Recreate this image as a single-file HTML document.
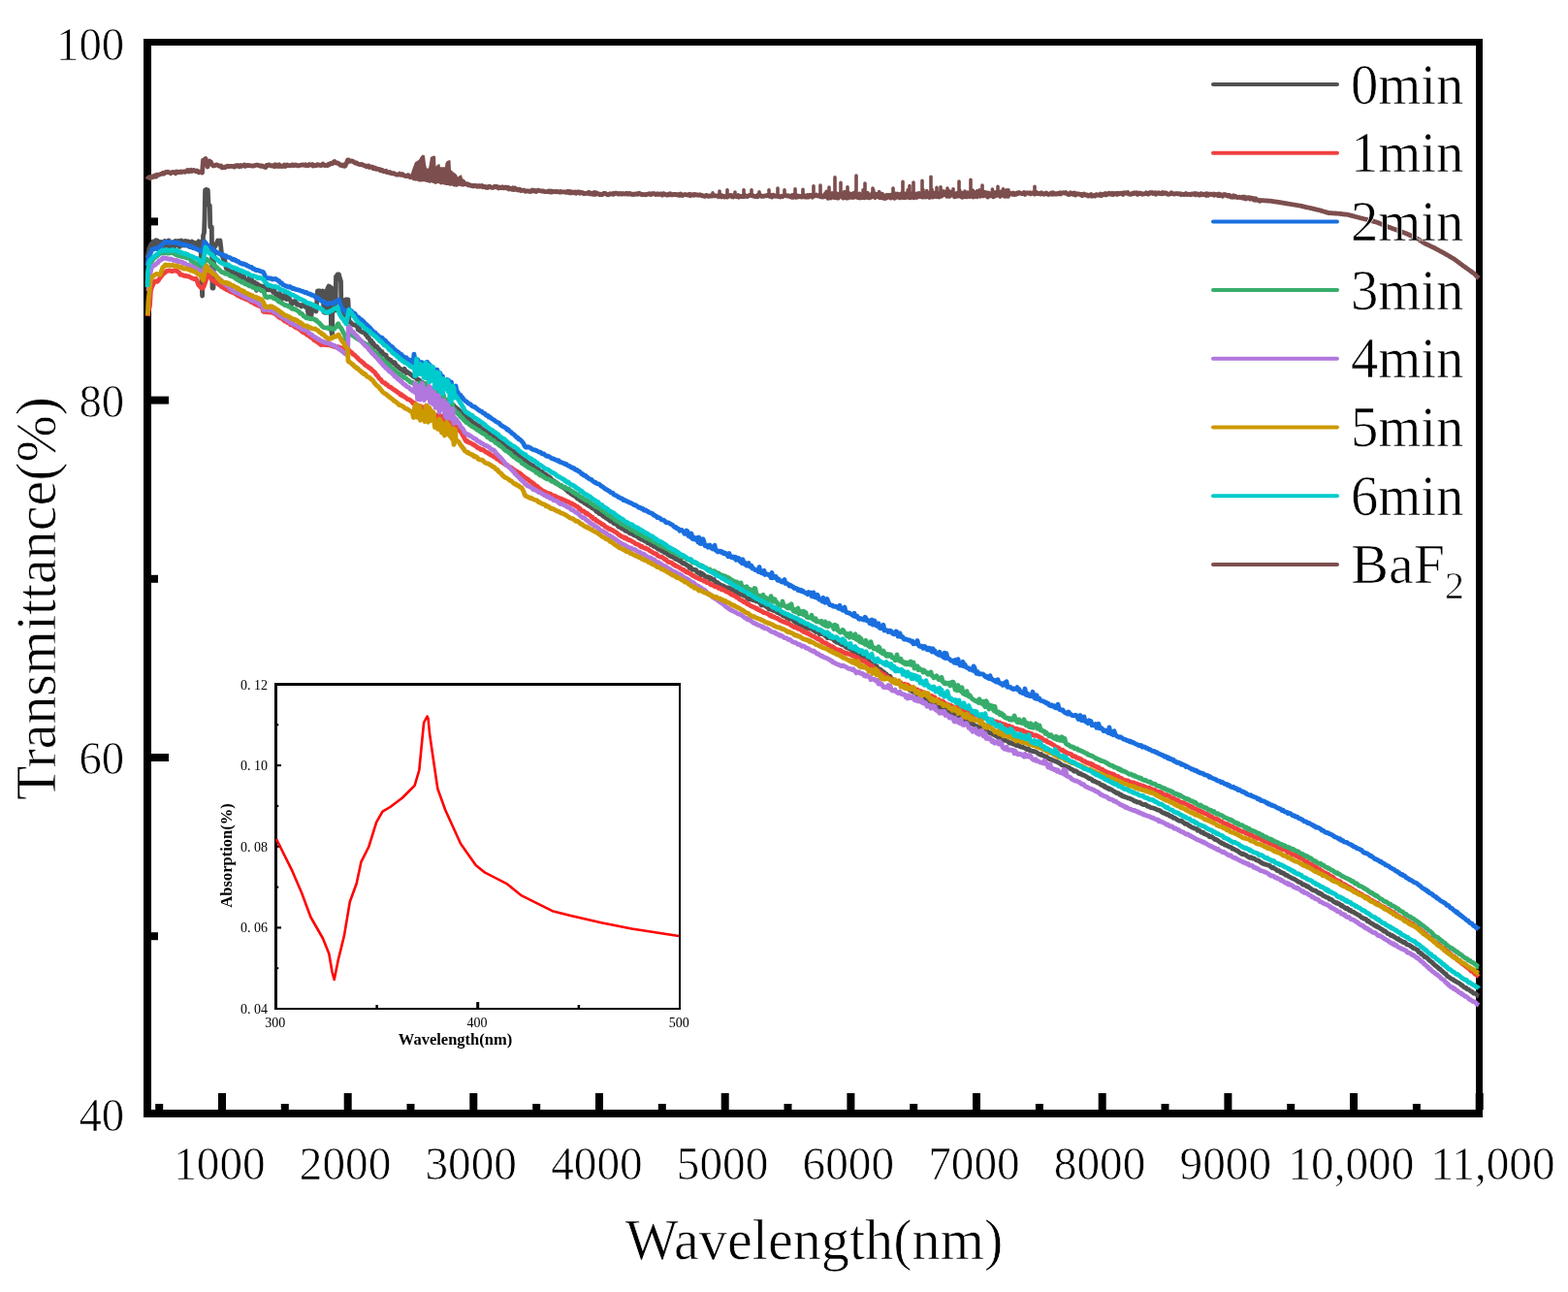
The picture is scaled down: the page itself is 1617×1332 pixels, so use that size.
<!DOCTYPE html>
<html><head><meta charset="utf-8"><style>
html,body{margin:0;padding:0;background:#fff;}
svg{display:block;}
text{font-family:"Liberation Serif","Times New Roman",serif;fill:#000;}
.tk text,.lg,.ti{stroke:#fff;stroke-width:0.7px;}
.tk{font-size:48px;}
.lg{font-size:59px;}
.ti{font-size:60px;}
.it{font-size:14px;}
.ia{font-size:16.5px;font-weight:bold;}
</style></head><body>
<svg width="1617" height="1332" viewBox="0 0 1617 1332">
<rect width="1617" height="1332" fill="#fff"/>
<g fill="#000">
<rect x="148" y="40" width="1381" height="7"/>
<rect x="148" y="1144" width="1381" height="8"/>
<rect x="148" y="40" width="8" height="1112"/>
<rect x="1522" y="40" width="7" height="1112"/>
<rect x="225.0" y="1127" width="8" height="17"/>
<rect x="354.7" y="1127" width="8" height="17"/>
<rect x="484.3" y="1127" width="8" height="17"/>
<rect x="614.0" y="1127" width="8" height="17"/>
<rect x="743.7" y="1127" width="8" height="17"/>
<rect x="873.4" y="1127" width="8" height="17"/>
<rect x="1003.0" y="1127" width="8" height="17"/>
<rect x="1132.7" y="1127" width="8" height="17"/>
<rect x="1262.4" y="1127" width="8" height="17"/>
<rect x="1392.0" y="1127" width="8" height="17"/>
<rect x="1521.7" y="1127" width="8" height="17"/>
<rect x="160.2" y="1138" width="8" height="6"/>
<rect x="289.8" y="1138" width="8" height="6"/>
<rect x="419.5" y="1138" width="8" height="6"/>
<rect x="549.2" y="1138" width="8" height="6"/>
<rect x="678.8" y="1138" width="8" height="6"/>
<rect x="808.5" y="1138" width="8" height="6"/>
<rect x="938.2" y="1138" width="8" height="6"/>
<rect x="1067.9" y="1138" width="8" height="6"/>
<rect x="1197.5" y="1138" width="8" height="6"/>
<rect x="1327.2" y="1138" width="8" height="6"/>
<rect x="1456.9" y="1138" width="8" height="6"/>
<rect x="156" y="408.6" width="18" height="8"/>
<rect x="156" y="777.0" width="18" height="8"/>
<rect x="156" y="224.4" width="7" height="8"/>
<rect x="156" y="592.8" width="7" height="8"/>
<rect x="156" y="961.2" width="7" height="8"/>
</g>
<g fill="none" stroke-width="4.8" stroke-linejoin="round" stroke-linecap="butt">
<path d="M152.0 266.0L153.0 260.6L154.0 256.0L155.0 254.2L156.0 251.5L156.5 251.8L157.0 251.2L157.5 252.5L158.0 249.0L158.5 253.3L159.0 253.3L159.5 250.6L160.0 249.9L160.5 254.9L161.0 247.7L161.5 254.7L162.0 249.4L162.5 248.2L163.0 250.8L163.5 249.7L164.0 249.3L164.5 250.1L165.0 253.4L165.5 252.7L166.0 254.7L166.5 249.4L167.0 253.0L167.5 254.9L168.0 253.8L168.5 250.5L169.0 254.4L169.5 252.1L170.0 248.5L170.5 253.4L171.0 249.3L171.5 253.1L172.0 251.0L172.5 251.6L173.0 252.1L173.5 251.5L174.0 247.9L174.5 255.3L175.0 251.1L175.5 251.3L176.0 254.2L176.5 254.3L177.0 251.5L177.5 252.8L178.0 250.1L178.5 255.0L179.0 253.1L179.5 254.8L180.0 254.2L180.5 252.2L181.0 248.5L181.5 252.7L182.0 251.4L182.5 250.7L183.0 251.8L183.5 252.7L184.0 248.4L184.5 249.2L185.0 254.4L185.5 254.2L186.0 250.5L186.5 253.4L187.0 247.9L187.5 253.0L188.0 248.8L188.5 250.9L189.0 248.9L189.5 249.5L190.0 253.0L190.5 250.5L191.0 248.5L191.5 251.2L192.0 248.7L192.5 252.4L193.0 252.3L193.5 248.9L194.0 248.8L194.5 249.8L195.0 253.4L195.5 250.0L196.0 254.5L196.5 250.0L197.0 251.3L197.5 250.7L198.0 249.0L198.5 255.0L199.0 251.0L199.5 251.0L200.0 254.2L200.5 250.1L201.0 254.0L201.5 253.6L202.0 253.0L202.5 254.1L203.0 254.0L203.5 251.1L204.0 249.7L204.5 251.7L205.0 248.8L205.5 250.8L206.0 250.8L206.5 252.4L207.0 252.0L207.8 279.0L208.6 305.0L209.5 243.0L210.5 240.0L211.0 226.0L211.6 196.0L212.5 195.4L213.4 195.6L214.3 196.0L215.0 211.0L216.3 212.0L216.8 234.0L217.6 233.8L218.3 234.0L219.0 297.0L220.0 297.0L220.8 252.0L222.0 254.0L223.2 251.6L224.5 248.0L225.8 248.3L227.0 248.0L227.8 254.8L228.5 262.0L229.4 264.2L230.4 267.0L231.3 266.6L232.2 270.3L233.2 276.7L234.1 273.2L235.1 282.5L236.0 279.0L237.0 279.4L238.0 282.7L239.0 280.8L240.0 277.9L241.0 277.7L242.0 285.1L243.0 281.1L244.0 287.6L245.0 284.9L246.0 283.0L247.0 283.9L248.0 282.7L249.0 284.7L250.0 287.0L251.0 285.0L252.0 286.0L252.9 290.5L253.9 292.1L254.8 289.8L255.8 289.9L256.8 288.5L257.7 284.2L258.7 289.3L259.6 288.3L260.6 296.1L261.5 291.7L262.5 291.0L263.5 293.9L264.5 299.4L265.5 292.7L266.5 295.1L267.5 296.4L268.5 294.5L269.5 299.4L270.6 295.1L271.6 295.2L272.6 296.1L273.6 299.5L274.6 296.7L275.6 297.8L276.6 298.9L277.6 298.6L278.6 298.8L279.6 296.3L280.6 296.7L281.6 301.2L282.6 298.4L283.6 302.4L284.6 303.7L285.6 304.8L286.6 302.7L287.6 307.5L288.6 302.8L289.6 309.7L290.6 304.5L291.6 307.0L292.6 306.0L293.6 307.6L294.6 302.5L295.6 308.7L296.6 307.6L297.6 305.8L298.6 308.5L299.6 309.7L300.6 314.3L301.6 311.0L302.6 311.2L303.6 310.5L304.6 310.7L305.6 313.3L306.6 314.2L307.6 313.6L308.7 314.5L309.7 314.9L310.8 315.9L311.8 314.5L312.9 314.9L313.9 315.0L315.0 316.5L316.0 313.7L317.0 318.1L318.0 324.2L319.0 318.0L320.0 318.0L321.0 325.1L322.0 318.8L323.0 318.8L324.0 319.1L325.0 319.8L326.0 321.0L326.8 310.3L327.5 300.0L328.8 299.9L330.0 300.0L331.0 305.0L332.0 302.8L333.0 300.0L334.0 322.0L335.2 322.3L336.5 322.0L337.0 300.0L338.0 297.1L339.0 295.0L340.0 295.7L341.0 296.0L341.5 340.0L342.5 345.0L343.0 300.0L344.0 298.1L345.0 297.0L346.0 320.0L346.5 285.0L347.2 284.6L348.0 283.0L348.8 282.9L349.5 283.0L350.5 287.0L351.5 290.0L352.0 322.0L353.0 323.3L354.0 324.1L355.0 325.0L356.0 309.0L357.0 308.7L358.0 309.0L359.0 309.0L360.0 332.0L360.8 331.7L361.5 332.3L362.5 333.3L363.4 334.4L364.4 334.9L365.4 335.0L366.3 335.3L367.3 335.7L368.2 335.9L369.2 339.7L370.2 337.4L371.1 341.1L372.1 341.6L373.1 342.3L374.0 342.4L375.0 343.0L376.0 343.3L377.0 344.9L378.0 345.2L379.0 347.8L380.0 347.9L381.0 349.5L382.0 352.2L383.0 351.2L384.0 354.6L385.0 353.7L386.0 356.7L387.0 357.5L388.0 356.9L389.0 357.8L390.0 359.9L391.0 360.1L392.0 361.6L393.0 364.9L394.0 362.5L395.0 365.5L396.0 365.3L397.0 365.7L398.0 366.0L399.0 369.6L400.0 370.8L401.0 370.2L402.0 372.7L403.0 371.3L404.0 373.5L405.0 373.2L406.0 374.6L407.0 373.8L408.0 375.5L409.0 377.5L410.0 377.5L411.0 378.5L412.0 379.8L413.0 380.4L414.0 381.2L415.0 381.5L416.0 382.8L417.0 380.2L418.0 382.8L419.0 384.5L420.0 383.4L421.0 384.4L422.0 384.7L423.0 385.6L424.0 386.6L425.0 387.0L426.0 388.2L427.0 387.9L428.0 389.2L429.0 389.4L430.0 391.0L431.0 390.9L432.0 391.6L433.0 392.7L434.0 393.9L435.0 394.1L436.0 394.6L437.0 396.2L438.0 396.9L439.0 397.7L440.0 398.0L441.0 398.5L442.0 399.4L443.0 399.9L444.0 401.1L445.0 401.5L446.0 402.3L447.0 403.6L448.0 404.5L449.0 404.9L450.0 405.0L451.0 406.4L452.0 406.9L453.0 408.3L454.0 408.8L455.0 409.7L456.0 410.2L457.0 410.8L458.0 412.0L459.0 412.6L460.0 413.0L461.0 413.4L462.0 414.0L463.0 414.9L464.0 415.8L465.0 416.0L466.0 417.0L467.0 418.0L468.0 418.1L469.0 419.7L470.0 420.0L471.0 421.1L472.0 421.6L473.0 422.5L474.0 423.5L475.0 424.4L476.0 425.9L477.0 426.5L478.0 427.5L479.0 427.9L480.0 429.3L481.0 430.5L482.0 430.5L483.0 431.3L484.0 431.7L485.0 433.5L486.0 433.6L487.0 434.9L488.0 435.6L489.0 436.4L490.0 436.9L491.0 437.8L492.0 438.5L493.0 439.1L494.0 439.0L495.0 440.2L496.0 441.0L497.0 442.2L498.0 442.7L499.0 443.3L500.0 444.1L501.0 444.3L502.0 445.7L503.0 446.1L504.0 446.5L505.0 447.3L506.0 448.7L507.0 448.9L508.0 449.2L509.0 449.9L510.0 451.0L511.0 452.0L512.0 452.6L513.0 453.7L514.0 453.6L515.0 454.7L516.0 455.8L517.0 455.7L518.0 456.5L519.0 457.8L520.0 458.3L521.0 458.8L522.0 459.8L523.0 461.0L524.0 461.6L525.0 461.8L526.0 462.5L527.0 464.2L528.0 464.7L529.0 464.9L530.0 466.5L531.0 466.2L532.0 467.4L533.0 468.7L534.0 469.3L535.0 469.6L536.0 471.1L537.0 471.5L538.0 472.5L539.0 473.3L540.0 473.6L541.0 474.2L542.0 475.2L543.0 475.7L544.0 476.9L545.0 477.4L546.0 478.0L547.0 478.8L548.0 479.8L549.0 479.6L550.0 480.2L551.0 481.5L552.0 482.3L553.0 482.7L554.0 483.3L555.0 483.9L556.0 485.2L557.0 485.8L558.0 486.2L559.0 486.3L560.0 487.5L561.0 488.7L562.0 488.9L563.0 489.3L564.0 490.2L565.0 491.4L566.0 491.3L567.0 492.2L568.0 493.1L569.0 494.6L570.0 495.1L571.0 496.1L572.0 496.4L573.0 497.1L574.0 497.8L575.0 498.5L576.0 499.3L577.0 500.3L578.0 501.2L579.0 501.3L580.0 502.3L581.0 502.7L582.0 503.4L583.0 504.4L584.0 505.2L585.0 505.9L586.0 507.1L587.0 506.9L588.0 508.2L589.0 509.4L590.0 509.5L591.0 510.5L592.0 511.0L593.0 511.4L594.0 512.2L595.0 513.5L596.0 514.2L597.0 514.6L598.0 515.6L599.0 516.3L600.0 516.9L601.0 517.0L602.0 517.8L603.0 518.9L604.0 519.1L605.0 520.2L606.0 520.6L607.0 521.1L608.0 522.0L609.0 522.3L610.0 523.3L611.0 524.0L612.0 524.2L613.0 525.1L614.0 525.9L615.0 527.3L616.0 527.7L617.0 528.1L618.0 529.6L619.0 529.4L620.0 530.4L621.0 531.1L622.0 532.0L623.0 532.7L624.0 533.0L625.0 534.1L626.0 534.4L627.0 535.4L628.0 535.8L629.0 537.0L630.0 537.4L631.0 537.3L632.0 538.1L633.0 539.7L634.0 539.5L635.0 540.0L636.0 540.9L637.0 541.9L638.0 543.1L639.0 543.1L640.0 543.9L641.0 544.7L642.0 545.4L643.0 545.1L644.0 546.2L645.0 547.3L646.0 547.3L647.0 547.8L648.0 548.1L649.0 549.4L650.0 550.0L651.0 549.5L652.0 550.6L653.0 551.0L654.0 551.9L655.0 551.7L656.0 552.5L657.0 553.0L658.0 553.8L659.0 554.8L660.0 555.4L661.0 555.9L662.0 556.3L663.0 556.1L664.0 557.0L665.0 557.9L666.0 558.0L667.0 558.8L668.0 559.9L669.0 559.5L670.0 560.5L671.0 561.5L672.0 561.2L673.0 562.1L674.0 563.3L675.0 563.0L676.0 564.0L677.0 564.4L678.0 565.6L679.0 566.3L680.0 566.0L681.0 566.8L682.0 567.9L683.0 568.1L684.0 568.2L685.0 569.5L686.0 569.5L687.0 570.3L688.0 570.3L689.0 572.0L690.0 572.2L691.0 573.1L692.0 573.7L693.0 573.5L694.0 574.4L695.0 574.8L696.0 575.8L697.0 576.5L698.0 576.3L699.0 577.0L700.0 577.8L701.0 578.5L702.0 578.0L703.0 579.9L704.0 580.9L705.0 580.4L706.0 581.0L707.0 581.9L708.0 582.2L709.0 583.1L710.0 583.5L711.0 585.5L712.0 584.5L713.0 586.1L714.0 587.3L715.0 587.3L716.0 587.5L717.0 587.3L718.0 587.9L719.0 590.1L720.0 590.3L721.0 591.3L722.0 590.4L723.0 592.7L724.0 591.3L725.0 592.0L726.0 592.7L727.0 594.0L728.0 594.8L729.0 595.2L730.0 594.6L731.0 595.1L732.0 597.3L733.0 595.7L734.0 597.1L735.0 597.5L736.0 597.2L737.0 598.6L738.0 600.5L739.0 600.3L740.0 600.5L741.0 602.0L742.0 602.2L743.0 603.2L744.0 603.7L745.0 603.6L746.0 604.1L747.0 604.6L748.0 605.6L749.0 605.7L750.0 606.0L751.0 605.9L752.0 606.0L753.0 607.4L754.0 607.1L755.0 608.3L756.0 607.9L757.0 609.4L758.0 609.9L759.0 611.1L760.0 609.9L761.0 611.3L762.0 612.0L763.0 612.4L764.0 612.9L765.0 613.1L766.0 613.3L767.0 614.1L768.0 613.6L769.0 614.5L770.0 616.1L771.0 614.9L772.0 617.6L773.0 616.7L774.0 618.0L775.0 618.2L776.0 618.1L777.0 618.9L778.0 618.3L779.0 618.6L780.0 620.0L781.0 619.8L782.0 619.7L783.0 621.1L784.0 621.4L785.0 624.0L786.0 623.9L787.0 623.5L788.0 624.0L789.0 624.4L790.0 625.3L791.0 625.8L792.0 626.3L793.0 627.9L794.0 626.7L795.0 627.4L796.0 628.7L797.0 629.1L798.0 629.5L799.0 629.6L800.0 630.1L801.0 631.0L802.0 631.6L803.0 631.5L804.0 632.6L805.0 632.7L806.0 632.9L807.0 634.7L808.0 635.2L809.0 634.9L810.0 635.5L811.0 636.5L812.0 636.1L813.0 637.0L814.0 638.4L815.0 637.6L816.0 637.5L817.0 637.5L818.0 639.5L819.0 640.6L820.0 639.4L821.0 642.0L822.0 640.9L823.0 641.9L824.0 643.4L825.0 642.6L826.0 643.2L827.0 645.1L828.0 644.1L829.0 644.9L830.0 646.6L831.0 645.4L832.0 646.0L833.0 647.8L834.0 647.8L835.0 648.1L836.0 647.6L837.0 648.1L838.0 649.0L839.0 649.9L840.0 650.0L841.0 651.4L842.0 649.7L843.0 651.7L844.0 651.6L845.0 653.6L846.0 652.9L847.0 653.4L848.0 653.8L849.0 653.9L850.0 654.3L851.0 655.6L852.0 655.7L853.0 657.5L854.0 657.6L855.0 656.6L856.0 657.4L857.0 658.2L858.0 657.8L859.0 658.6L860.0 660.0L861.0 661.0L862.0 660.6L863.0 662.3L864.0 662.1L865.0 662.7L866.0 663.5L867.0 663.9L868.0 664.8L869.0 664.5L870.0 664.9L871.0 665.7L872.0 666.9L873.0 667.7L874.0 667.8L875.0 668.4L876.0 668.3L877.0 669.4L878.0 669.7L879.0 671.3L880.0 672.0L881.0 670.7L882.0 672.5L883.0 674.3L884.0 673.0L885.0 674.9L886.0 673.8L887.0 674.6L888.0 676.8L889.0 676.6L890.0 677.0L891.0 677.5L892.0 678.3L893.0 677.9L894.0 680.2L895.0 680.7L896.0 681.3L897.0 682.9L898.0 683.6L899.0 685.3L900.0 684.8L901.0 684.4L902.0 685.9L903.0 686.9L904.0 686.6L905.0 689.0L906.0 690.6L907.0 689.9L908.0 690.1L909.0 692.4L910.0 691.8L911.0 693.2L912.0 693.2L913.0 696.0L914.0 694.9L915.0 696.6L916.0 696.7L917.0 698.1L918.0 697.3L919.0 700.2L920.0 700.0L921.0 700.8L922.0 702.4L923.0 702.5L924.0 703.1L925.0 703.8L926.0 704.5L927.0 704.0L928.0 704.5L929.0 705.2L930.0 706.0L931.0 707.6L932.0 707.4L933.0 709.0L934.0 707.7L935.0 708.1L936.0 709.8L937.0 710.1L938.0 711.1L939.0 711.7L940.0 712.3L941.0 713.2L942.0 711.9L943.0 713.0L944.0 714.2L945.0 714.2L946.0 716.3L947.0 717.5L948.0 716.0L949.0 717.1L950.0 718.0L951.0 718.5L952.0 719.8L953.0 720.0L954.0 719.1L955.0 720.9L956.0 720.5L957.0 721.8L958.0 721.7L959.0 723.6L960.0 724.2L961.0 725.4L962.0 723.9L963.0 726.6L964.0 725.4L965.0 726.8L966.0 726.1L967.0 728.7L968.0 727.8L969.0 729.7L970.0 730.2L971.0 728.8L972.0 730.2L973.0 730.1L974.0 730.3L975.0 732.4L976.0 733.7L977.0 733.8L978.0 734.2L979.0 733.4L980.0 735.0L981.0 734.6L982.0 735.5L983.0 736.0L984.0 736.5L985.0 737.2L986.0 737.6L987.0 738.1L988.0 739.0L989.0 740.1L990.0 739.9L991.0 739.0L992.0 740.8L993.0 742.6L994.0 742.3L995.0 741.5L996.0 743.3L997.0 744.8L998.0 744.5L999.0 744.6L1000.0 745.3L1001.0 745.6L1002.0 746.4L1003.0 746.4L1004.0 747.0L1005.0 747.9L1006.0 748.2L1007.0 748.5L1008.0 749.1L1009.0 749.9L1010.0 750.1L1011.0 750.2L1012.0 750.8L1013.0 751.6L1014.0 751.5L1015.0 752.4L1016.0 753.5L1017.0 753.2L1018.0 753.9L1019.0 754.7L1020.0 755.5L1021.0 755.7L1022.0 756.2L1023.0 756.4L1024.0 756.9L1025.0 757.7L1026.0 757.8L1027.0 758.8L1028.0 758.4L1029.0 759.8L1030.0 760.3L1031.0 760.3L1032.0 760.4L1033.0 761.3L1034.0 762.1L1035.0 762.8L1036.0 763.4L1037.0 763.2L1038.0 763.5L1039.0 764.0L1040.0 765.0L1041.0 766.0L1042.0 765.9L1043.0 765.7L1044.0 766.7L1045.0 767.4L1046.0 767.4L1047.0 767.3L1048.0 768.6L1049.0 768.6L1050.0 768.4L1051.0 769.5L1052.0 769.5L1053.0 770.0L1054.0 770.1L1055.0 770.4L1056.0 770.9L1057.0 771.4L1058.0 771.7L1059.0 772.6L1060.0 772.0L1061.0 772.5L1062.0 773.8L1063.0 773.8L1064.0 774.2L1065.0 774.6L1066.0 774.5L1067.0 775.0L1068.0 775.2L1069.0 775.5L1070.0 776.3L1071.0 777.4L1072.0 777.5L1073.0 778.2L1074.0 777.6L1075.0 778.9L1076.0 778.9L1077.0 779.6L1078.0 780.3L1079.0 780.0L1080.0 780.9L1081.0 781.6L1082.0 782.5L1083.0 782.5L1084.0 782.8L1085.0 783.6L1086.0 784.0L1087.0 784.2L1088.0 784.9L1089.0 785.1L1090.0 785.2L1091.0 786.1L1092.0 786.3L1093.0 787.3L1094.0 787.7L1095.0 788.7L1096.0 789.0L1097.0 789.5L1098.0 790.2L1099.0 789.8L1100.0 790.6L1101.0 791.0L1102.0 791.3L1103.0 791.7L1104.0 792.7L1105.0 793.2L1106.0 793.3L1107.0 794.7L1108.0 795.3L1109.0 794.7L1110.0 795.2L1111.0 795.8L1112.0 797.1L1113.0 797.8L1114.0 797.3L1115.0 797.8L1116.0 798.9L1117.0 799.2L1118.0 799.4L1119.0 799.9L1120.0 800.6L1121.0 801.1L1122.0 801.8L1123.0 802.6L1124.0 802.7L1125.0 803.2L1126.0 803.7L1127.0 805.1L1128.0 804.8L1129.0 805.7L1130.0 806.1L1131.0 806.5L1132.0 807.1L1133.0 807.1L1134.0 807.8L1135.0 808.9L1136.0 809.6L1137.0 809.4L1138.0 809.9L1139.0 811.3L1140.0 810.9L1141.0 812.2L1142.0 812.8L1143.0 812.5L1144.0 813.8L1145.0 813.5L1146.0 813.9L1147.0 814.7L1148.0 815.3L1149.0 816.1L1150.0 816.4L1151.0 817.4L1152.0 817.8L1153.0 817.6L1154.0 818.2L1155.0 819.4L1156.0 819.2L1157.0 820.7L1158.0 821.0L1159.0 820.8L1160.0 821.7L1161.0 821.8L1162.0 822.2L1163.0 822.8L1164.0 822.9L1165.0 823.1L1166.0 823.7L1167.0 824.0L1168.0 824.6L1169.0 825.1L1170.0 826.0L1171.0 826.1L1172.0 826.5L1173.0 827.2L1174.0 827.0L1175.0 827.4L1176.0 827.6L1177.0 828.7L1178.0 829.1L1179.0 829.5L1180.0 829.6L1181.0 829.4L1182.0 829.7L1183.0 831.0L1184.0 831.4L1185.0 831.4L1186.0 832.3L1187.0 832.7L1188.0 832.8L1189.0 832.8L1190.0 833.3L1191.0 833.7L1192.0 834.1L1193.0 834.6L1194.0 835.2L1195.0 835.1L1196.0 835.7L1197.0 836.2L1198.0 837.2L1199.0 838.0L1200.0 838.3L1201.0 838.1L1202.0 839.0L1203.0 839.6L1204.0 839.5L1205.0 839.9L1206.0 841.1L1207.0 841.1L1208.0 842.1L1209.0 842.0L1210.0 843.3L1211.0 843.1L1212.0 843.7L1213.0 844.3L1214.0 845.2L1215.0 845.7L1216.0 846.1L1217.0 846.4L1218.0 846.1L1219.0 846.7L1220.0 847.6L1221.0 848.2L1222.0 849.3L1223.0 849.5L1224.0 849.4L1225.0 850.1L1226.0 851.4L1227.0 851.4L1228.0 852.3L1229.0 852.8L1230.0 853.3L1231.0 853.6L1232.0 854.2L1233.0 854.4L1234.0 854.6L1235.0 856.2L1236.0 855.6L1237.0 856.4L1238.0 857.4L1239.0 858.3L1240.0 858.0L1241.0 858.5L1242.0 859.8L1243.0 859.7L1244.0 860.3L1245.0 860.8L1246.0 861.0L1247.0 862.6L1248.0 862.8L1249.0 862.5L1250.0 863.2L1251.0 863.7L1252.0 864.6L1253.0 865.7L1254.0 865.4L1255.0 866.0L1256.0 866.6L1257.0 867.4L1258.0 868.4L1259.0 868.5L1260.0 869.5L1261.0 869.6L1262.0 870.0L1263.0 871.1L1264.0 871.2L1265.0 871.6L1266.0 872.2L1267.0 872.6L1268.0 873.2L1269.0 873.3L1270.0 874.0L1271.0 875.2L1272.0 875.0L1273.0 875.6L1274.0 876.1L1275.0 876.9L1276.0 877.0L1277.0 877.9L1278.0 878.8L1279.0 879.4L1280.0 879.7L1281.0 880.6L1282.0 880.1L1283.0 881.2L1284.0 881.1L1285.0 881.8L1286.0 882.5L1287.0 883.3L1288.0 883.5L1289.0 884.4L1290.0 883.7L1291.0 884.5L1292.0 885.1L1293.0 885.0L1294.0 885.5L1295.0 886.3L1296.0 887.0L1297.0 887.0L1298.0 887.3L1299.0 888.1L1300.0 889.1L1301.0 889.3L1302.0 890.3L1303.0 890.3L1304.0 891.0L1305.0 891.1L1306.0 891.5L1307.0 891.8L1308.0 891.9L1309.0 892.3L1310.0 893.3L1311.0 894.0L1312.0 894.8L1313.0 894.3L1314.0 895.1L1315.0 895.8L1316.0 896.3L1317.0 897.5L1318.0 897.3L1319.0 897.9L1320.0 898.7L1321.0 899.7L1322.0 899.5L1323.0 900.4L1324.0 900.3L1325.0 901.3L1326.0 902.4L1327.0 902.1L1328.0 902.8L1329.0 903.7L1330.0 904.1L1331.0 904.7L1332.0 905.2L1333.0 905.9L1334.0 906.0L1335.0 906.5L1336.0 907.1L1337.0 907.8L1338.0 908.4L1339.0 909.3L1340.0 909.4L1341.0 909.8L1342.0 910.5L1343.0 911.5L1344.0 912.2L1345.0 911.9L1346.0 913.0L1347.0 913.0L1348.0 914.2L1349.0 913.9L1350.0 915.0L1351.0 915.6L1352.0 916.3L1353.0 917.2L1354.0 917.6L1355.0 917.9L1356.0 918.3L1357.0 918.3L1358.0 919.5L1359.0 920.1L1360.0 920.9L1361.0 920.7L1362.0 921.8L1363.0 921.7L1364.0 923.1L1365.0 923.7L1366.0 923.8L1367.0 924.7L1368.0 925.2L1369.0 925.4L1370.0 925.7L1371.0 927.0L1372.0 927.1L1373.0 927.4L1374.0 928.3L1375.0 929.3L1376.0 930.0L1377.0 930.1L1378.0 931.2L1379.0 930.8L1380.0 931.7L1381.0 931.7L1382.0 932.5L1383.0 933.9L1384.0 933.4L1385.0 934.7L1386.0 935.1L1387.0 936.2L1388.0 936.8L1389.0 936.3L1390.0 937.0L1391.0 938.5L1392.0 938.2L1393.0 938.6L1394.0 940.0L1395.0 940.2L1396.0 940.4L1397.0 941.3L1398.0 941.7L1399.0 942.3L1400.0 942.9L1401.0 943.6L1402.0 943.7L1403.0 944.9L1404.0 945.9L1405.0 946.1L1406.0 947.0L1407.0 947.0L1408.0 947.4L1409.0 947.9L1410.0 949.7L1411.0 949.3L1412.0 950.2L1413.0 951.1L1414.0 951.9L1415.0 952.3L1416.0 952.7L1417.0 953.8L1418.0 954.0L1419.0 955.1L1420.0 954.8L1421.0 956.2L1422.0 956.1L1423.0 957.0L1424.0 957.7L1425.0 958.0L1426.0 959.0L1427.0 960.1L1428.0 959.7L1429.0 960.5L1430.0 961.5L1431.0 962.6L1432.0 962.6L1433.0 963.1L1434.0 964.3L1435.0 964.7L1436.0 964.5L1437.0 965.6L1438.0 965.6L1439.0 966.9L1440.0 967.2L1441.0 968.1L1442.0 967.8L1443.0 969.4L1444.0 969.1L1445.0 970.4L1446.0 970.5L1447.0 971.6L1448.0 971.2L1449.0 971.7L1450.0 972.8L1451.0 973.9L1452.0 973.9L1453.0 974.5L1454.0 974.7L1455.0 975.7L1456.0 976.1L1457.0 977.3L1458.0 977.7L1459.0 977.9L1460.0 978.5L1461.0 978.9L1462.0 979.7L1463.0 981.6L1464.0 982.0L1465.0 982.4L1466.0 983.9L1467.0 984.0L1468.0 985.1L1469.0 986.5L1470.0 986.4L1471.0 987.2L1472.0 988.0L1473.0 989.0L1474.0 990.1L1475.0 990.8L1476.0 991.6L1477.0 992.1L1478.0 993.6L1479.0 994.3L1480.0 995.5L1481.0 995.8L1482.0 997.0L1483.0 997.5L1484.0 998.9L1485.0 999.0L1486.0 1000.3L1487.0 1001.0L1488.0 1001.9L1489.0 1002.8L1490.0 1003.7L1491.0 1004.2L1492.0 1005.7L1493.0 1006.7L1494.0 1007.0L1495.0 1007.8L1496.0 1008.6L1497.0 1009.3L1498.0 1009.5L1499.0 1010.5L1500.0 1011.0L1501.0 1011.6L1502.0 1012.2L1503.0 1013.0L1504.0 1013.2L1505.0 1013.9L1506.0 1014.5L1507.0 1015.6L1508.0 1015.8L1509.0 1017.1L1510.0 1017.9L1511.0 1018.4L1512.0 1018.5L1513.0 1019.9L1514.0 1019.8L1515.0 1020.4L1516.0 1021.4L1517.0 1022.1L1518.0 1022.4L1519.0 1023.5L1520.0 1024.2L1521.0 1024.2L1522.0 1024.7L1523.0 1025.6L1524.0 1026.6L1525.0 1027.0" stroke="#515151"/>
<path d="M152.5 326.0L153.0 321.0L153.8 318.5L154.5 315.0L155.4 300.0L156.6 295.8L157.8 293.6L159.0 290.4L160.0 289.9L161.0 289.9L162.0 290.4L163.0 289.5L164.0 288.1L165.0 286.7L166.0 285.0L167.0 284.0L168.0 282.6L169.0 281.9L170.0 281.1L171.0 280.2L172.0 279.4L173.0 279.3L174.0 279.0L175.0 278.9L176.0 279.3L177.0 279.6L178.0 279.5L179.0 279.1L180.0 279.0L180.9 279.2L181.8 279.3L182.7 279.3L183.6 280.2L184.8 281.1L186.0 283.2L187.0 283.4L188.0 283.4L189.0 283.7L190.0 284.5L191.0 284.2L192.0 284.4L193.0 284.9L194.0 284.9L195.0 285.0L196.0 285.8L197.0 286.0L198.0 286.8L199.1 287.0L200.2 287.7L201.2 287.5L202.3 287.4L203.2 289.4L204.0 292.2L204.9 293.9L205.8 295.0L206.8 296.1L207.7 297.0L208.8 296.9L210.0 295.8L211.2 292.5L212.5 288.6L213.7 282.6L214.8 284.1L216.0 285.0L217.0 286.0L218.0 288.0L219.0 288.6L220.0 289.8L221.0 289.4L222.0 290.4L222.9 291.5L223.8 292.2L224.8 292.6L225.7 293.4L226.6 294.0L227.5 294.6L228.4 295.7L229.3 295.8L230.3 296.3L231.2 297.3L232.2 297.2L233.2 298.4L234.2 298.9L235.1 298.9L236.1 299.6L237.1 300.5L238.1 300.8L239.0 301.1L240.0 301.6L241.0 301.8L242.0 302.4L243.0 303.3L244.0 303.2L245.0 304.6L246.0 304.3L247.0 305.5L248.0 305.3L249.0 306.6L250.0 306.8L251.0 307.0L252.0 307.5L253.0 308.2L254.0 308.6L255.0 309.0L256.0 309.3L257.0 309.7L258.0 310.5L259.0 311.5L260.0 311.7L261.0 311.5L262.0 312.9L263.0 313.3L264.0 314.0L265.0 313.7L266.0 314.9L267.0 314.6L268.0 315.8L269.0 315.8L270.0 316.6L270.8 318.5L271.5 321.0L272.5 321.5L273.5 320.7L274.5 321.3L275.5 321.8L276.6 321.1L277.6 321.2L278.6 322.1L279.6 321.6L280.6 321.8L281.6 322.7L282.6 322.6L283.6 323.7L284.6 324.1L285.6 325.4L286.6 325.4L287.6 327.1L288.6 326.7L289.6 328.2L290.6 328.1L291.6 329.0L292.6 330.0L293.6 331.0L294.6 330.8L295.6 331.4L296.6 332.6L297.6 332.9L298.6 333.1L299.6 334.8L300.6 334.4L301.6 334.8L302.6 335.8L303.6 336.7L304.6 337.5L305.6 337.3L306.6 338.2L307.6 339.0L308.7 339.1L309.7 340.3L310.8 341.3L311.8 341.9L312.9 342.8L313.9 343.2L315.0 343.6L316.0 344.8L317.0 345.3L318.0 345.8L319.0 346.3L320.0 347.5L321.0 347.9L322.0 348.3L323.0 349.5L324.0 350.8L325.0 350.6L326.0 351.9L327.0 352.4L328.0 353.3L329.0 353.6L330.0 354.8L331.0 355.5L332.0 354.8L333.0 355.4L334.0 355.3L335.0 355.0L336.0 355.7L337.0 355.4L338.0 355.4L339.0 355.6L340.0 355.9L341.0 355.9L342.0 356.7L343.0 356.7L344.0 357.4L345.0 357.0L346.0 357.8L347.0 358.1L348.0 357.4L349.0 357.9L350.0 357.9L351.0 358.5L352.0 358.8L353.0 359.2L354.0 359.3L355.0 359.0L356.0 359.4L357.0 359.8L358.0 360.0L359.0 360.2L360.0 361.0L361.0 362.3L362.0 363.1L363.0 363.7L364.0 365.3L365.0 365.6L366.0 366.4L367.0 367.4L368.0 368.4L369.0 369.2L370.0 370.5L371.0 371.3L372.0 372.1L373.0 372.7L374.0 373.9L375.0 374.2L376.0 375.8L377.0 376.7L378.0 377.2L379.0 377.7L380.0 378.6L381.0 379.5L382.0 379.6L383.0 380.9L384.0 381.8L385.0 382.6L386.0 383.4L387.0 384.4L388.0 386.4L389.0 387.0L390.0 388.4L391.0 390.0L392.0 390.8L393.0 391.5L394.0 393.5L395.0 394.1L396.0 394.6L397.0 394.9L398.0 396.4L399.0 396.4L400.0 397.3L401.0 398.7L402.0 399.2L403.0 399.1L404.0 400.3L405.0 400.9L406.0 401.7L407.0 402.1L408.0 403.2L409.0 403.3L410.0 404.5L411.0 404.9L412.0 405.7L413.0 407.0L414.0 406.6L415.0 408.1L416.0 408.1L417.0 409.2L418.0 409.7L419.0 410.4L420.0 411.4L421.0 411.6L422.0 412.0L423.0 412.6L424.0 413.2L425.0 414.4L425.5 415.2L426.0 415.3L426.5 416.0L427.0 416.0L427.5 415.6L428.0 416.7L428.5 417.2L429.0 417.5L429.5 417.6L430.0 417.8L430.5 418.2L431.0 419.0L431.5 418.7L432.0 419.2L432.5 422.1L433.0 422.6L433.5 418.6L434.0 419.3L434.5 422.1L435.0 422.5L435.5 419.8L436.0 425.0L436.5 421.6L437.0 419.9L437.5 426.6L438.0 421.5L438.5 422.1L439.0 425.6L439.5 424.7L440.0 425.0L440.5 425.0L441.0 427.5L441.5 425.2L442.0 424.6L442.5 426.2L443.0 425.8L443.5 428.6L444.0 424.5L444.5 423.8L445.0 429.3L445.5 426.8L446.0 426.7L446.5 430.4L447.0 427.8L447.5 427.4L448.0 429.3L448.5 430.7L449.0 428.9L449.5 429.5L450.0 430.2L450.5 428.2L451.0 431.8L451.5 431.5L452.0 431.7L452.5 430.7L453.0 432.8L453.5 431.6L454.0 428.9L454.5 431.4L455.0 432.2L455.5 431.2L456.0 429.6L456.5 431.2L457.0 434.0L457.5 428.2L458.0 433.9L458.5 433.8L459.0 433.3L459.5 430.9L460.0 429.8L460.5 433.9L461.0 434.2L461.5 433.0L462.0 435.4L462.5 431.9L463.0 432.7L463.5 432.8L464.0 434.0L464.5 434.2L465.0 434.6L465.5 434.5L466.0 437.8L466.5 436.8L467.0 436.9L467.5 435.2L468.0 436.9L468.5 438.4L469.0 439.1L469.5 439.5L470.0 439.7L470.5 440.7L471.0 440.4L471.5 441.5L472.0 441.7L472.5 442.4L473.0 443.3L473.5 443.8L474.0 444.1L474.5 444.2L475.0 445.0L476.0 446.5L477.0 448.5L478.0 450.1L479.0 451.9L480.0 454.0L481.0 455.1L482.0 454.7L483.0 456.1L484.0 456.1L485.0 456.7L486.0 457.2L487.0 457.5L488.0 458.5L489.0 458.7L490.0 459.6L491.0 460.0L492.0 461.3L493.0 461.9L494.0 461.9L495.0 462.7L496.0 463.6L497.0 463.4L498.0 463.7L499.0 464.5L500.0 465.0L501.0 466.1L502.0 466.3L503.0 466.9L504.0 468.0L505.0 467.8L506.0 469.1L507.0 469.5L508.0 469.7L509.0 470.8L510.0 471.0L511.0 471.5L512.0 472.8L513.0 473.5L514.0 473.7L515.0 474.6L516.0 475.5L517.0 476.0L518.0 476.6L519.0 477.4L520.0 478.2L521.0 478.6L522.0 479.6L523.0 479.4L524.0 480.5L525.0 481.2L526.0 481.5L527.0 482.2L528.0 482.6L529.0 484.2L530.0 484.2L531.0 485.0L532.0 486.1L533.0 486.0L534.0 487.6L535.0 487.2L536.0 487.8L537.0 488.8L538.0 489.5L539.0 490.8L540.0 491.0L541.0 492.2L542.0 492.9L543.0 493.2L544.0 494.2L545.0 494.6L546.0 496.1L547.0 496.3L548.0 496.9L549.0 498.1L550.0 498.3L551.0 499.3L552.0 500.8L553.0 500.6L554.0 501.4L555.0 502.3L556.0 503.1L557.0 504.1L558.0 504.7L559.0 505.5L560.0 506.5L561.0 506.6L562.0 507.0L563.0 507.9L564.0 508.0L565.0 508.4L566.0 509.3L567.0 508.9L568.0 509.4L569.0 510.7L570.0 510.6L571.0 511.4L572.0 511.1L573.0 511.9L574.0 512.7L575.0 512.6L576.0 513.5L577.0 513.7L578.0 513.9L579.0 515.0L580.0 514.7L581.0 515.2L582.0 515.8L583.0 515.9L584.0 516.9L585.0 517.0L586.0 517.4L587.0 517.8L588.0 518.7L589.0 519.2L590.0 519.0L591.0 520.1L592.0 520.3L593.0 521.0L594.0 521.8L595.0 522.0L596.0 522.7L597.0 524.5L598.0 524.2L599.0 525.8L600.0 526.2L601.0 527.2L602.0 526.9L603.0 527.9L604.0 529.2L605.0 528.9L606.0 529.7L607.0 530.7L608.0 531.2L609.0 531.9L610.0 533.2L611.0 533.2L612.0 535.0L613.0 535.3L614.0 535.3L615.0 537.0L616.0 536.9L617.0 537.9L618.0 538.7L619.0 538.9L620.0 540.0L621.0 540.6L622.0 540.7L623.0 541.5L624.0 542.9L625.0 543.4L626.0 543.7L627.0 544.5L628.0 545.3L629.0 545.1L630.0 546.1L631.0 546.3L632.0 546.9L633.0 547.5L634.0 548.2L635.0 548.6L636.0 549.4L637.0 550.2L638.0 551.1L639.0 552.0L640.0 552.2L641.0 553.2L642.0 553.5L643.0 553.7L644.0 554.8L645.0 554.4L646.0 554.8L647.0 556.2L648.0 556.5L649.0 556.5L650.0 557.2L651.0 557.6L652.0 558.3L653.0 558.8L654.0 559.3L655.0 560.3L656.0 560.8L657.0 561.0L658.0 561.4L659.0 561.7L660.0 562.8L661.0 563.6L662.0 563.2L663.0 564.3L664.0 564.8L665.0 565.2L666.0 565.0L667.0 566.1L668.0 566.2L669.0 566.7L670.0 567.6L671.0 568.3L672.0 568.9L673.0 569.5L674.0 570.2L675.0 570.7L676.0 571.0L677.0 571.1L678.0 572.5L679.0 573.2L680.0 573.8L681.0 574.1L682.0 574.0L683.0 574.7L684.0 575.2L685.0 576.4L686.0 576.9L687.0 577.0L688.0 578.5L689.0 579.1L690.0 579.6L691.0 579.7L692.0 580.0L693.0 580.5L694.0 581.8L695.0 582.3L696.0 582.3L697.0 583.7L698.0 583.8L699.0 584.2L700.0 584.9L701.0 585.4L702.0 586.3L703.0 586.6L704.0 587.4L705.0 587.3L706.0 588.6L707.0 588.6L708.0 590.0L709.0 589.7L710.0 590.4L711.0 591.2L712.0 591.6L713.0 592.3L714.0 593.4L715.0 593.1L716.0 594.3L717.0 594.8L718.0 595.5L719.0 595.7L720.0 596.3L721.0 596.7L722.0 597.0L723.0 597.7L724.0 597.9L725.0 598.2L726.0 599.1L727.0 599.2L728.0 600.0L729.0 600.6L730.0 600.7L731.0 601.0L732.0 602.0L733.0 602.8L734.0 602.5L735.0 603.4L736.0 603.9L737.0 604.6L738.0 604.9L739.0 604.9L740.0 605.2L741.0 606.4L742.0 606.3L743.0 606.4L744.0 607.9L745.0 607.5L746.0 608.1L747.0 608.6L748.0 609.0L749.0 610.0L750.0 610.2L751.0 610.6L752.0 611.3L753.0 611.8L754.0 612.9L755.0 612.5L756.0 613.8L757.0 613.8L758.0 614.4L759.0 615.5L760.0 615.9L761.0 616.1L762.0 617.3L763.0 618.2L764.0 618.5L765.0 618.9L766.0 619.8L767.0 620.6L768.0 620.2L769.0 621.0L770.0 622.4L771.0 622.9L772.0 622.6L773.0 623.8L774.0 624.6L775.0 624.8L776.0 625.5L777.0 625.9L778.0 626.1L779.0 626.7L780.0 627.6L781.0 627.5L782.0 628.7L783.0 628.6L784.0 629.6L785.0 629.8L786.0 630.4L787.0 631.5L788.0 631.3L789.0 631.8L790.0 632.2L791.0 632.5L792.0 632.9L793.0 633.8L794.0 634.6L795.0 634.2L796.0 635.7L797.0 635.9L798.0 635.6L799.0 636.8L800.0 636.9L801.0 637.6L802.0 637.5L803.0 638.5L804.0 639.0L805.0 639.8L806.0 640.0L807.0 640.6L808.0 641.1L809.0 641.0L810.0 641.8L811.0 641.7L812.0 642.7L813.0 642.8L814.0 643.3L815.0 644.0L816.0 644.8L817.0 645.3L818.0 645.9L819.0 646.7L820.0 646.2L821.0 647.2L822.0 647.1L823.0 648.3L824.0 648.5L825.0 648.7L826.0 649.4L827.0 650.3L828.0 650.5L829.0 651.6L830.0 651.4L831.0 651.8L832.0 653.0L833.0 653.1L834.0 653.0L835.0 654.3L836.0 654.3L837.0 655.5L838.0 655.6L839.0 656.3L840.0 656.4L841.0 657.5L842.0 657.6L843.0 658.7L844.0 658.2L845.0 659.1L846.0 660.3L847.0 659.9L848.0 661.2L849.0 662.2L850.0 662.5L851.0 663.2L852.0 662.9L853.0 664.0L854.0 664.7L855.0 665.0L856.0 665.6L857.0 666.6L858.0 666.4L859.0 666.9L860.0 668.0L861.0 668.5L862.0 669.4L863.0 669.7L864.0 669.9L865.0 669.9L866.0 671.1L867.0 670.5L868.0 671.2L869.0 672.2L870.0 672.8L871.0 672.7L872.0 673.7L873.0 673.2L874.0 674.2L875.0 674.0L876.0 674.6L877.0 675.0L878.0 675.2L879.0 676.1L880.0 676.2L881.0 676.4L882.0 677.6L883.0 678.7L884.0 677.8L885.0 678.5L886.0 680.0L887.0 679.6L888.0 681.0L889.0 681.2L890.0 681.0L891.0 681.5L892.0 681.6L893.0 682.8L894.0 684.5L895.0 683.9L896.0 684.9L897.0 685.1L898.0 686.5L899.0 688.2L900.0 686.9L901.0 688.8L902.0 689.7L903.0 690.1L904.0 690.5L905.0 691.5L906.0 691.9L907.0 692.5L908.0 693.9L909.0 693.8L910.0 695.1L911.0 695.6L912.0 695.5L913.0 696.7L914.0 697.9L915.0 698.0L916.0 699.0L917.0 699.0L918.0 699.7L919.0 700.2L920.0 701.0L921.0 701.4L922.0 702.8L923.0 702.4L924.0 703.2L925.0 703.2L926.0 704.5L927.0 704.3L928.0 703.2L929.0 703.8L930.0 705.3L931.0 706.0L932.0 706.1L933.0 705.2L934.0 706.5L935.0 707.4L936.0 706.0L937.0 707.2L938.0 707.6L939.0 708.4L940.0 710.4L941.0 710.1L942.0 709.3L943.0 709.7L944.0 711.0L945.0 711.5L946.0 710.9L947.0 712.0L948.0 712.6L949.0 712.5L950.0 713.0L951.0 713.8L952.0 713.7L953.0 714.1L954.0 715.6L955.0 714.8L956.0 715.8L957.0 715.7L958.0 717.0L959.0 718.7L960.0 718.7L961.0 717.5L962.0 718.2L963.0 719.6L964.0 719.0L965.0 721.0L966.0 721.2L967.0 721.4L968.0 721.2L969.0 722.4L970.0 724.1L971.0 724.4L972.0 722.8L973.0 723.6L974.0 725.4L975.0 725.4L976.0 726.2L977.0 726.0L978.0 726.7L979.0 726.9L980.0 728.0L981.0 727.5L982.0 728.3L983.0 728.9L984.0 730.1L985.0 730.6L986.0 730.5L987.0 729.1L988.0 730.8L989.0 731.9L990.0 732.9L991.0 731.6L992.0 733.1L993.0 732.2L994.0 731.3L995.0 733.8L996.0 734.4L997.0 733.9L998.0 735.1L999.0 734.1L1000.0 734.6L1001.0 735.8L1002.0 735.1L1003.0 736.3L1004.0 736.7L1005.0 736.4L1006.0 737.3L1007.0 736.9L1008.0 737.4L1009.0 738.0L1010.0 738.8L1011.0 738.7L1012.0 738.5L1013.0 739.8L1014.0 739.8L1015.0 740.4L1016.0 740.0L1017.0 740.5L1018.0 740.6L1019.0 741.0L1020.0 741.7L1021.0 742.0L1022.0 742.6L1023.0 743.2L1024.0 742.9L1025.0 744.0L1026.0 744.0L1027.0 744.0L1028.0 744.1L1029.0 745.4L1030.0 745.4L1031.0 745.0L1032.0 746.1L1033.0 746.1L1034.0 746.4L1035.0 747.2L1036.0 746.9L1037.0 747.3L1038.0 748.0L1039.0 748.7L1040.0 748.6L1041.0 748.4L1042.0 749.7L1043.0 749.9L1044.0 749.6L1045.0 750.5L1046.0 750.8L1047.0 751.3L1048.0 751.4L1049.0 751.5L1050.0 752.1L1051.0 752.1L1052.0 752.7L1053.0 753.0L1054.0 753.0L1055.0 753.5L1056.0 754.0L1057.0 754.4L1058.0 754.9L1059.0 755.5L1060.0 755.2L1061.0 755.9L1062.0 756.0L1063.0 756.2L1064.0 756.5L1065.0 757.8L1066.0 758.1L1067.0 758.4L1068.0 757.9L1069.0 758.2L1070.0 759.0L1071.0 759.1L1072.0 759.9L1073.0 760.6L1074.0 760.7L1075.0 761.7L1076.0 762.6L1077.0 763.4L1078.0 763.2L1079.0 763.5L1080.0 765.0L1081.0 765.1L1082.0 765.6L1083.0 766.0L1084.0 766.7L1085.0 767.2L1086.0 767.8L1087.0 768.3L1088.0 769.2L1089.0 770.1L1090.0 770.1L1091.0 770.8L1092.0 771.4L1093.0 772.4L1094.0 772.9L1095.0 773.7L1096.0 773.3L1097.0 774.7L1098.0 774.6L1099.0 775.5L1100.0 776.0L1101.0 776.5L1102.0 777.0L1103.0 777.2L1104.0 777.4L1105.0 777.8L1106.0 779.4L1107.0 779.8L1108.0 779.7L1109.0 779.8L1110.0 781.1L1111.0 781.2L1112.0 781.6L1113.0 782.3L1114.0 782.2L1115.0 782.8L1116.0 784.0L1117.0 784.3L1118.0 785.1L1119.0 784.9L1120.0 786.0L1121.0 786.4L1122.0 786.4L1123.0 787.4L1124.0 787.0L1125.0 787.3L1126.0 788.7L1127.0 788.3L1128.0 789.3L1129.0 790.0L1130.0 790.4L1131.0 790.3L1132.0 791.5L1133.0 791.1L1134.0 792.2L1135.0 793.0L1136.0 793.1L1137.0 793.3L1138.0 794.6L1139.0 794.7L1140.0 795.3L1141.0 795.9L1142.0 796.4L1143.0 796.4L1144.0 797.2L1145.0 797.3L1146.0 797.5L1147.0 798.0L1148.0 798.4L1149.0 798.6L1150.0 799.8L1151.0 800.0L1152.0 801.1L1153.0 800.5L1154.0 801.9L1155.0 801.7L1156.0 802.3L1157.0 802.7L1158.0 804.0L1159.0 804.1L1160.0 804.4L1161.0 804.7L1162.0 804.7L1163.0 804.8L1164.0 805.5L1165.0 806.6L1166.0 806.3L1167.0 806.9L1168.0 807.5L1169.0 806.8L1170.0 807.5L1171.0 807.9L1172.0 808.0L1173.0 808.5L1174.0 809.2L1175.0 808.9L1176.0 809.9L1177.0 809.7L1178.0 810.5L1179.0 810.2L1180.0 811.3L1181.0 811.2L1182.0 812.0L1183.0 812.5L1184.0 812.3L1185.0 812.0L1186.0 812.7L1187.0 813.8L1188.0 813.7L1189.0 814.2L1190.0 814.2L1191.0 814.6L1192.0 815.6L1193.0 816.0L1194.0 816.1L1195.0 816.6L1196.0 816.4L1197.0 816.8L1198.0 817.4L1199.0 818.5L1200.0 819.1L1201.0 819.5L1202.0 820.1L1203.0 819.5L1204.0 819.9L1205.0 820.7L1206.0 820.8L1207.0 822.0L1208.0 822.8L1209.0 823.2L1210.0 822.7L1211.0 823.8L1212.0 824.3L1213.0 824.7L1214.0 824.9L1215.0 825.1L1216.0 826.4L1217.0 826.8L1218.0 827.1L1219.0 827.3L1220.0 827.7L1221.0 827.6L1222.0 828.4L1223.0 828.9L1224.0 829.3L1225.0 829.8L1226.0 830.8L1227.0 831.3L1228.0 831.2L1229.0 832.6L1230.0 832.0L1231.0 833.6L1232.0 833.7L1233.0 834.2L1234.0 834.3L1235.0 835.3L1236.0 836.0L1237.0 835.6L1238.0 836.0L1239.0 837.3L1240.0 837.2L1241.0 837.5L1242.0 838.4L1243.0 838.6L1244.0 839.1L1245.0 839.6L1246.0 839.9L1247.0 841.3L1248.0 841.5L1249.0 842.0L1250.0 842.1L1251.0 843.2L1252.0 843.9L1253.0 844.4L1254.0 843.8L1255.0 844.6L1256.0 844.8L1257.0 845.7L1258.0 846.4L1259.0 846.9L1260.0 847.1L1261.0 848.3L1262.0 848.4L1263.0 849.3L1264.0 849.1L1265.0 849.8L1266.0 849.7L1267.0 850.7L1268.0 851.3L1269.0 851.3L1270.0 852.3L1271.0 852.2L1272.0 853.0L1273.0 853.7L1274.0 854.0L1275.0 854.1L1276.0 854.7L1277.0 855.4L1278.0 856.2L1279.0 856.4L1280.0 857.0L1281.0 857.1L1282.0 857.6L1283.0 858.0L1284.0 858.2L1285.0 859.2L1286.0 859.4L1287.0 859.7L1288.0 859.7L1289.0 861.2L1290.0 860.6L1291.0 861.1L1292.0 861.7L1293.0 862.7L1294.0 863.3L1295.0 863.5L1296.0 863.3L1297.0 864.4L1298.0 863.9L1299.0 864.4L1300.0 864.8L1301.0 865.8L1302.0 866.2L1303.0 866.7L1304.0 867.5L1305.0 867.6L1306.0 868.0L1307.0 867.8L1308.0 869.1L1309.0 869.5L1310.0 869.4L1311.0 870.3L1312.0 869.9L1313.0 871.1L1314.0 871.3L1315.0 871.8L1316.0 872.0L1317.0 873.1L1318.0 873.6L1319.0 874.0L1320.0 874.0L1321.0 875.0L1322.0 874.7L1323.0 875.9L1324.0 875.6L1325.0 876.0L1326.0 876.6L1327.0 877.7L1328.0 878.6L1329.0 878.5L1330.0 879.2L1331.0 879.6L1332.0 880.4L1333.0 881.0L1334.0 881.3L1335.0 881.2L1336.0 881.4L1337.0 882.8L1338.0 882.6L1339.0 883.6L1340.0 883.8L1341.0 884.8L1342.0 884.6L1343.0 885.2L1344.0 886.1L1345.0 887.2L1346.0 887.8L1347.0 888.6L1348.0 888.4L1349.0 889.4L1350.0 890.3L1351.0 890.3L1352.0 891.1L1353.0 891.3L1354.0 892.7L1355.0 892.8L1356.0 893.4L1357.0 894.2L1358.0 894.4L1359.0 895.6L1360.0 895.8L1361.0 896.4L1362.0 897.3L1363.0 897.9L1364.0 898.5L1365.0 899.3L1366.0 899.9L1367.0 900.0L1368.0 900.9L1369.0 901.7L1370.0 901.4L1371.0 902.7L1372.0 903.1L1373.0 903.6L1374.0 903.9L1375.0 904.7L1376.0 905.8L1377.0 906.6L1378.0 907.3L1379.0 907.6L1380.0 908.4L1381.0 908.9L1382.0 908.7L1383.0 910.0L1384.0 910.8L1385.0 911.3L1386.0 911.3L1387.0 912.4L1388.0 912.6L1389.0 913.3L1390.0 914.2L1391.0 914.8L1392.0 914.7L1393.0 915.9L1394.0 915.9L1395.0 916.6L1396.0 918.0L1397.0 918.7L1398.0 918.5L1399.0 919.7L1400.0 920.0L1401.0 920.2L1402.0 921.1L1403.0 921.5L1404.0 921.8L1405.0 922.8L1406.0 923.5L1407.0 924.4L1408.0 924.1L1409.0 924.8L1410.0 925.1L1411.0 925.9L1412.0 926.5L1413.0 927.8L1414.0 928.5L1415.0 928.2L1416.0 929.0L1417.0 929.7L1418.0 930.2L1419.0 931.3L1420.0 931.9L1421.0 931.3L1422.0 932.4L1423.0 933.1L1424.0 933.8L1425.0 934.2L1426.0 935.1L1427.0 934.8L1428.0 935.8L1429.0 936.8L1430.0 937.0L1431.0 937.2L1432.0 937.8L1433.0 938.9L1434.0 939.0L1435.0 940.1L1436.0 940.1L1437.0 940.8L1438.0 941.6L1439.0 942.7L1440.0 943.1L1441.0 943.7L1442.0 944.4L1443.0 944.7L1444.0 946.0L1445.0 946.1L1446.0 946.8L1447.0 946.7L1448.0 947.5L1449.0 948.5L1450.0 949.5L1451.0 949.8L1452.0 949.7L1453.0 951.2L1454.0 951.1L1455.0 952.1L1456.0 952.2L1457.0 952.7L1458.0 954.1L1459.0 954.4L1460.0 955.0L1461.0 955.9L1462.0 956.8L1463.0 957.5L1464.0 958.1L1465.0 958.8L1466.0 959.8L1467.0 960.3L1468.0 961.1L1469.0 962.6L1470.0 962.8L1471.0 964.1L1472.0 964.8L1473.0 965.4L1474.0 966.5L1475.0 966.8L1476.0 967.2L1477.0 969.0L1478.0 969.7L1479.0 970.5L1480.0 971.5L1481.0 971.7L1482.0 972.5L1483.0 973.5L1484.0 974.6L1485.0 974.7L1486.0 976.1L1487.0 977.1L1488.0 977.1L1489.0 977.6L1490.0 978.6L1491.0 980.0L1492.0 980.3L1493.0 981.9L1494.0 981.7L1495.0 983.0L1496.0 984.3L1497.0 984.4L1498.0 985.9L1499.0 986.0L1500.0 986.5L1501.0 988.0L1502.0 988.4L1503.0 989.9L1504.0 990.6L1505.0 990.7L1506.0 991.8L1507.0 992.7L1508.0 993.7L1509.0 993.9L1510.0 995.1L1511.0 995.8L1512.0 996.7L1513.0 997.5L1514.0 998.1L1515.0 998.9L1516.0 999.7L1517.0 1001.2L1518.0 1001.4L1519.0 1001.7L1520.0 1002.9L1521.0 1004.1L1522.0 1004.8L1523.0 1004.9L1524.0 1006.1L1525.0 1007.0" stroke="#F14040"/>
<path d="M152.0 274.0L153.0 266.0L154.0 263.4L155.0 261.6L156.0 259.1L157.0 257.0L158.0 257.0L159.0 256.8L160.0 256.0L161.0 255.7L162.0 256.6L163.0 256.0L164.0 254.8L165.0 253.8L166.0 253.8L167.0 252.3L168.0 251.8L169.0 250.4L170.0 249.5L171.0 249.7L172.0 249.2L173.0 249.8L174.0 250.1L175.0 249.8L176.0 250.1L177.0 250.1L178.0 249.4L179.0 250.3L180.0 250.0L181.0 250.3L182.0 250.2L183.0 250.0L184.0 251.2L185.0 251.0L186.0 251.5L187.0 251.9L188.0 251.9L189.0 252.3L190.0 252.0L191.0 252.2L192.0 253.0L193.0 252.9L194.0 253.8L195.0 254.1L196.0 253.5L197.0 253.9L198.0 254.3L199.0 255.5L200.0 255.3L201.0 255.8L202.0 256.5L203.0 256.6L204.0 257.4L205.0 257.8L206.0 258.3L207.0 259.0L208.0 259.1L209.0 259.0L210.0 254.1L211.0 249.0L212.0 250.6L213.0 251.5L214.0 252.9L215.0 253.5L216.0 254.7L217.0 255.6L218.0 256.0L219.0 256.1L220.0 257.7L221.0 258.6L222.0 259.2L223.0 259.6L224.0 260.5L225.0 261.0L226.0 261.1L227.0 262.2L228.0 262.3L229.0 262.3L230.0 262.5L231.0 263.8L232.0 264.4L233.0 263.7L234.0 265.0L235.0 265.0L236.0 265.3L237.0 265.5L238.0 266.1L239.0 267.1L240.0 267.7L241.0 267.2L242.0 268.3L243.0 268.1L244.0 269.3L245.0 269.5L246.0 269.7L247.0 270.9L248.0 271.4L249.0 271.3L250.0 272.3L251.0 272.0L252.0 272.1L253.0 273.2L254.0 273.0L255.0 274.0L255.9 274.1L256.9 274.8L257.8 275.4L258.8 275.3L259.7 275.6L260.6 277.1L261.6 276.8L262.5 277.5L263.5 278.4L264.5 278.6L265.5 278.4L266.5 278.8L267.5 279.2L268.5 279.7L269.5 279.9L270.5 280.2L271.5 280.5L272.5 282.6L273.5 285.0L274.5 286.5L275.6 286.7L276.6 286.7L277.6 287.2L278.7 286.8L279.8 287.0L280.8 288.0L281.9 287.6L282.9 287.8L283.9 287.3L285.0 288.0L285.9 288.6L286.9 289.6L287.9 289.7L288.8 291.1L289.8 291.9L290.7 292.0L291.7 293.4L292.6 294.0L293.6 294.3L294.7 294.9L295.7 294.9L296.7 295.7L297.8 296.1L298.8 295.5L299.8 295.9L300.8 297.0L301.9 297.7L302.9 297.2L303.9 297.8L305.0 298.4L306.0 298.6L307.0 298.7L308.0 299.1L309.0 299.3L310.0 299.7L311.0 300.3L312.0 300.3L313.0 300.7L314.0 301.5L315.0 301.5L315.9 301.3L316.9 302.3L317.9 302.9L318.8 302.8L319.8 303.0L320.7 304.1L321.7 303.8L322.6 304.5L323.7 304.8L324.7 305.7L325.8 306.7L326.8 306.6L327.9 307.5L328.9 308.2L330.0 309.0L330.9 310.0L331.9 310.1L332.8 311.1L333.8 310.9L334.7 311.6L335.6 312.6L336.6 313.4L337.5 313.5L338.4 313.3L339.4 312.8L340.3 312.5L341.2 312.8L342.2 312.2L343.1 312.7L344.1 312.6L345.0 312.0L346.1 310.9L347.2 310.2L348.4 310.1L349.5 309.0L350.5 312.2L351.5 315.4L352.5 318.0L353.4 318.8L354.4 319.5L355.4 320.6L356.3 321.8L357.2 321.4L358.1 320.0L359.1 319.4L360.0 318.8L361.0 319.6L362.0 320.4L363.0 321.3L364.0 322.7L365.0 322.7L366.0 323.3L367.0 325.3L368.0 326.1L369.0 327.1L370.0 327.3L371.0 328.7L372.0 329.6L373.0 329.6L374.0 331.0L375.0 331.6L376.0 333.0L377.0 333.9L378.0 334.7L379.0 335.5L380.0 336.6L381.0 337.5L382.0 338.4L383.0 340.0L384.0 340.7L385.0 342.0L386.0 343.1L387.0 343.0L388.0 344.7L389.0 345.2L390.0 346.3L391.0 347.0L392.0 347.7L393.0 348.1L394.0 348.2L395.0 349.5L396.0 350.7L397.0 350.9L398.0 352.0L399.0 353.3L400.0 354.0L401.0 354.8L402.0 356.3L403.0 356.8L404.0 357.4L405.0 358.2L406.0 359.8L407.0 360.3L408.0 361.5L409.0 361.9L410.0 363.0L411.0 363.3L412.0 364.4L413.0 365.5L414.0 365.4L415.0 366.8L416.0 367.7L417.0 368.2L418.0 368.9L419.0 368.6L420.0 370.1L421.0 371.1L422.0 370.8L423.0 371.7L424.0 372.4L425.0 373.4L425.5 373.7L426.0 373.9L426.5 370.1L427.0 365.1L427.5 369.2L428.0 374.7L428.5 375.0L429.0 375.5L429.5 375.3L430.0 375.5L430.5 376.4L431.0 370.9L431.5 376.8L432.0 376.8L432.5 377.3L433.0 377.3L433.5 378.0L434.0 378.2L434.5 377.9L435.0 373.3L435.5 378.6L436.0 379.5L436.5 379.7L437.0 379.2L437.5 379.3L438.0 380.2L438.5 380.6L439.0 380.8L439.5 380.3L440.0 381.0L440.5 373.2L441.0 377.9L441.5 379.7L442.0 374.9L442.5 383.0L443.0 383.7L443.5 376.4L444.0 383.9L444.5 383.8L445.0 380.4L445.5 385.1L446.0 380.8L446.5 385.9L447.0 386.0L447.5 386.4L448.0 380.9L448.5 387.8L449.0 380.8L449.5 388.3L450.0 388.4L450.5 388.9L451.0 381.2L451.5 389.9L452.0 389.7L452.5 385.8L453.0 390.6L453.5 390.6L454.0 384.7L454.5 391.5L455.0 392.0L455.5 388.3L456.0 392.0L456.5 387.8L457.0 393.0L457.5 393.1L458.0 393.8L458.5 394.1L459.0 394.8L459.5 394.7L460.0 395.5L460.5 395.7L461.0 391.5L461.5 396.3L462.0 396.9L462.5 392.0L463.0 396.5L463.5 397.7L464.0 397.2L464.5 397.6L465.0 395.1L465.5 393.9L466.0 398.9L466.5 398.5L467.0 399.3L467.5 399.3L468.0 400.0L469.0 401.7L470.0 397.9L471.0 403.6L472.0 404.0L473.0 406.1L474.0 407.2L475.0 407.4L476.0 409.5L477.0 410.0L478.0 411.6L479.0 412.7L480.0 413.5L481.0 413.9L482.0 415.0L483.0 415.7L484.0 416.5L485.0 416.6L486.0 417.8L487.0 418.7L488.0 419.0L489.0 419.5L490.0 419.7L491.0 420.8L492.0 421.3L493.0 422.4L494.0 423.0L495.0 423.5L496.0 424.2L497.0 424.4L498.0 425.7L499.0 426.3L500.0 426.4L501.0 427.9L502.0 428.3L503.0 428.3L504.0 430.0L505.0 429.7L506.0 430.6L507.0 431.7L508.0 432.2L509.0 432.8L510.0 433.4L511.0 434.3L512.0 434.8L513.0 435.3L514.0 435.8L515.0 436.4L516.0 437.9L517.0 438.7L518.0 439.1L519.0 440.0L520.0 440.3L521.0 440.9L522.0 441.7L523.0 443.0L524.0 442.7L525.0 444.0L526.0 444.9L527.0 445.4L528.0 446.9L529.0 447.2L530.0 448.0L531.0 449.0L532.0 450.0L533.0 451.1L534.0 451.4L535.0 452.9L536.0 452.8L537.0 453.9L538.0 455.0L539.0 456.0L540.0 457.5L541.0 459.8L542.0 461.0L543.0 461.3L544.0 460.6L545.0 461.0L546.0 461.1L547.0 461.8L548.0 462.7L549.0 463.2L550.0 463.6L551.0 463.9L552.0 463.8L553.0 464.6L554.0 464.8L555.0 465.6L556.0 466.1L557.0 466.2L558.0 466.7L559.0 467.8L560.0 467.9L561.0 467.8L562.0 469.2L563.0 469.8L564.0 470.3L565.0 470.1L566.0 470.7L567.0 471.2L568.0 471.8L569.0 472.6L570.0 472.8L571.0 472.8L572.0 473.9L573.0 473.9L574.0 474.5L575.0 475.1L576.0 474.7L577.0 476.1L578.0 476.4L579.0 476.7L580.0 477.2L581.0 477.6L582.0 477.7L583.0 478.6L584.0 478.5L585.0 479.5L586.0 480.1L587.0 480.3L588.0 481.0L589.0 481.9L590.0 481.8L591.0 482.9L592.0 482.7L593.0 484.1L594.0 484.5L595.0 484.5L596.0 485.5L597.0 486.0L598.0 486.5L599.0 487.7L600.0 488.8L601.0 488.7L602.0 490.0L603.0 490.4L604.0 490.4L605.0 491.9L606.0 492.3L607.0 493.3L608.0 493.7L609.0 494.4L610.0 494.5L611.0 495.7L612.0 496.5L613.0 497.1L614.0 497.2L615.0 498.3L616.0 498.6L617.0 498.8L618.0 499.4L619.0 500.0L620.0 501.2L621.0 501.5L622.0 502.1L623.0 503.1L624.0 504.0L625.0 504.4L626.0 504.9L627.0 505.8L628.0 506.0L629.0 506.9L630.0 507.9L631.0 508.1L632.0 508.4L633.0 509.9L634.0 510.4L635.0 510.6L636.0 511.2L637.0 512.0L638.0 512.7L639.0 512.9L640.0 513.9L641.0 513.8L642.0 514.5L643.0 515.7L644.0 515.4L645.0 516.3L646.0 516.5L647.0 517.0L648.0 517.4L649.0 518.2L650.0 518.4L651.0 518.7L652.0 519.3L653.0 519.8L654.0 520.7L655.0 520.7L656.0 521.1L657.0 522.1L658.0 522.5L659.0 523.4L660.0 523.1L661.0 524.0L662.0 524.5L663.0 524.5L664.0 526.1L665.0 525.7L666.0 526.1L667.0 527.0L668.0 527.1L669.0 528.2L670.0 528.5L671.0 528.9L672.0 529.2L673.0 529.7L674.0 531.0L675.0 531.1L676.0 532.2L677.0 532.4L678.0 533.6L679.0 533.4L680.0 533.9L681.0 534.5L682.0 535.7L683.0 536.0L684.0 536.2L685.0 536.5L686.0 537.8L687.0 538.7L688.0 538.8L689.0 538.7L690.0 539.3L691.0 539.9L692.0 540.6L693.0 541.0L694.0 541.6L695.0 542.9L696.0 543.7L697.0 543.4L698.0 544.9L699.0 544.9L700.0 545.5L701.0 547.2L702.0 546.5L703.0 546.3L704.0 547.5L705.0 548.6L706.0 550.4L707.0 550.1L708.0 547.0L709.0 547.8L710.0 552.5L711.0 551.7L712.0 553.8L713.0 550.0L714.0 555.3L715.0 555.8L716.0 554.3L717.0 555.9L718.0 556.7L719.0 554.5L720.0 559.0L721.0 554.0L722.0 560.4L723.0 560.5L724.0 559.3L725.0 555.8L726.0 558.8L727.0 562.7L728.0 562.5L729.0 562.4L730.0 564.2L731.0 563.4L732.0 562.0L733.0 564.5L734.0 565.1L735.0 566.0L736.0 565.1L737.0 562.1L738.0 567.4L739.0 567.6L740.0 568.9L741.0 567.9L742.0 568.8L743.0 568.2L744.0 569.4L745.0 568.9L746.0 570.6L747.0 570.4L748.0 570.2L749.0 571.5L750.0 572.0L751.0 573.7L752.0 570.5L753.0 573.4L754.0 574.5L755.0 574.8L756.0 574.1L757.0 575.3L758.0 574.3L759.0 577.2L760.0 575.1L761.0 577.0L762.0 575.6L763.0 578.8L764.0 579.0L765.0 580.6L766.0 576.8L767.0 581.0L768.0 580.0L769.0 582.4L770.0 583.2L771.0 583.2L772.0 580.5L773.0 583.9L774.0 584.5L775.0 583.4L776.0 586.1L777.0 586.0L778.0 586.8L779.0 587.7L780.0 587.8L781.0 587.6L782.0 589.5L783.0 584.6L784.0 589.2L785.0 590.5L786.0 590.0L787.0 591.3L788.0 588.3L789.0 592.5L790.0 591.7L791.0 591.9L792.0 592.6L793.0 592.4L794.0 593.3L795.0 595.5L796.0 590.4L797.0 595.8L798.0 595.5L799.0 594.5L800.0 594.3L801.0 596.5L802.0 598.3L803.0 597.1L804.0 598.4L805.0 599.0L806.0 600.0L807.0 600.2L808.0 598.5L809.0 597.6L810.0 601.5L811.0 601.1L812.0 601.8L813.0 602.5L814.0 604.0L815.0 603.2L816.0 603.8L817.0 604.9L818.0 604.9L819.0 606.5L820.0 606.3L821.0 606.6L822.0 606.8L823.0 608.5L824.0 608.0L825.0 609.0L826.0 608.2L827.0 609.8L828.0 609.2L829.0 610.5L830.0 610.8L831.0 611.5L832.0 611.4L833.0 612.7L834.0 610.6L835.0 611.4L836.0 611.0L837.0 614.7L838.0 614.9L839.0 610.9L840.0 615.5L841.0 615.6L842.0 616.2L843.0 613.2L844.0 615.4L845.0 618.1L846.0 617.9L847.0 618.7L848.0 620.0L849.0 616.3L850.0 620.5L851.0 621.2L852.0 620.2L853.0 617.6L854.0 620.1L855.0 622.7L856.0 623.7L857.0 623.9L858.0 623.8L859.0 625.0L860.0 625.0L861.0 625.4L862.0 625.1L863.0 625.6L864.0 626.6L865.0 627.3L866.0 624.3L867.0 627.9L868.0 628.0L869.0 629.2L870.0 627.3L871.0 626.1L872.0 630.2L873.0 631.3L874.0 631.5L875.0 631.9L876.0 632.0L877.0 632.9L878.0 633.4L879.0 633.8L880.0 634.8L881.0 632.3L882.0 635.7L883.0 635.6L884.0 635.2L885.0 637.2L886.0 638.2L887.0 637.5L888.0 637.7L889.0 638.3L890.0 638.8L891.0 639.1L892.0 636.2L893.0 637.4L894.0 639.9L895.0 640.1L896.0 640.0L897.0 642.6L898.0 639.9L899.0 639.1L900.0 644.1L901.0 643.5L902.0 640.0L903.0 644.5L904.0 645.1L905.0 645.4L906.0 642.7L907.0 647.3L908.0 647.7L909.0 647.1L910.0 647.9L911.0 644.2L912.0 650.0L913.0 649.7L914.0 649.8L915.0 649.8L916.0 651.5L917.0 651.2L918.0 650.3L919.0 650.7L920.0 652.7L921.0 653.4L922.0 653.8L923.0 652.4L924.0 650.9L925.0 651.5L926.0 656.1L927.0 653.4L928.0 652.9L929.0 656.7L930.0 656.7L931.0 656.7L932.0 658.8L933.0 659.2L934.0 658.9L935.0 659.1L936.0 659.8L937.0 660.1L938.0 659.9L939.0 661.0L940.0 661.5L941.0 661.1L942.0 663.8L943.0 662.5L944.0 663.5L945.0 663.2L946.0 660.4L947.0 664.8L948.0 666.2L949.0 665.7L950.0 666.6L951.0 666.3L952.0 668.4L953.0 668.0L954.0 666.6L955.0 668.2L956.0 669.6L957.0 669.9L958.0 668.1L959.0 668.3L960.0 670.5L961.0 671.9L962.0 668.8L963.0 672.1L964.0 670.9L965.0 673.1L966.0 674.1L967.0 674.0L968.0 675.2L969.0 672.2L970.0 675.5L971.0 676.1L972.0 676.6L973.0 677.6L974.0 673.2L975.0 678.6L976.0 673.7L977.0 678.6L978.0 678.7L979.0 679.3L980.0 680.5L981.0 681.1L982.0 681.2L983.0 681.4L984.0 683.2L985.0 680.6L986.0 683.5L987.0 683.6L988.0 679.6L989.0 684.0L990.0 685.9L991.0 685.0L992.0 686.0L993.0 682.3L994.0 686.9L995.0 685.0L996.0 687.5L997.0 688.3L998.0 688.6L999.0 688.9L1000.0 690.2L1001.0 689.9L1002.0 690.1L1003.0 691.1L1004.0 686.9L1005.0 688.3L1006.0 692.6L1007.0 694.2L1008.0 692.4L1009.0 694.7L1010.0 695.1L1011.0 694.7L1012.0 694.8L1013.0 694.8L1014.0 695.2L1015.0 696.3L1016.0 697.7L1017.0 697.2L1018.0 698.6L1019.0 697.7L1020.0 699.6L1021.0 696.6L1022.0 700.0L1023.0 700.0L1024.0 701.1L1025.0 701.6L1026.0 701.5L1027.0 703.0L1028.0 702.6L1029.0 700.7L1030.0 703.8L1031.0 704.3L1032.0 704.9L1033.0 704.6L1034.0 706.5L1035.0 705.5L1036.0 704.0L1037.0 706.3L1038.0 702.6L1039.0 708.3L1040.0 708.4L1041.0 708.4L1042.0 708.4L1043.0 709.6L1044.0 710.1L1045.0 710.5L1046.0 710.0L1047.0 710.4L1048.0 709.9L1049.0 708.6L1050.0 711.3L1051.0 710.6L1052.0 713.6L1053.0 713.3L1054.0 713.8L1055.0 714.9L1056.0 714.8L1057.0 710.0L1058.0 716.3L1059.0 716.6L1060.0 715.4L1061.0 717.0L1062.0 717.5L1063.0 717.5L1064.0 717.8L1065.0 713.3L1066.0 718.1L1067.0 719.7L1068.0 720.3L1069.0 716.7L1070.0 720.0L1071.0 720.9L1072.0 720.2L1073.0 722.3L1074.0 722.5L1075.0 722.8L1076.0 722.9L1077.0 723.9L1078.0 723.8L1079.0 725.0L1080.0 724.7L1081.0 725.3L1082.0 727.0L1083.0 726.7L1084.0 727.8L1085.0 727.1L1086.0 728.3L1087.0 727.7L1088.0 729.5L1089.0 729.8L1090.0 730.0L1091.0 726.1L1092.0 730.4L1093.0 731.6L1094.0 731.5L1095.0 732.3L1096.0 731.9L1097.0 733.6L1098.0 734.5L1099.0 735.1L1100.0 735.0L1101.0 736.0L1102.0 734.1L1103.0 735.3L1104.0 736.4L1105.0 737.3L1106.0 737.6L1107.0 737.7L1108.0 737.9L1109.0 737.2L1110.0 737.7L1111.0 739.1L1112.0 741.4L1113.0 739.1L1114.0 737.6L1115.0 742.4L1116.0 742.8L1117.0 740.6L1118.0 738.9L1119.0 743.5L1120.0 744.2L1121.0 744.8L1122.0 745.6L1123.0 742.8L1124.0 744.7L1125.0 743.6L1126.0 747.7L1127.0 746.5L1128.0 747.5L1129.0 748.1L1130.0 746.5L1131.0 750.3L1132.0 749.8L1133.0 746.2L1134.0 750.9L1135.0 750.5L1136.0 750.7L1137.0 751.9L1138.0 753.6L1139.0 753.1L1140.0 753.0L1141.0 754.3L1142.0 754.0L1143.0 755.6L1144.0 749.9L1145.0 755.6L1146.0 756.7L1147.0 756.2L1148.0 757.6L1149.0 753.6L1150.0 756.9L1151.0 758.0L1152.0 759.2L1153.0 759.5L1154.0 760.1L1155.0 759.7L1156.0 760.1L1157.0 760.9L1158.0 761.5L1159.0 762.2L1160.0 762.4L1161.0 762.6L1162.0 763.5L1163.0 763.7L1164.0 763.7L1165.0 764.7L1166.0 764.3L1167.0 765.3L1168.0 765.2L1169.0 765.5L1170.0 766.4L1171.0 766.8L1172.0 767.3L1173.0 767.5L1174.0 768.5L1175.0 768.7L1176.0 768.4L1177.0 768.6L1178.0 770.2L1179.0 769.9L1180.0 769.9L1181.0 770.4L1182.0 771.4L1183.0 771.2L1184.0 771.8L1185.0 772.6L1186.0 772.6L1187.0 773.4L1188.0 774.1L1189.0 774.4L1190.0 774.4L1191.0 775.0L1192.0 775.5L1193.0 775.6L1194.0 776.5L1195.0 777.0L1196.0 777.4L1197.0 777.7L1198.0 778.5L1199.0 778.3L1200.0 779.4L1201.0 780.2L1202.0 779.6L1203.0 780.3L1204.0 781.7L1205.0 781.0L1206.0 782.4L1207.0 782.6L1208.0 782.5L1209.0 783.6L1210.0 783.3L1211.0 784.8L1212.0 784.6L1213.0 785.9L1214.0 786.3L1215.0 785.9L1216.0 786.7L1217.0 786.9L1218.0 788.1L1219.0 787.7L1220.0 788.7L1221.0 788.6L1222.0 789.1L1223.0 790.5L1224.0 790.2L1225.0 790.7L1226.0 791.3L1227.0 791.9L1228.0 792.2L1229.0 793.2L1230.0 793.0L1231.0 793.6L1232.0 794.5L1233.0 794.2L1234.0 794.5L1235.0 795.8L1236.0 795.6L1237.0 796.7L1238.0 797.1L1239.0 797.0L1240.0 797.4L1241.0 797.6L1242.0 798.9L1243.0 798.9L1244.0 799.2L1245.0 799.4L1246.0 799.9L1247.0 801.2L1248.0 800.7L1249.0 801.7L1250.0 802.2L1251.0 802.5L1252.0 802.9L1253.0 803.3L1254.0 803.5L1255.0 804.7L1256.0 805.2L1257.0 805.2L1258.0 805.3L1259.0 806.5L1260.0 806.1L1261.0 806.6L1262.0 807.5L1263.0 808.2L1264.0 808.4L1265.0 808.3L1266.0 809.7L1267.0 809.2L1268.0 809.9L1269.0 811.1L1270.0 811.3L1271.0 811.7L1272.0 811.3L1273.0 812.7L1274.0 812.6L1275.0 812.6L1276.0 814.0L1277.0 814.6L1278.0 814.0L1279.0 814.9L1280.0 815.4L1281.0 816.3L1282.0 816.1L1283.0 816.6L1284.0 817.6L1285.0 817.7L1286.0 818.8L1287.0 819.1L1288.0 819.6L1289.0 819.8L1290.0 819.7L1291.0 820.8L1292.0 821.1L1293.0 821.4L1294.0 822.0L1295.0 822.2L1296.0 822.5L1297.0 823.8L1298.0 823.6L1299.0 823.8L1300.0 825.3L1301.0 825.2L1302.0 825.9L1303.0 825.9L1304.0 826.2L1305.0 826.9L1306.0 827.9L1307.0 827.7L1308.0 829.0L1309.0 828.7L1310.0 829.4L1311.0 830.4L1312.0 830.0L1313.0 830.8L1314.0 830.9L1315.0 831.4L1316.0 832.3L1317.0 832.6L1318.0 833.3L1319.0 833.4L1320.0 834.0L1321.0 834.5L1322.0 835.6L1323.0 835.1L1324.0 836.0L1325.0 837.0L1326.0 837.2L1327.0 837.3L1328.0 838.6L1329.0 838.1L1330.0 838.6L1331.0 838.9L1332.0 839.9L1333.0 840.9L1334.0 840.7L1335.0 841.1L1336.0 842.2L1337.0 841.9L1338.0 842.3L1339.0 843.5L1340.0 843.8L1341.0 843.8L1342.0 844.9L1343.0 844.9L1344.0 846.0L1345.0 846.8L1346.0 846.8L1347.0 847.1L1348.0 848.1L1349.0 848.7L1350.0 848.4L1351.0 849.1L1352.0 849.8L1353.0 850.5L1354.0 850.7L1355.0 851.7L1356.0 851.7L1357.0 853.0L1358.0 852.9L1359.0 853.2L1360.0 853.6L1361.0 854.1L1362.0 854.8L1363.0 856.1L1364.0 856.0L1365.0 856.6L1366.0 857.7L1367.0 858.2L1368.0 858.5L1369.0 858.4L1370.0 859.0L1371.0 859.7L1372.0 859.9L1373.0 860.6L1374.0 860.9L1375.0 861.5L1376.0 862.6L1377.0 862.9L1378.0 863.2L1379.0 863.8L1380.0 864.5L1381.0 865.1L1382.0 864.8L1383.0 866.3L1384.0 866.3L1385.0 866.7L1386.0 868.0L1387.0 868.2L1388.0 868.3L1389.0 868.4L1390.0 869.4L1391.0 869.9L1392.0 870.3L1393.0 870.5L1394.0 871.6L1395.0 871.7L1396.0 872.9L1397.0 873.1L1398.0 873.3L1399.0 874.5L1400.0 874.6L1401.0 875.1L1402.0 875.3L1403.0 876.1L1404.0 876.4L1405.0 877.4L1406.0 878.6L1407.0 879.2L1408.0 879.5L1409.0 879.5L1410.0 880.2L1411.0 880.7L1412.0 881.5L1413.0 882.4L1414.0 882.2L1415.0 883.4L1416.0 883.9L1417.0 884.8L1418.0 885.6L1419.0 885.6L1420.0 886.5L1421.0 886.6L1422.0 887.5L1423.0 888.3L1424.0 888.1L1425.0 889.3L1426.0 889.9L1427.0 890.1L1428.0 890.7L1429.0 892.0L1430.0 892.2L1431.0 892.6L1432.0 893.0L1433.0 893.7L1434.0 894.6L1435.0 895.1L1436.0 895.6L1437.0 896.2L1438.0 896.7L1439.0 897.6L1440.0 898.3L1441.0 898.3L1442.0 899.5L1443.0 899.8L1444.0 901.2L1445.0 901.7L1446.0 901.4L1447.0 902.6L1448.0 902.8L1449.0 903.1L1450.0 904.7L1451.0 905.3L1452.0 905.7L1453.0 906.2L1454.0 907.2L1455.0 907.3L1456.0 908.0L1457.0 908.6L1458.0 909.4L1459.0 910.0L1460.0 910.2L1461.0 910.7L1462.0 911.3L1463.0 912.4L1464.0 913.1L1465.0 913.6L1466.0 914.9L1467.0 915.6L1468.0 916.1L1469.0 916.6L1470.0 917.5L1471.0 917.6L1472.0 919.1L1473.0 919.0L1474.0 920.6L1475.0 921.0L1476.0 921.3L1477.0 921.9L1478.0 923.1L1479.0 923.6L1480.0 924.6L1481.0 924.6L1482.0 926.2L1483.0 926.4L1484.0 927.1L1485.0 928.2L1486.0 928.8L1487.0 929.3L1488.0 929.8L1489.0 930.7L1490.0 930.9L1491.0 931.9L1492.0 933.3L1493.0 933.1L1494.0 933.8L1495.0 935.0L1496.0 936.2L1497.0 936.4L1498.0 937.3L1499.0 938.2L1500.0 939.1L1501.0 939.4L1502.0 940.7L1503.0 940.5L1504.0 942.3L1505.0 942.4L1506.0 943.6L1507.0 944.0L1508.0 945.3L1509.0 945.6L1510.0 946.6L1511.0 947.1L1512.0 948.4L1513.0 949.1L1514.0 949.2L1515.0 950.6L1516.0 951.6L1517.0 951.6L1518.0 952.3L1519.0 953.9L1520.0 954.7L1521.0 954.5L1522.0 956.0L1523.0 957.0L1524.0 956.9L1525.0 958.0" stroke="#1A6FDF"/>
<path d="M152.0 292.0L153.0 283.2L154.0 275.0L155.0 272.0L156.0 270.0L157.0 268.7L158.0 267.2L159.0 265.9L160.0 265.2L161.0 264.2L162.0 264.0L163.0 263.0L164.0 262.2L165.0 261.0L166.0 260.6L167.0 260.9L168.0 260.6L169.0 260.4L170.0 260.7L171.0 260.2L172.0 260.3L173.0 261.1L174.0 260.9L175.0 260.9L176.0 260.8L177.0 260.4L178.0 260.4L179.0 261.0L180.0 261.8L181.0 262.3L182.0 262.8L183.0 263.3L184.0 262.7L185.0 263.7L186.0 264.0L187.0 264.4L188.0 264.5L189.0 264.3L190.0 264.9L191.0 264.6L192.0 265.9L193.0 266.0L194.0 265.8L195.0 266.0L196.0 266.9L197.0 268.8L198.0 269.4L199.0 270.0L200.0 271.0L201.0 271.5L202.0 271.6L203.0 272.1L204.0 272.9L205.0 273.3L206.0 274.1L207.0 274.7L208.0 276.0L209.1 273.5L210.2 271.9L211.4 268.7L212.5 267.0L213.6 267.3L214.7 268.8L215.8 269.1L216.8 270.2L217.9 271.0L219.0 271.8L220.0 272.5L221.0 274.2L222.0 274.2L223.0 275.3L224.0 276.0L225.0 277.4L226.0 277.9L227.0 278.9L228.0 280.0L229.0 280.7L230.1 280.7L231.1 281.4L232.2 282.2L233.2 281.7L234.2 282.1L235.3 282.7L236.3 283.5L237.3 284.4L238.3 284.7L239.4 284.8L240.4 285.5L241.4 285.8L242.4 286.7L243.4 286.8L244.4 288.1L245.5 288.9L246.5 289.5L247.5 289.5L248.5 290.3L249.5 291.1L250.5 290.4L251.5 291.2L252.5 292.6L253.5 292.8L254.5 292.9L255.5 294.0L256.5 294.1L257.5 294.9L258.5 294.8L259.5 295.1L260.5 295.9L261.5 296.1L262.5 297.0L263.5 297.2L264.5 298.2L265.5 297.8L266.5 297.7L267.5 298.1L268.5 298.6L269.5 299.7L270.5 299.5L271.5 300.0L272.6 302.7L273.8 306.0L274.7 305.6L275.7 306.8L276.6 306.2L277.6 306.0L278.5 306.0L279.4 306.1L280.4 306.3L281.3 306.8L282.3 307.6L283.4 307.6L284.4 308.1L285.4 309.3L286.4 309.6L287.5 311.1L288.5 310.7L289.5 311.8L290.5 312.7L291.6 312.9L292.6 313.6L293.6 314.7L294.6 314.6L295.6 314.8L296.6 315.5L297.6 315.5L298.6 316.5L299.6 316.8L300.6 318.0L301.6 318.4L302.6 318.5L303.6 318.5L304.6 319.2L305.6 319.7L306.6 320.2L307.6 321.0L308.7 321.5L309.7 323.2L310.8 323.1L311.8 323.9L312.9 325.8L313.9 326.2L315.0 327.0L316.0 327.9L317.1 327.4L318.1 328.3L319.1 328.3L320.1 328.7L321.2 328.9L322.2 328.9L323.2 328.7L324.2 329.1L325.3 330.2L326.3 330.0L327.2 331.4L328.2 332.4L329.1 332.7L330.1 334.0L331.0 335.1L331.9 335.9L332.9 337.0L333.8 337.6L334.8 337.8L335.8 338.0L336.9 338.2L337.9 337.8L338.9 338.7L339.9 338.9L340.9 338.0L341.9 339.2L343.0 339.3L344.0 339.1L345.0 339.0L345.9 337.2L346.9 336.9L347.9 334.7L348.8 333.8L349.8 336.0L350.7 337.2L351.7 338.1L352.6 339.8L353.6 342.0L354.5 343.5L355.5 345.0L356.2 349.1L357.0 352.6L358.0 349.9L359.0 345.9L360.0 343.0L361.0 343.1L361.9 344.8L362.9 344.4L363.9 346.1L364.9 345.9L365.8 347.4L366.8 348.0L367.8 348.8L368.8 349.1L369.7 350.1L370.7 350.0L371.7 351.2L372.6 351.5L373.6 352.8L374.6 353.3L375.6 353.6L376.5 354.4L377.5 355.0L378.5 355.3L379.4 356.2L380.4 357.8L381.4 358.5L382.4 359.9L383.3 360.5L384.3 360.8L385.3 361.9L386.2 363.3L387.2 363.9L388.2 364.2L389.2 366.1L390.1 366.9L391.1 366.9L392.1 368.4L393.1 369.1L394.0 370.5L395.0 371.0L396.0 371.7L397.0 372.5L398.0 373.7L399.0 375.2L400.0 375.0L401.0 375.9L402.0 377.4L403.0 378.7L404.0 379.1L405.0 379.9L406.0 381.3L407.0 382.1L408.0 382.2L409.0 384.1L410.0 384.5L411.0 384.8L412.0 385.6L413.0 386.9L414.0 387.1L415.0 388.3L416.0 388.2L417.0 389.7L418.0 389.6L419.0 390.2L420.0 391.3L421.0 391.8L422.0 392.7L423.0 393.8L424.0 394.3L425.0 394.7L425.5 394.3L426.0 394.9L426.5 395.4L427.0 395.5L427.5 396.0L428.0 395.9L428.5 395.7L429.0 396.1L429.5 397.0L430.0 399.3L430.5 398.9L431.0 398.5L431.5 401.3L432.0 401.7L432.5 401.3L433.0 399.5L433.5 394.6L434.0 397.4L434.5 395.2L435.0 394.8L435.5 396.3L436.0 398.5L436.5 398.1L437.0 395.8L437.5 404.2L438.0 401.3L438.5 398.2L439.0 395.2L439.5 404.6L440.0 401.0L440.5 404.7L441.0 398.7L441.5 402.0L442.0 406.7L442.5 407.5L443.0 403.9L443.5 405.8L444.0 406.9L444.5 407.7L445.0 404.9L445.5 406.8L446.0 401.7L446.5 406.0L447.0 409.8L447.5 404.4L448.0 404.0L448.5 401.1L449.0 406.4L449.5 408.1L450.0 411.3L450.5 404.0L451.0 411.8L451.5 412.7L452.0 406.4L452.5 405.6L453.0 412.7L453.5 412.4L454.0 406.4L454.5 413.9L455.0 412.5L455.5 411.0L456.0 408.8L456.5 407.5L457.0 406.0L457.5 407.5L458.0 416.2L458.5 415.7L459.0 415.0L459.5 417.4L460.0 413.0L460.5 416.2L461.0 416.1L461.5 415.4L462.0 411.7L462.5 415.9L463.0 412.4L463.5 414.8L464.0 419.0L464.5 416.6L465.0 417.5L465.5 422.1L466.0 423.5L466.5 416.1L467.0 424.2L467.5 421.3L468.0 423.8L468.5 421.8L469.0 423.1L469.5 423.8L470.0 424.0L470.5 424.8L471.0 425.3L471.5 425.2L472.0 426.3L472.5 426.8L473.0 427.1L473.5 427.0L474.0 428.2L474.5 429.1L475.0 428.9L475.5 429.8L476.0 430.7L476.5 430.9L477.0 430.7L477.5 432.0L478.0 432.1L478.5 433.3L479.0 433.6L479.5 433.7L480.0 434.5L481.0 435.7L482.0 436.0L483.0 436.4L484.0 437.7L485.0 438.4L486.0 439.1L487.0 439.8L488.0 440.2L489.0 440.9L490.0 441.5L491.0 442.1L492.0 443.4L493.0 443.3L494.0 443.7L495.0 445.1L496.0 445.5L497.0 446.3L498.0 447.0L499.0 447.3L500.0 447.9L501.0 448.5L502.0 450.0L503.0 450.9L504.0 451.3L505.0 451.3L506.0 453.0L507.0 453.5L508.0 453.8L509.0 453.9L510.0 455.2L511.0 456.4L512.0 456.9L513.0 457.7L514.0 457.7L515.0 459.4L516.0 459.3L517.0 460.6L518.0 461.0L519.0 462.0L520.0 463.4L521.0 464.0L522.0 464.9L523.0 465.1L524.0 465.9L525.0 467.0L526.0 467.1L527.0 468.3L528.0 469.7L529.0 470.3L530.0 471.2L531.0 471.3L532.0 472.5L533.0 473.4L534.0 474.1L535.0 474.5L536.0 475.0L537.0 475.6L538.0 477.4L539.0 478.2L540.0 478.5L541.0 478.9L542.0 480.1L543.0 480.3L544.0 481.2L545.0 482.1L546.0 482.1L547.0 483.1L548.0 483.3L549.0 484.3L550.0 484.3L551.0 485.3L552.0 485.9L553.0 487.3L554.0 487.0L555.0 488.4L556.0 488.2L557.0 490.0L558.0 489.6L559.0 490.2L560.0 491.3L561.0 491.5L562.0 492.8L563.0 493.0L564.0 493.8L565.0 493.8L566.0 493.9L567.0 494.7L568.0 495.3L569.0 496.4L570.0 496.0L571.0 496.6L572.0 497.8L573.0 497.4L574.0 499.0L575.0 498.7L576.0 499.5L577.0 500.1L578.0 500.9L579.0 500.4L580.0 501.8L581.0 501.6L582.0 502.7L583.0 502.4L584.0 503.8L585.0 503.6L586.0 504.1L587.0 504.4L588.0 505.3L589.0 505.8L590.0 506.5L591.0 507.7L592.0 507.9L593.0 508.2L594.0 509.6L595.0 509.3L596.0 510.0L597.0 511.5L598.0 512.1L599.0 512.4L600.0 513.4L601.0 512.9L602.0 514.6L603.0 515.0L604.0 515.6L605.0 516.4L606.0 516.2L607.0 516.9L608.0 517.5L609.0 518.5L610.0 519.2L611.0 519.8L612.0 520.3L613.0 521.4L614.0 522.1L615.0 522.6L616.0 522.4L617.0 523.2L618.0 523.9L619.0 524.6L620.0 525.5L621.0 526.3L622.0 526.5L623.0 527.8L624.0 528.1L625.0 528.9L626.0 530.0L627.0 531.0L628.0 530.8L629.0 531.7L630.0 533.1L631.0 532.9L632.0 533.4L633.0 534.3L634.0 535.8L635.0 536.4L636.0 537.3L637.0 537.5L638.0 537.6L639.0 538.7L640.0 539.6L641.0 540.4L642.0 540.6L643.0 540.9L644.0 541.7L645.0 542.4L646.0 542.8L647.0 543.5L648.0 543.7L649.0 544.1L650.0 545.6L651.0 546.1L652.0 546.3L653.0 546.5L654.0 547.2L655.0 548.1L656.0 549.1L657.0 549.2L658.0 550.3L659.0 550.3L660.0 550.5L661.0 551.6L662.0 552.1L663.0 552.7L664.0 553.4L665.0 553.1L666.0 554.2L667.0 555.2L668.0 554.9L669.0 555.4L670.0 556.5L671.0 556.6L672.0 557.3L673.0 558.0L674.0 558.3L675.0 559.2L676.0 559.2L677.0 559.9L678.0 560.8L679.0 561.2L680.0 562.2L681.0 562.7L682.0 562.4L683.0 563.0L684.0 563.8L685.0 564.3L686.0 564.6L687.0 565.7L688.0 565.4L689.0 566.3L690.0 566.4L691.0 567.8L692.0 568.0L693.0 569.0L694.0 568.5L695.0 569.7L696.0 570.0L697.0 569.9L698.0 571.4L699.0 571.9L700.0 572.0L701.0 572.0L702.0 573.5L703.0 573.8L704.0 574.1L705.0 574.6L706.0 574.7L707.0 575.0L708.0 576.0L709.0 576.9L710.0 576.7L711.0 577.5L712.0 577.7L713.0 578.7L714.0 579.6L715.0 580.0L716.0 579.7L717.0 580.4L718.0 580.4L719.0 581.5L720.0 582.0L721.0 582.9L722.0 583.3L723.0 582.8L724.0 583.7L725.0 583.7L726.0 584.6L727.0 585.6L728.0 585.3L729.0 586.4L730.0 587.0L731.0 587.3L732.0 587.0L733.0 588.3L734.0 588.8L735.0 589.3L736.0 588.6L737.0 589.0L738.0 589.8L739.0 590.5L740.0 590.8L741.0 590.9L742.0 592.0L743.0 592.5L744.0 592.9L745.0 593.2L746.0 593.7L747.0 594.3L748.0 594.0L749.0 594.9L750.0 595.4L751.0 595.5L752.0 596.1L753.0 597.5L754.0 597.5L755.0 598.1L756.0 598.7L757.0 599.6L758.0 599.6L759.0 600.8L760.0 600.1L761.0 602.0L762.0 602.7L763.0 602.6L764.0 600.9L765.0 604.4L766.0 604.8L767.0 605.5L768.0 605.4L769.0 605.7L770.0 604.7L771.0 608.1L772.0 607.5L773.0 607.5L774.0 607.9L775.0 609.7L776.0 610.1L777.0 611.4L778.0 606.5L779.0 606.8L780.0 613.0L781.0 614.6L782.0 614.0L783.0 614.1L784.0 615.6L785.0 614.8L786.0 614.4L787.0 613.3L788.0 617.3L789.0 617.2L790.0 616.2L791.0 619.0L792.0 618.2L793.0 618.7L794.0 618.5L795.0 614.6L796.0 617.6L797.0 620.3L798.0 619.5L799.0 617.8L800.0 620.7L801.0 620.7L802.0 622.6L803.0 623.6L804.0 623.9L805.0 623.6L806.0 624.5L807.0 620.0L808.0 624.0L809.0 624.4L810.0 625.3L811.0 625.5L812.0 626.8L813.0 624.6L814.0 626.9L815.0 623.7L816.0 622.7L817.0 627.7L818.0 629.6L819.0 630.3L820.0 628.5L821.0 631.1L822.0 628.5L823.0 627.1L824.0 632.8L825.0 632.6L826.0 632.5L827.0 630.6L828.0 633.6L829.0 630.2L830.0 634.3L831.0 631.6L832.0 636.2L833.0 636.5L834.0 636.9L835.0 636.8L836.0 636.3L837.0 634.2L838.0 638.3L839.0 638.9L840.0 639.5L841.0 637.7L842.0 640.8L843.0 640.1L844.0 641.2L845.0 641.2L846.0 641.8L847.0 640.3L848.0 643.1L849.0 643.8L850.0 644.3L851.0 640.9L852.0 645.4L853.0 644.6L854.0 645.9L855.0 642.5L856.0 644.3L857.0 644.3L858.0 644.8L859.0 646.7L860.0 648.6L861.0 644.2L862.0 645.8L863.0 645.3L864.0 650.0L865.0 650.2L866.0 651.9L867.0 652.0L868.0 651.3L869.0 649.4L870.0 650.3L871.0 652.7L872.0 653.4L873.0 655.4L874.0 653.4L875.0 656.0L876.0 657.2L877.0 652.9L878.0 655.5L879.0 656.2L880.0 657.5L881.0 657.0L882.0 653.8L883.0 659.1L884.0 658.9L885.0 660.1L886.0 656.5L887.0 661.8L888.0 658.3L889.0 662.5L890.0 662.4L891.0 662.9L892.0 664.3L893.0 660.3L894.0 664.9L895.0 664.9L896.0 666.3L897.0 667.0L898.0 661.6L899.0 665.9L900.0 666.6L901.0 668.9L902.0 668.1L903.0 668.5L904.0 669.6L905.0 670.4L906.0 666.7L907.0 667.9L908.0 672.2L909.0 671.8L910.0 673.7L911.0 670.9L912.0 672.8L913.0 674.9L914.0 676.1L915.0 674.4L916.0 676.3L917.0 674.8L918.0 674.6L919.0 675.3L920.0 678.0L921.0 677.7L922.0 678.3L923.0 680.7L924.0 680.1L925.0 674.9L926.0 680.6L927.0 680.3L928.0 681.5L929.0 679.2L930.0 682.3L931.0 683.1L932.0 682.7L933.0 684.4L934.0 683.1L935.0 685.0L936.0 683.2L937.0 683.7L938.0 685.0L939.0 682.0L940.0 685.5L941.0 685.3L942.0 682.9L943.0 689.0L944.0 687.6L945.0 688.1L946.0 686.7L947.0 690.6L948.0 689.0L949.0 690.4L950.0 690.7L951.0 690.7L952.0 693.0L953.0 691.1L954.0 692.5L955.0 693.1L956.0 694.3L957.0 695.3L958.0 694.6L959.0 693.4L960.0 692.9L961.0 696.7L962.0 697.0L963.0 698.8L964.0 698.0L965.0 698.1L966.0 696.7L967.0 698.7L968.0 700.5L969.0 700.2L970.0 701.0L971.0 698.3L972.0 702.7L973.0 703.5L974.0 704.7L975.0 703.7L976.0 704.9L977.0 704.4L978.0 705.2L979.0 704.1L980.0 707.0L981.0 705.5L982.0 703.1L983.0 703.1L984.0 706.2L985.0 711.0L986.0 710.5L987.0 711.9L988.0 706.5L989.0 711.2L990.0 711.8L991.0 712.6L992.0 708.7L993.0 714.8L994.0 715.0L995.0 715.9L996.0 716.4L997.0 712.6L998.0 716.5L999.0 718.0L1000.0 716.7L1001.0 718.3L1002.0 719.9L1003.0 720.9L1004.0 721.4L1005.0 722.2L1006.0 722.5L1007.0 723.1L1008.0 722.5L1009.0 724.4L1010.0 720.7L1011.0 724.7L1012.0 725.0L1013.0 725.6L1014.0 723.2L1015.0 727.5L1016.0 728.6L1017.0 722.6L1018.0 724.6L1019.0 728.5L1020.0 731.0L1021.0 727.1L1022.0 728.6L1023.0 727.8L1024.0 731.2L1025.0 732.7L1026.0 728.3L1027.0 733.9L1028.0 734.7L1029.0 734.9L1030.0 734.1L1031.0 736.7L1032.0 736.6L1033.0 735.5L1034.0 737.9L1035.0 737.0L1036.0 739.5L1037.0 739.9L1038.0 740.4L1039.0 740.2L1040.0 740.7L1041.0 741.9L1042.0 740.9L1043.0 742.1L1044.0 741.3L1045.0 742.0L1046.0 737.9L1047.0 740.3L1048.0 742.8L1049.0 744.4L1050.0 744.6L1051.0 741.7L1052.0 744.9L1053.0 743.7L1054.0 745.5L1055.0 743.4L1056.0 741.7L1057.0 746.5L1058.0 747.5L1059.0 745.2L1060.0 748.0L1061.0 749.2L1062.0 749.6L1063.0 745.8L1064.0 750.0L1065.0 748.5L1066.0 750.3L1067.0 747.1L1068.0 746.1L1069.0 746.9L1070.0 751.2L1071.0 749.6L1072.0 747.9L1073.0 752.7L1074.0 752.5L1075.0 753.4L1076.0 754.0L1077.0 754.0L1078.0 756.3L1079.0 755.2L1080.0 756.9L1081.0 757.3L1082.0 758.8L1083.0 757.8L1084.0 757.7L1085.0 760.0L1086.0 760.0L1087.0 761.3L1088.0 760.4L1089.0 759.2L1090.0 762.5L1091.0 761.9L1092.0 760.6L1093.0 763.3L1094.0 761.0L1095.0 759.7L1096.0 763.8L1097.0 761.4L1098.0 761.5L1099.0 766.2L1100.0 767.3L1101.0 767.5L1102.0 768.0L1103.0 769.0L1104.0 769.6L1105.0 770.0L1106.0 769.9L1107.0 770.4L1108.0 771.6L1109.0 771.5L1110.0 772.1L1111.0 772.0L1112.0 773.3L1113.0 773.4L1114.0 773.6L1115.0 774.4L1116.0 774.5L1117.0 775.2L1118.0 775.7L1119.0 776.2L1120.0 776.6L1121.0 776.9L1122.0 778.1L1123.0 778.3L1124.0 778.6L1125.0 779.3L1126.0 779.2L1127.0 779.9L1128.0 780.4L1129.0 781.1L1130.0 782.0L1131.0 782.0L1132.0 782.4L1133.0 783.1L1134.0 783.8L1135.0 783.7L1136.0 784.6L1137.0 784.7L1138.0 784.8L1139.0 785.3L1140.0 785.8L1141.0 786.6L1142.0 786.9L1143.0 787.8L1144.0 788.5L1145.0 788.6L1146.0 789.4L1147.0 789.4L1148.0 789.7L1149.0 791.0L1150.0 791.1L1151.0 791.2L1152.0 791.8L1153.0 792.9L1154.0 792.4L1155.0 793.8L1156.0 793.4L1157.0 794.8L1158.0 794.9L1159.0 794.9L1160.0 795.8L1161.0 795.9L1162.0 796.5L1163.0 797.2L1164.0 797.8L1165.0 798.3L1166.0 797.9L1167.0 798.8L1168.0 799.4L1169.0 799.1L1170.0 800.3L1171.0 800.0L1172.0 800.9L1173.0 801.2L1174.0 801.6L1175.0 802.4L1176.0 802.0L1177.0 802.5L1178.0 803.8L1179.0 803.8L1180.0 804.5L1181.0 804.2L1182.0 804.7L1183.0 805.4L1184.0 806.1L1185.0 806.1L1186.0 806.0L1187.0 806.9L1188.0 807.7L1189.0 808.2L1190.0 808.2L1191.0 808.2L1192.0 809.0L1193.0 810.0L1194.0 810.3L1195.0 810.6L1196.0 810.5L1197.0 811.3L1198.0 811.7L1199.0 812.3L1200.0 812.7L1201.0 812.7L1202.0 814.0L1203.0 814.0L1204.0 814.1L1205.0 815.1L1206.0 815.2L1207.0 815.4L1208.0 816.4L1209.0 816.2L1210.0 817.7L1211.0 817.7L1212.0 817.8L1213.0 819.1L1214.0 819.1L1215.0 818.9L1216.0 820.2L1217.0 819.8L1218.0 820.5L1219.0 821.3L1220.0 821.7L1221.0 822.4L1222.0 823.2L1223.0 823.5L1224.0 823.3L1225.0 824.2L1226.0 824.1L1227.0 825.3L1228.0 825.5L1229.0 826.2L1230.0 826.0L1231.0 827.0L1232.0 827.4L1233.0 827.5L1234.0 828.7L1235.0 829.6L1236.0 829.8L1237.0 830.5L1238.0 829.9L1239.0 831.1L1240.0 831.5L1241.0 831.8L1242.0 832.7L1243.0 832.7L1244.0 832.8L1245.0 834.0L1246.0 834.7L1247.0 834.6L1248.0 835.4L1249.0 835.3L1250.0 836.8L1251.0 837.3L1252.0 836.6L1253.0 837.9L1254.0 838.7L1255.0 838.7L1256.0 838.7L1257.0 839.9L1258.0 840.1L1259.0 840.4L1260.0 840.6L1261.0 841.3L1262.0 842.5L1263.0 842.5L1264.0 843.1L1265.0 843.7L1266.0 843.9L1267.0 844.8L1268.0 845.2L1269.0 844.9L1270.0 846.1L1271.0 845.9L1272.0 846.9L1273.0 847.9L1274.0 848.3L1275.0 848.1L1276.0 849.4L1277.0 849.0L1278.0 850.1L1279.0 850.6L1280.0 850.8L1281.0 850.7L1282.0 851.5L1283.0 852.3L1284.0 853.3L1285.0 852.8L1286.0 853.7L1287.0 854.7L1288.0 854.3L1289.0 855.6L1290.0 855.9L1291.0 856.5L1292.0 856.4L1293.0 857.2L1294.0 857.1L1295.0 857.8L1296.0 858.9L1297.0 858.6L1298.0 859.6L1299.0 859.5L1300.0 860.8L1301.0 861.1L1302.0 861.0L1303.0 862.4L1304.0 862.6L1305.0 863.1L1306.0 862.9L1307.0 864.2L1308.0 864.6L1309.0 864.7L1310.0 865.3L1311.0 865.2L1312.0 866.5L1313.0 866.3L1314.0 867.5L1315.0 867.7L1316.0 867.9L1317.0 868.4L1318.0 868.7L1319.0 869.4L1320.0 870.3L1321.0 870.4L1322.0 870.6L1323.0 871.4L1324.0 872.2L1325.0 871.7L1326.0 872.6L1327.0 873.5L1328.0 873.5L1329.0 873.6L1330.0 874.0L1331.0 875.1L1332.0 875.4L1333.0 875.2L1334.0 875.7L1335.0 876.4L1336.0 877.1L1337.0 877.5L1338.0 877.7L1339.0 878.1L1340.0 878.9L1341.0 879.6L1342.0 880.3L1343.0 880.4L1344.0 881.0L1345.0 881.9L1346.0 882.0L1347.0 883.1L1348.0 882.7L1349.0 883.5L1350.0 884.5L1351.0 884.5L1352.0 884.9L1353.0 886.1L1354.0 886.6L1355.0 887.3L1356.0 888.1L1357.0 888.0L1358.0 889.2L1359.0 889.7L1360.0 890.4L1361.0 890.1L1362.0 890.4L1363.0 891.8L1364.0 891.7L1365.0 892.0L1366.0 893.4L1367.0 893.9L1368.0 894.4L1369.0 894.3L1370.0 895.6L1371.0 895.5L1372.0 896.4L1373.0 897.2L1374.0 897.3L1375.0 897.9L1376.0 899.0L1377.0 899.3L1378.0 900.1L1379.0 899.7L1380.0 901.1L1381.0 900.9L1382.0 901.6L1383.0 902.6L1384.0 903.3L1385.0 903.7L1386.0 904.1L1387.0 904.6L1388.0 905.3L1389.0 905.3L1390.0 906.1L1391.0 906.7L1392.0 906.9L1393.0 907.8L1394.0 908.6L1395.0 908.4L1396.0 909.3L1397.0 910.6L1398.0 911.1L1399.0 910.7L1400.0 911.7L1401.0 912.8L1402.0 913.4L1403.0 913.7L1404.0 913.8L1405.0 914.7L1406.0 915.0L1407.0 916.1L1408.0 916.2L1409.0 917.1L1410.0 917.4L1411.0 918.7L1412.0 918.9L1413.0 920.1L1414.0 920.7L1415.0 920.5L1416.0 921.8L1417.0 922.5L1418.0 922.5L1419.0 923.8L1420.0 923.5L1421.0 924.4L1422.0 925.5L1423.0 926.3L1424.0 927.0L1425.0 927.2L1426.0 928.0L1427.0 928.9L1428.0 929.5L1429.0 929.4L1430.0 930.2L1431.0 930.7L1432.0 931.8L1433.0 932.1L1434.0 932.2L1435.0 933.8L1436.0 933.8L1437.0 934.1L1438.0 935.0L1439.0 935.2L1440.0 936.9L1441.0 936.6L1442.0 937.0L1443.0 938.8L1444.0 938.6L1445.0 939.6L1446.0 940.0L1447.0 940.5L1448.0 941.9L1449.0 942.3L1450.0 942.4L1451.0 943.6L1452.0 944.2L1453.0 944.9L1454.0 945.0L1455.0 945.6L1456.0 946.8L1457.0 946.9L1458.0 947.4L1459.0 948.3L1460.0 948.8L1461.0 949.8L1462.0 950.4L1463.0 950.7L1464.0 952.6L1465.0 952.4L1466.0 953.6L1467.0 954.1L1468.0 954.6L1469.0 955.6L1470.0 956.6L1471.0 957.0L1472.0 957.8L1473.0 959.1L1474.0 959.8L1475.0 960.1L1476.0 961.2L1477.0 961.9L1478.0 963.5L1479.0 964.3L1480.0 965.1L1481.0 965.9L1482.0 966.2L1483.0 966.7L1484.0 968.0L1485.0 968.3L1486.0 969.9L1487.0 969.8L1488.0 971.1L1489.0 971.9L1490.0 972.1L1491.0 973.6L1492.0 974.1L1493.0 975.2L1494.0 975.8L1495.0 976.5L1496.0 977.5L1497.0 977.4L1498.0 978.2L1499.0 979.4L1500.0 979.4L1501.0 980.5L1502.0 981.5L1503.0 981.5L1504.0 982.5L1505.0 983.6L1506.0 983.7L1507.0 984.5L1508.0 985.4L1509.0 986.5L1510.0 986.8L1511.0 987.9L1512.0 988.1L1513.0 988.3L1514.0 990.0L1515.0 990.1L1516.0 990.4L1517.0 991.6L1518.0 992.1L1519.0 992.3L1520.0 993.3L1521.0 993.8L1522.0 994.8L1523.0 995.4L1524.0 996.9L1525.0 997.0" stroke="#37AD6B"/>
<path d="M153.0 300.0L153.5 286.0L154.4 283.1L155.4 280.0L156.6 274.8L157.7 274.4L158.8 273.7L159.8 273.2L160.9 272.2L162.0 271.2L163.0 270.8L164.0 268.8L165.0 268.5L166.0 268.1L167.0 266.9L168.0 265.8L169.0 266.5L170.0 265.7L171.0 266.4L172.0 266.3L173.0 266.9L174.0 267.0L175.0 267.3L176.0 266.8L177.0 267.3L178.0 267.5L179.0 268.5L180.0 268.2L181.0 268.8L182.0 268.4L183.0 269.5L184.0 269.0L185.0 269.8L186.0 270.0L187.0 270.0L188.0 270.2L189.0 271.6L190.0 271.3L191.0 271.7L192.0 272.4L193.0 273.4L194.0 273.6L195.0 273.3L196.0 274.6L197.0 274.4L198.0 274.8L199.0 275.5L200.0 275.4L201.0 276.8L202.0 277.0L203.0 277.9L204.0 277.8L205.0 278.9L206.0 278.8L207.0 279.6L208.0 280.0L209.0 281.0L210.0 278.3L211.0 275.9L212.0 274.2L213.0 274.7L214.0 275.9L215.0 276.0L216.0 277.6L217.0 277.9L218.0 278.7L219.0 280.1L220.0 280.5L221.0 281.7L222.0 282.8L223.0 284.3L224.0 285.8L225.0 286.8L226.0 287.1L227.0 289.1L228.0 288.8L229.0 290.5L230.0 291.5L231.0 291.3L232.0 293.1L233.0 293.5L234.0 294.6L235.0 294.7L236.0 295.6L237.0 296.7L238.0 298.4L239.0 298.4L240.0 299.6L241.0 300.4L242.0 301.1L243.0 301.6L244.0 301.4L245.0 301.9L246.0 302.6L247.0 303.4L248.0 303.1L249.0 304.3L250.0 304.9L251.0 305.5L252.0 305.0L253.0 306.5L254.0 306.0L255.0 307.0L256.0 307.3L257.0 308.1L258.0 309.0L259.0 308.8L260.0 310.0L261.0 310.1L262.0 310.3L263.0 310.8L264.0 311.2L265.0 311.6L266.0 312.2L267.0 313.3L268.0 314.2L269.0 313.7L270.0 314.6L270.8 316.3L271.5 319.0L272.5 319.7L273.5 319.2L274.5 319.2L275.5 319.0L276.6 319.6L277.6 319.9L278.6 319.6L279.6 319.6L280.6 319.8L281.6 320.0L282.6 321.7L283.6 321.3L284.6 322.5L285.6 323.6L286.6 323.5L287.6 324.9L288.6 325.8L289.6 326.1L290.6 327.0L291.6 326.8L292.6 328.0L293.6 328.5L294.6 328.8L295.6 330.2L296.6 330.2L297.6 330.9L298.6 332.2L299.6 332.6L300.6 333.4L301.6 333.3L302.6 334.0L303.6 334.9L304.6 335.2L305.6 335.5L306.6 336.3L307.6 337.0L308.7 337.1L309.7 337.9L310.8 339.1L311.8 339.6L312.9 339.7L313.9 340.1L315.0 340.6L316.0 341.1L317.0 341.5L318.0 342.4L319.0 343.7L320.0 344.5L321.0 344.6L322.0 345.8L323.0 346.5L324.0 347.1L325.0 347.7L326.0 348.5L327.0 348.8L328.0 349.9L329.0 350.0L330.0 351.0L331.0 351.3L332.0 352.0L333.0 352.3L334.0 352.2L335.0 353.3L336.0 353.3L337.0 353.6L338.0 353.2L339.0 354.2L340.0 354.2L341.0 355.1L342.0 355.2L343.0 356.0L344.0 356.1L345.0 356.3L345.9 357.3L346.9 357.4L347.8 358.5L348.8 359.2L349.7 360.0L350.6 360.1L351.6 361.3L352.5 361.6L353.5 362.8L354.5 363.3L355.5 364.4L356.5 365.1L357.5 365.3L358.5 366.0L359.3 336.8L360.3 337.9L361.2 338.6L362.2 340.5L363.2 341.7L364.2 342.2L365.1 343.6L366.1 344.7L367.1 345.8L368.1 346.2L369.0 348.0L370.0 348.8L371.0 350.0L372.0 351.2L373.0 352.0L374.0 353.3L375.0 354.6L376.0 355.6L377.0 356.8L378.0 357.0L379.0 358.3L380.0 359.7L381.0 361.1L382.0 361.7L383.0 363.3L384.0 364.4L385.0 365.3L386.0 365.9L387.0 367.5L388.0 368.3L389.0 369.2L390.0 370.5L391.0 371.8L392.0 372.8L393.0 373.9L394.0 374.8L395.0 376.5L396.0 377.4L397.0 378.2L398.0 379.4L399.0 380.3L400.0 380.9L401.0 382.6L402.0 382.4L403.0 383.9L404.0 384.6L405.0 385.7L406.0 386.3L407.0 388.1L408.0 388.5L409.0 389.0L410.0 390.5L411.0 391.4L412.0 391.6L413.0 393.0L414.0 393.5L415.0 394.6L416.0 395.8L417.0 396.5L418.0 396.8L419.0 398.1L420.0 398.7L421.0 399.1L422.0 399.7L423.0 401.0L424.0 401.8L425.0 402.5L425.5 403.1L426.0 403.2L426.5 402.8L427.0 402.6L427.5 403.3L428.0 395.2L428.5 405.1L429.0 404.9L429.5 401.3L430.0 398.2L430.5 411.5L431.0 411.5L431.5 405.6L432.0 411.8L432.5 402.0L433.0 412.1L433.5 399.8L434.0 396.9L434.5 402.9L435.0 408.7L435.5 395.5L436.0 399.9L436.5 409.6L437.0 399.6L437.5 412.6L438.0 405.9L438.5 406.9L439.0 408.9L439.5 408.7L440.0 404.5L440.5 405.3L441.0 401.6L441.5 405.3L442.0 410.6L442.5 398.5L443.0 406.1L443.5 415.2L444.0 399.5L444.5 407.6L445.0 412.9L445.5 409.3L446.0 408.4L446.5 416.6L447.0 406.8L447.5 403.9L448.0 415.7L448.5 408.3L449.0 420.4L449.5 412.3L450.0 413.6L450.5 407.6L451.0 420.2L451.5 409.6L452.0 421.1L452.5 407.5L453.0 425.2L453.5 421.0L454.0 422.9L454.5 420.0L455.0 422.5L455.5 414.4L456.0 413.3L456.5 418.1L457.0 421.8L457.5 412.8L458.0 413.0L458.5 422.2L459.0 428.9L459.5 420.6L460.0 422.7L460.5 424.7L461.0 431.5L461.5 415.9L462.0 418.5L462.5 425.3L463.0 427.0L463.5 421.8L464.0 422.1L464.5 427.5L465.0 422.1L465.5 431.9L466.0 431.7L466.5 421.5L467.0 422.1L467.5 430.9L468.0 436.6L468.5 430.6L469.0 430.9L469.5 431.9L470.0 432.0L471.0 432.9L472.0 435.2L473.0 435.8L474.0 437.4L475.0 439.8L476.0 440.9L477.0 441.8L478.0 443.1L479.0 445.6L480.0 446.5L481.0 447.3L482.0 448.1L483.0 447.9L484.0 449.1L485.0 449.4L486.0 449.9L487.0 450.6L488.0 451.6L489.0 451.9L490.0 452.5L491.0 452.8L492.0 454.3L493.0 454.7L494.0 455.5L495.0 455.7L496.0 456.8L497.0 457.0L498.0 457.7L499.0 458.3L500.0 459.1L501.0 459.3L502.0 459.6L503.0 460.1L504.0 460.9L505.0 461.4L506.0 463.0L507.0 463.1L508.0 464.1L509.0 463.8L510.0 465.0L511.0 466.1L512.0 467.8L513.0 468.6L514.0 469.6L515.0 470.8L516.0 471.5L517.0 472.7L518.0 473.9L519.0 475.3L520.0 476.5L521.0 477.8L522.0 479.3L523.0 479.4L524.0 480.5L525.0 481.6L526.0 482.4L527.0 483.6L528.0 484.5L529.0 485.8L530.0 486.3L531.0 488.4L532.0 488.7L533.0 490.4L534.0 491.1L535.0 492.1L536.0 492.9L537.0 494.5L538.0 494.5L539.0 496.2L540.0 496.7L541.0 498.2L542.0 499.3L543.0 499.6L544.0 501.0L545.0 501.2L546.0 501.5L547.0 502.3L548.0 502.6L549.0 503.5L550.0 504.7L551.0 504.5L552.0 505.0L553.0 505.7L554.0 506.0L555.0 507.1L556.0 507.6L557.0 507.4L558.0 508.0L559.0 509.1L560.0 509.4L561.0 510.5L562.0 510.6L563.0 510.9L564.0 512.1L565.0 511.5L566.0 512.1L567.0 513.5L568.0 513.6L569.0 513.7L570.0 514.8L571.0 515.9L572.0 515.9L573.0 516.2L574.0 516.4L575.0 516.9L576.0 518.5L577.0 518.5L578.0 519.6L579.0 519.1L580.0 519.8L581.0 520.1L582.0 521.1L583.0 521.2L584.0 522.0L585.0 522.7L586.0 523.1L587.0 523.4L588.0 523.9L589.0 525.5L590.0 525.5L591.0 525.8L592.0 526.9L593.0 527.5L594.0 528.4L595.0 528.6L596.0 529.6L597.0 530.0L598.0 531.3L599.0 532.5L600.0 532.8L601.0 533.8L602.0 533.8L603.0 534.2L604.0 535.6L605.0 536.2L606.0 537.1L607.0 537.5L608.0 538.6L609.0 539.4L610.0 540.3L611.0 540.3L612.0 541.2L613.0 542.4L614.0 542.4L615.0 543.0L616.0 543.9L617.0 544.4L618.0 545.9L619.0 546.7L620.0 547.0L621.0 547.4L622.0 547.8L623.0 548.4L624.0 549.2L625.0 549.7L626.0 550.7L627.0 551.5L628.0 551.8L629.0 552.2L630.0 553.6L631.0 553.4L632.0 554.3L633.0 555.0L634.0 555.7L635.0 556.0L636.0 557.1L637.0 557.6L638.0 558.7L639.0 559.1L640.0 559.7L641.0 560.7L642.0 560.9L643.0 561.5L644.0 561.8L645.0 562.2L646.0 563.1L647.0 563.5L648.0 564.3L649.0 564.6L650.0 565.0L651.0 565.0L652.0 566.2L653.0 566.2L654.0 566.4L655.0 566.8L656.0 567.5L657.0 568.1L658.0 569.1L659.0 569.1L660.0 569.4L661.0 570.7L662.0 571.0L663.0 570.9L664.0 571.4L665.0 572.0L666.0 572.8L667.0 573.9L668.0 574.5L669.0 574.6L670.0 575.0L671.0 575.2L672.0 576.0L673.0 576.5L674.0 577.1L675.0 577.2L676.0 578.5L677.0 579.4L678.0 579.8L679.0 579.6L680.0 580.7L681.0 580.8L682.0 582.1L683.0 582.3L684.0 583.5L685.0 583.9L686.0 583.6L687.0 584.4L688.0 585.7L689.0 585.7L690.0 586.3L691.0 586.8L692.0 587.8L693.0 588.6L694.0 588.6L695.0 589.7L696.0 589.8L697.0 589.8L698.0 591.2L699.0 591.3L700.0 592.0L701.0 592.1L702.0 593.8L703.0 593.2L704.0 594.5L705.0 595.0L706.0 596.1L707.0 596.1L708.0 596.5L709.0 597.1L710.0 597.6L711.0 598.7L712.0 599.0L713.0 600.1L714.0 600.1L715.0 600.8L716.0 601.3L717.0 602.8L718.0 603.2L719.0 603.8L720.0 604.0L721.0 604.9L722.0 605.4L723.0 605.8L724.0 607.4L725.0 607.7L726.0 607.9L727.0 608.8L728.0 609.5L729.0 611.0L730.0 611.9L731.0 611.9L732.0 613.3L733.0 613.5L734.0 614.7L735.0 615.6L736.0 616.1L737.0 617.1L738.0 617.3L739.0 617.6L740.0 618.9L741.0 619.8L742.0 620.0L743.0 621.0L744.0 621.7L745.0 622.1L746.0 623.2L747.0 624.0L748.0 624.9L749.0 625.9L750.0 626.4L751.0 626.8L752.0 628.1L753.0 628.5L754.0 629.1L755.0 629.4L756.0 630.0L757.0 630.4L758.0 631.2L759.0 631.3L760.0 632.1L761.0 632.8L762.0 633.1L763.0 633.4L764.0 633.7L765.0 634.3L766.0 635.2L767.0 636.0L768.0 636.8L769.0 637.3L770.0 637.4L771.0 638.7L772.0 638.4L773.0 639.5L774.0 639.3L775.0 640.7L776.0 641.2L777.0 642.1L778.0 642.6L779.0 642.9L780.0 643.2L781.0 644.1L782.0 644.5L783.0 644.8L784.0 644.8L785.0 645.6L786.0 646.6L787.0 646.3L788.0 647.6L789.0 647.6L790.0 647.9L791.0 647.9L792.0 648.9L793.0 649.1L794.0 650.2L795.0 650.9L796.0 651.4L797.0 651.6L798.0 651.8L799.0 651.9L800.0 653.1L801.0 653.4L802.0 654.1L803.0 654.2L804.0 655.3L805.0 654.9L806.0 655.5L807.0 656.0L808.0 656.9L809.0 657.7L810.0 657.7L811.0 657.8L812.0 658.8L813.0 659.4L814.0 659.3L815.0 659.6L816.0 660.6L817.0 661.4L818.0 662.0L819.0 662.3L820.0 662.4L821.0 662.9L822.0 663.5L823.0 664.4L824.0 664.1L825.0 664.6L826.0 665.5L827.0 666.4L828.0 665.9L829.0 666.2L830.0 666.8L831.0 667.8L832.0 668.3L833.0 668.3L834.0 668.8L835.0 669.7L836.0 670.3L837.0 670.8L838.0 671.3L839.0 671.0L840.0 672.0L841.0 672.5L842.0 673.5L843.0 674.2L844.0 674.0L845.0 675.2L846.0 675.5L847.0 676.4L848.0 676.1L849.0 677.2L850.0 677.9L851.0 678.0L852.0 678.1L853.0 678.8L854.0 679.3L855.0 679.8L856.0 680.4L857.0 681.5L858.0 681.4L859.0 682.8L860.0 683.0L861.0 683.7L862.0 684.2L863.0 684.6L864.0 684.9L865.0 685.5L866.0 685.9L867.0 686.0L868.0 686.8L869.0 686.1L870.0 686.5L871.0 686.9L872.0 687.4L873.0 688.0L874.0 688.6L875.0 689.2L876.0 689.7L877.0 689.3L878.0 690.1L879.0 690.7L880.0 689.9L881.0 691.2L882.0 692.0L883.0 693.8L884.0 692.7L885.0 692.8L886.0 692.9L887.0 694.2L888.0 694.4L889.0 694.3L890.0 695.0L891.0 696.5L892.0 695.7L893.0 697.3L894.0 696.2L895.0 697.1L896.0 697.6L897.0 697.7L898.0 700.7L899.0 699.9L900.0 700.2L901.0 700.4L902.0 700.5L903.0 702.0L904.0 701.7L905.0 701.4L906.0 705.1L907.0 703.8L908.0 705.3L909.0 705.0L910.0 706.4L911.0 708.3L912.0 708.7L913.0 708.3L914.0 708.0L915.0 708.8L916.0 706.5L917.0 709.5L918.0 707.1L919.0 710.4L920.0 712.0L921.0 712.2L922.0 712.1L923.0 711.0L924.0 713.1L925.0 713.8L926.0 714.5L927.0 714.6L928.0 713.2L929.0 714.6L930.0 715.8L931.0 715.6L932.0 715.9L933.0 716.1L934.0 718.7L935.0 718.4L936.0 720.0L937.0 716.9L938.0 719.4L939.0 719.5L940.0 719.4L941.0 717.9L942.0 719.1L943.0 721.7L944.0 721.9L945.0 722.3L946.0 720.5L947.0 722.9L948.0 718.5L949.0 718.8L950.0 723.8L951.0 722.4L952.0 725.0L953.0 724.9L954.0 724.4L955.0 725.0L956.0 728.2L957.0 727.4L958.0 728.3L959.0 727.2L960.0 730.2L961.0 728.6L962.0 727.9L963.0 730.1L964.0 728.2L965.0 732.0L966.0 732.1L967.0 733.1L968.0 734.0L969.0 735.2L970.0 733.6L971.0 735.0L972.0 733.6L973.0 735.1L974.0 733.4L975.0 737.5L976.0 737.3L977.0 736.8L978.0 737.7L979.0 740.1L980.0 740.0L981.0 738.7L982.0 739.6L983.0 740.5L984.0 743.8L985.0 740.2L986.0 744.0L987.0 743.3L988.0 742.2L989.0 745.2L990.0 745.6L991.0 741.4L992.0 746.5L993.0 747.3L994.0 747.5L995.0 747.1L996.0 745.7L997.0 745.7L998.0 747.8L999.0 750.3L1000.0 749.9L1001.0 751.8L1002.0 752.7L1003.0 754.2L1004.0 751.6L1005.0 751.9L1006.0 751.4L1007.0 755.6L1008.0 756.3L1009.0 756.5L1010.0 757.2L1011.0 753.4L1012.0 756.2L1013.0 753.4L1014.0 758.7L1015.0 759.3L1016.0 756.1L1017.0 761.2L1018.0 760.5L1019.0 761.7L1020.0 760.7L1021.0 761.1L1022.0 762.7L1023.0 764.5L1024.0 763.3L1025.0 765.6L1026.0 766.2L1027.0 765.1L1028.0 764.4L1029.0 764.6L1030.0 767.0L1031.0 764.4L1032.0 767.5L1033.0 766.7L1034.0 770.8L1035.0 771.4L1036.0 772.3L1037.0 772.2L1038.0 770.2L1039.0 772.9L1040.0 773.3L1041.0 773.4L1042.0 772.9L1043.0 773.4L1044.0 773.4L1045.0 773.5L1046.0 776.9L1047.0 774.2L1048.0 776.0L1049.0 777.4L1050.0 777.8L1051.0 776.9L1052.0 777.6L1053.0 777.5L1054.0 778.6L1055.0 779.0L1056.0 780.0L1057.0 777.2L1058.0 779.9L1059.0 779.5L1060.0 778.7L1061.0 780.1L1062.0 778.7L1063.0 779.8L1064.0 781.9L1065.0 782.8L1066.0 783.5L1067.0 783.6L1068.0 782.7L1069.0 784.7L1070.0 784.6L1071.0 784.9L1072.0 785.6L1073.0 786.1L1074.0 786.1L1075.0 786.6L1076.0 787.0L1077.0 784.1L1078.0 785.2L1079.0 786.9L1080.0 788.9L1081.0 791.1L1082.0 789.2L1083.0 787.7L1084.0 792.3L1085.0 792.6L1086.0 792.5L1087.0 793.5L1088.0 793.2L1089.0 793.6L1090.0 795.1L1091.0 794.0L1092.0 795.5L1093.0 796.5L1094.0 796.8L1095.0 796.8L1096.0 797.4L1097.0 793.4L1098.0 798.6L1099.0 794.1L1100.0 800.0L1101.0 800.3L1102.0 800.8L1103.0 801.1L1104.0 801.7L1105.0 803.2L1106.0 803.5L1107.0 804.2L1108.0 804.6L1109.0 805.1L1110.0 805.0L1111.0 805.4L1112.0 806.1L1113.0 806.4L1114.0 807.0L1115.0 808.2L1116.0 808.5L1117.0 808.4L1118.0 809.3L1119.0 810.5L1120.0 811.0L1121.0 811.4L1122.0 811.9L1123.0 812.7L1124.0 812.8L1125.0 813.1L1126.0 813.9L1127.0 814.0L1128.0 814.3L1129.0 815.1L1130.0 815.8L1131.0 816.0L1132.0 816.5L1133.0 817.2L1134.0 817.9L1135.0 819.1L1136.0 819.1L1137.0 820.0L1138.0 820.4L1139.0 820.8L1140.0 821.0L1141.0 821.6L1142.0 822.0L1143.0 823.0L1144.0 823.7L1145.0 824.2L1146.0 824.1L1147.0 824.5L1148.0 824.9L1149.0 826.1L1150.0 826.2L1151.0 826.4L1152.0 827.3L1153.0 827.8L1154.0 828.3L1155.0 829.3L1156.0 829.8L1157.0 829.9L1158.0 831.0L1159.0 830.9L1160.0 831.8L1161.0 832.7L1162.0 832.1L1163.0 833.1L1164.0 833.6L1165.0 834.1L1166.0 834.2L1167.0 835.0L1168.0 835.2L1169.0 835.6L1170.0 835.3L1171.0 835.8L1172.0 836.6L1173.0 837.1L1174.0 836.9L1175.0 838.1L1176.0 838.0L1177.0 838.6L1178.0 839.0L1179.0 839.8L1180.0 839.6L1181.0 840.3L1182.0 840.7L1183.0 841.2L1184.0 841.2L1185.0 841.5L1186.0 842.2L1187.0 842.7L1188.0 843.2L1189.0 843.0L1190.0 843.8L1191.0 844.2L1192.0 844.8L1193.0 844.9L1194.0 845.2L1195.0 846.7L1196.0 846.1L1197.0 847.1L1198.0 847.3L1199.0 847.5L1200.0 848.3L1201.0 848.6L1202.0 849.4L1203.0 850.4L1204.0 849.9L1205.0 850.7L1206.0 851.6L1207.0 852.0L1208.0 851.7L1209.0 852.5L1210.0 853.0L1211.0 854.2L1212.0 854.1L1213.0 854.4L1214.0 855.1L1215.0 855.6L1216.0 855.7L1217.0 856.8L1218.0 857.3L1219.0 857.5L1220.0 858.0L1221.0 858.5L1222.0 859.3L1223.0 860.0L1224.0 860.1L1225.0 859.9L1226.0 861.0L1227.0 861.6L1228.0 861.7L1229.0 862.7L1230.0 862.8L1231.0 863.6L1232.0 864.1L1233.0 864.6L1234.0 865.4L1235.0 865.6L1236.0 866.1L1237.0 866.6L1238.0 866.6L1239.0 867.5L1240.0 868.0L1241.0 867.8L1242.0 869.2L1243.0 869.0L1244.0 869.8L1245.0 870.4L1246.0 871.1L1247.0 871.6L1248.0 871.8L1249.0 872.8L1250.0 872.7L1251.0 873.4L1252.0 874.4L1253.0 874.1L1254.0 875.0L1255.0 875.8L1256.0 875.3L1257.0 876.6L1258.0 876.9L1259.0 877.3L1260.0 878.1L1261.0 878.7L1262.0 878.3L1263.0 879.2L1264.0 879.8L1265.0 880.4L1266.0 881.2L1267.0 881.6L1268.0 882.1L1269.0 881.7L1270.0 882.6L1271.0 883.7L1272.0 884.2L1273.0 884.5L1274.0 884.4L1275.0 885.5L1276.0 885.7L1277.0 886.3L1278.0 886.8L1279.0 887.5L1280.0 887.6L1281.0 888.3L1282.0 889.1L1283.0 889.0L1284.0 889.5L1285.0 890.2L1286.0 890.6L1287.0 890.4L1288.0 892.0L1289.0 891.7L1290.0 892.4L1291.0 892.3L1292.0 893.0L1293.0 894.4L1294.0 894.1L1295.0 894.6L1296.0 895.7L1297.0 895.4L1298.0 896.4L1299.0 896.8L1300.0 897.7L1301.0 897.7L1302.0 898.0L1303.0 898.4L1304.0 899.0L1305.0 899.0L1306.0 899.6L1307.0 900.1L1308.0 900.8L1309.0 901.8L1310.0 902.0L1311.0 903.0L1312.0 902.8L1313.0 903.2L1314.0 903.7L1315.0 904.6L1316.0 905.0L1317.0 905.0L1318.0 906.0L1319.0 906.2L1320.0 906.5L1321.0 907.8L1322.0 907.5L1323.0 908.4L1324.0 909.3L1325.0 909.5L1326.0 910.4L1327.0 910.2L1328.0 911.5L1329.0 910.9L1330.0 912.4L1331.0 912.3L1332.0 912.3L1333.0 913.1L1334.0 914.5L1335.0 914.7L1336.0 915.2L1337.0 915.8L1338.0 915.3L1339.0 916.2L1340.0 916.9L1341.0 917.4L1342.0 918.5L1343.0 919.1L1344.0 918.8L1345.0 920.3L1346.0 920.4L1347.0 920.7L1348.0 921.0L1349.0 922.0L1350.0 922.6L1351.0 923.1L1352.0 923.5L1353.0 924.9L1354.0 924.9L1355.0 925.2L1356.0 926.4L1357.0 926.3L1358.0 927.1L1359.0 927.3L1360.0 928.0L1361.0 929.5L1362.0 929.6L1363.0 930.1L1364.0 930.8L1365.0 931.4L1366.0 931.8L1367.0 932.2L1368.0 932.5L1369.0 932.9L1370.0 933.6L1371.0 934.5L1372.0 934.6L1373.0 936.0L1374.0 936.1L1375.0 936.6L1376.0 937.3L1377.0 938.0L1378.0 938.3L1379.0 939.6L1380.0 939.7L1381.0 939.8L1382.0 940.4L1383.0 942.0L1384.0 942.1L1385.0 942.4L1386.0 943.5L1387.0 943.2L1388.0 944.8L1389.0 945.4L1390.0 945.7L1391.0 945.5L1392.0 946.5L1393.0 947.6L1394.0 947.9L1395.0 948.0L1396.0 948.6L1397.0 949.0L1398.0 950.1L1399.0 950.2L1400.0 951.2L1401.0 951.7L1402.0 952.9L1403.0 953.5L1404.0 953.6L1405.0 954.6L1406.0 954.4L1407.0 956.0L1408.0 956.5L1409.0 956.6L1410.0 957.7L1411.0 957.6L1412.0 959.0L1413.0 958.8L1414.0 960.2L1415.0 960.7L1416.0 961.4L1417.0 961.7L1418.0 961.5L1419.0 962.4L1420.0 963.5L1421.0 964.4L1422.0 964.7L1423.0 964.5L1424.0 965.5L1425.0 966.1L1426.0 966.5L1427.0 967.2L1428.0 968.1L1429.0 968.5L1430.0 969.3L1431.0 969.6L1432.0 970.3L1433.0 971.5L1434.0 971.7L1435.0 972.4L1436.0 973.2L1437.0 972.7L1438.0 974.3L1439.0 973.9L1440.0 974.6L1441.0 975.8L1442.0 976.4L1443.0 976.8L1444.0 977.2L1445.0 978.1L1446.0 978.3L1447.0 978.6L1448.0 979.2L1449.0 979.6L1450.0 980.1L1451.0 981.7L1452.0 982.3L1453.0 982.2L1454.0 982.8L1455.0 983.2L1456.0 984.4L1457.0 984.6L1458.0 984.8L1459.0 986.2L1460.0 986.3L1461.0 987.7L1462.0 987.5L1463.0 988.8L1464.0 989.4L1465.0 990.7L1466.0 991.3L1467.0 992.0L1468.0 992.9L1469.0 994.1L1470.0 994.8L1471.0 995.7L1472.0 996.8L1473.0 997.4L1474.0 998.8L1475.0 999.0L1476.0 1000.3L1477.0 1001.3L1478.0 1001.8L1479.0 1002.6L1480.0 1003.7L1481.0 1004.5L1482.0 1004.7L1483.0 1005.8L1484.0 1006.4L1485.0 1007.1L1486.0 1008.7L1487.0 1009.2L1488.0 1009.9L1489.0 1010.5L1490.0 1011.4L1491.0 1013.0L1492.0 1013.5L1493.0 1014.4L1494.0 1015.6L1495.0 1016.2L1496.0 1017.4L1497.0 1017.8L1498.0 1017.9L1499.0 1019.5L1500.0 1019.2L1501.0 1020.3L1502.0 1021.1L1503.0 1021.3L1504.0 1022.7L1505.0 1023.1L1506.0 1023.9L1507.0 1023.8L1508.0 1025.4L1509.0 1025.4L1510.0 1026.4L1511.0 1027.3L1512.0 1027.4L1513.0 1028.0L1514.0 1028.8L1515.0 1030.2L1516.0 1030.5L1517.0 1031.0L1518.0 1031.8L1519.0 1032.5L1520.0 1032.7L1521.0 1033.2L1522.0 1033.9L1523.0 1035.2L1524.0 1035.8L1525.0 1036.4" stroke="#B177DE"/>
<path d="M152.3 325.0L153.0 310.0L154.0 300.4L155.0 290.0L156.0 286.2L157.0 285.8L158.0 284.6L159.0 283.8L160.0 283.1L161.0 282.4L162.0 282.6L163.0 283.0L164.0 283.0L165.0 283.2L166.0 280.9L167.0 277.8L168.0 275.4L169.0 274.9L170.0 273.5L171.0 273.0L172.0 273.5L173.0 273.5L174.0 273.2L175.0 273.4L176.0 273.7L177.0 273.6L178.0 273.3L179.0 273.9L180.0 274.3L181.0 273.7L182.0 274.5L183.0 274.2L184.0 274.8L185.0 275.4L186.0 275.2L187.0 275.3L188.0 276.6L189.0 276.6L190.0 277.2L191.0 276.9L192.0 276.7L193.0 277.0L194.0 277.8L195.0 277.8L196.0 277.9L197.0 279.1L198.0 279.1L199.0 279.0L200.0 280.0L201.0 280.2L202.0 280.6L203.0 281.9L204.0 282.5L205.0 282.6L206.0 283.4L207.0 283.8L208.2 286.6L209.5 289.0L210.5 284.2L211.5 279.3L212.5 273.6L213.4 274.4L214.2 276.1L215.1 277.8L216.0 279.0L217.0 279.6L218.0 280.7L219.0 280.9L220.0 282.7L221.0 283.0L222.0 283.8L223.0 284.4L224.0 286.2L225.0 286.9L226.0 287.8L227.0 289.3L228.0 290.4L229.0 290.2L230.1 290.6L231.1 291.7L232.2 291.7L233.2 291.2L234.2 292.4L235.3 291.7L236.3 292.6L237.3 292.9L238.3 294.2L239.4 294.4L240.4 294.5L241.4 295.2L242.4 295.7L243.4 296.0L244.4 297.6L245.5 297.0L246.5 298.0L247.5 298.6L248.5 299.4L249.5 299.5L250.5 300.7L251.5 300.3L252.5 301.6L253.5 302.0L254.5 302.3L255.5 303.0L256.5 303.0L257.5 303.9L258.5 304.4L259.5 304.5L260.5 305.0L261.5 305.8L262.5 306.0L263.4 306.3L264.4 306.3L265.3 307.4L266.2 307.2L267.2 307.9L268.1 308.6L269.1 308.2L270.0 309.0L270.9 310.3L271.9 312.3L272.9 314.8L273.8 316.6L274.8 316.3L275.7 316.1L276.7 316.2L277.7 316.7L278.7 315.7L279.6 315.8L280.6 315.8L281.6 316.9L282.6 317.3L283.6 317.6L284.6 318.5L285.6 319.2L286.6 319.5L287.6 320.4L288.6 321.0L289.6 322.3L290.6 322.4L291.6 323.5L292.6 324.0L293.6 325.1L294.6 325.5L295.6 325.4L296.6 326.2L297.6 326.3L298.6 326.9L299.6 327.5L300.6 328.4L301.6 329.1L302.6 328.8L303.6 329.0L304.6 330.0L305.6 330.1L306.6 330.5L307.6 331.6L308.7 332.6L309.7 332.4L310.8 333.7L311.8 333.9L312.9 335.3L313.9 335.8L315.0 336.0L316.0 335.8L317.1 336.3L318.1 337.6L319.1 337.5L320.1 337.6L321.2 338.4L322.2 338.8L323.2 338.8L324.2 339.1L325.3 339.0L326.3 339.8L327.3 340.4L328.2 340.9L329.2 342.2L330.2 342.9L331.1 343.1L332.1 344.5L333.1 344.6L334.1 345.3L335.0 346.7L336.0 347.3L337.0 347.8L338.0 348.9L339.0 349.1L340.0 349.5L341.0 349.2L342.0 348.1L343.0 348.4L344.0 347.0L345.0 347.1L346.0 347.0L347.0 346.5L348.0 346.0L349.0 345.0L350.1 346.8L351.2 349.0L352.4 351.0L353.5 352.5L354.5 353.6L355.5 356.0L356.5 357.5L357.5 358.4L358.5 360.0L359.0 372.0L360.0 373.2L361.0 373.6L362.0 374.2L363.0 375.5L364.0 375.6L365.0 377.3L366.0 378.3L367.0 378.3L368.0 379.9L369.0 379.7L370.0 381.0L371.0 382.2L372.0 382.3L373.0 384.0L374.0 384.1L375.0 385.5L376.0 385.2L377.0 386.1L378.0 387.8L379.0 388.4L380.0 389.0L381.0 389.2L382.0 390.2L383.0 391.2L384.0 391.7L385.0 393.0L386.0 394.7L387.0 395.6L388.0 397.0L389.0 397.8L390.0 398.5L391.0 399.3L392.0 401.3L393.0 401.7L394.0 403.3L395.0 404.4L396.0 405.1L397.0 405.9L398.0 406.2L399.0 407.0L400.0 408.3L401.0 408.5L402.0 409.8L403.0 410.2L404.0 411.1L405.0 411.7L406.0 413.0L407.0 413.5L408.0 414.1L409.0 414.9L410.0 416.0L411.0 416.7L412.0 417.7L413.0 417.7L414.0 418.0L415.0 418.8L416.0 419.3L417.0 420.3L418.0 421.1L419.0 421.5L420.0 421.6L421.0 422.4L422.0 423.1L423.0 423.7L424.0 424.3L425.0 425.0L425.5 426.5L426.0 428.9L426.5 430.5L427.0 427.8L427.5 420.0L428.0 423.4L428.5 416.9L429.0 419.0L429.5 418.8L430.0 417.2L430.5 430.3L431.0 426.2L431.5 422.4L432.0 429.2L432.5 420.3L433.0 419.3L433.5 433.3L434.0 432.2L434.5 428.9L435.0 428.5L435.5 424.5L436.0 431.5L436.5 431.0L437.0 427.0L437.5 430.5L438.0 434.6L438.5 429.3L439.0 419.4L439.5 418.1L440.0 426.0L440.5 419.7L441.0 419.3L441.5 435.3L442.0 433.2L442.5 421.3L443.0 420.5L443.5 433.8L444.0 430.2L444.5 423.1L445.0 424.5L445.5 429.0L446.0 432.0L446.5 431.0L447.0 425.1L447.5 427.2L448.0 437.6L448.5 440.5L449.0 433.8L449.5 434.7L450.0 440.1L450.5 437.7L451.0 434.7L451.5 442.4L452.0 442.3L452.5 442.5L453.0 432.0L453.5 434.2L454.0 435.3L454.5 433.7L455.0 439.6L455.5 446.0L456.0 436.3L456.5 445.7L457.0 440.3L457.5 440.9L458.0 440.5L458.5 449.0L459.0 443.2L459.5 444.6L460.0 442.0L460.5 435.5L461.0 435.9L461.5 447.4L462.0 443.7L462.5 447.2L463.0 438.3L463.5 448.9L464.0 443.0L464.5 450.0L465.0 442.0L465.5 449.3L466.0 452.5L466.5 441.8L467.0 448.4L467.5 451.1L468.0 458.3L468.5 457.6L469.0 442.3L469.5 444.0L470.0 452.0L471.0 453.9L472.0 454.6L473.0 455.5L474.0 457.0L475.0 458.9L476.0 459.8L477.0 461.5L478.0 462.2L479.0 464.4L480.0 465.3L481.0 465.7L482.0 466.8L483.0 466.5L484.0 467.7L485.0 468.0L486.0 468.5L487.0 468.6L488.0 469.7L489.0 470.7L490.0 470.3L491.0 471.3L492.0 471.3L493.0 473.0L494.0 473.6L495.0 473.8L496.0 474.1L497.0 474.1L498.0 474.7L499.0 476.0L500.0 476.7L501.0 477.4L502.0 477.8L503.0 477.9L504.0 478.2L505.0 479.1L506.0 479.4L507.0 480.2L508.0 481.2L509.0 481.2L510.0 481.8L511.0 483.4L512.0 484.0L513.0 484.2L514.0 486.0L515.0 486.9L516.0 487.8L517.0 488.0L518.0 490.0L519.0 490.5L520.0 491.6L521.0 492.5L522.0 492.7L523.0 493.2L524.0 493.8L525.0 494.6L526.0 495.4L527.0 495.8L528.0 496.3L529.0 497.7L530.0 498.3L531.0 499.1L532.0 499.0L533.0 500.2L534.0 500.6L535.0 500.7L536.0 502.2L537.0 502.2L538.0 503.0L539.0 504.7L540.0 506.8L541.0 509.8L542.0 511.4L543.0 511.4L543.9 512.0L544.9 512.6L545.9 512.8L546.8 513.5L547.8 513.2L548.7 514.0L549.7 514.6L550.7 515.0L551.6 515.3L552.6 515.6L553.7 515.9L554.7 516.9L555.8 517.9L556.8 517.9L557.9 518.7L558.9 519.5L560.0 519.7L561.0 519.9L562.0 520.4L563.0 521.8L564.0 521.4L565.0 522.1L566.0 522.5L567.0 523.8L568.0 523.7L569.0 524.6L570.0 524.3L571.0 524.9L572.0 525.8L573.0 525.9L574.0 526.8L575.0 527.2L576.0 527.1L577.0 527.7L578.0 528.6L579.0 529.2L580.0 529.2L581.0 529.8L582.0 530.0L583.0 530.8L584.0 531.4L585.0 532.0L586.0 532.7L587.0 533.5L588.0 533.9L589.0 534.4L590.0 534.6L591.0 534.9L592.0 535.8L593.0 536.6L594.0 537.4L595.0 537.2L596.0 537.6L597.0 538.2L598.0 539.3L599.0 540.4L600.0 540.1L601.0 541.4L602.0 541.8L603.0 542.7L604.0 543.3L605.0 543.0L606.0 544.4L607.0 544.2L608.0 544.8L609.0 545.7L610.0 546.4L611.0 546.5L612.0 547.3L613.0 547.8L614.0 548.3L615.0 548.9L616.0 549.4L617.0 550.2L618.0 550.9L619.0 551.6L620.0 552.3L621.0 553.2L622.0 553.7L623.0 554.2L624.0 554.7L625.0 555.7L626.0 555.8L627.0 556.4L628.0 557.0L629.0 558.3L630.0 558.3L631.0 559.1L632.0 559.9L633.0 560.8L634.0 561.5L635.0 562.1L636.0 562.7L637.0 562.9L638.0 564.4L639.0 564.8L640.0 565.2L641.0 565.6L642.0 566.0L643.0 566.8L644.0 566.7L645.0 567.8L646.0 568.6L647.0 568.4L648.0 569.1L649.0 569.3L650.0 570.6L651.0 570.4L652.0 570.9L653.0 571.8L654.0 571.9L655.0 573.0L656.0 572.9L657.0 573.6L658.0 573.7L659.0 574.6L660.0 574.9L661.0 574.9L662.0 576.4L663.0 576.0L664.0 577.0L665.0 577.6L666.0 577.8L667.0 578.1L668.0 578.8L669.0 579.9L670.0 579.8L671.0 579.8L672.0 581.3L673.0 581.5L674.0 581.9L675.0 582.7L676.0 583.2L677.0 584.0L678.0 584.7L679.0 584.7L680.0 585.0L681.0 585.6L682.0 586.8L683.0 586.8L684.0 586.8L685.0 588.0L686.0 588.0L687.0 588.8L688.0 589.7L689.0 590.2L690.0 590.6L691.0 591.5L692.0 591.8L693.0 592.8L694.0 593.1L695.0 593.0L696.0 594.2L697.0 594.2L698.0 595.5L699.0 595.6L700.0 596.0L701.0 596.5L702.0 596.8L703.0 598.2L704.0 598.2L705.0 598.4L706.0 600.0L707.0 599.6L708.0 600.3L709.0 600.8L710.0 602.2L711.0 602.7L712.0 603.2L713.0 604.3L714.0 604.4L715.0 604.6L716.0 606.2L717.0 605.7L718.0 606.3L719.0 607.1L720.0 608.0L721.0 609.0L722.0 608.7L723.0 609.1L724.0 609.5L725.0 610.0L726.0 610.8L727.0 611.1L728.0 611.1L729.0 611.4L730.0 612.6L731.0 612.7L732.0 613.1L733.0 613.1L734.0 614.5L735.0 614.4L736.0 615.3L737.0 615.4L738.0 615.8L739.0 615.5L740.0 617.0L741.0 617.3L742.0 616.8L743.0 617.2L744.0 618.4L745.0 618.8L746.0 618.6L747.0 620.0L748.0 619.4L749.0 620.4L750.0 620.7L751.0 621.2L752.0 621.6L753.0 622.5L754.0 622.8L755.0 623.8L756.0 624.3L757.0 623.9L758.0 624.9L759.0 625.7L760.0 625.9L761.0 626.8L762.0 626.7L763.0 627.3L764.0 628.4L765.0 628.6L766.0 629.1L767.0 629.9L768.0 630.7L769.0 631.3L770.0 631.8L771.0 632.2L772.0 632.6L773.0 633.7L774.0 634.3L775.0 634.8L776.0 635.4L777.0 635.7L778.0 635.6L779.0 636.8L780.0 637.1L781.0 637.3L782.0 637.7L783.0 638.3L784.0 638.3L785.0 639.2L786.0 639.3L787.0 639.8L788.0 640.5L789.0 641.3L790.0 641.6L791.0 641.6L792.0 642.5L793.0 642.6L794.0 642.9L795.0 643.4L796.0 643.7L797.0 644.0L798.0 645.4L799.0 645.4L800.0 645.9L801.0 646.3L802.0 646.6L803.0 647.1L804.0 646.8L805.0 647.3L806.0 648.3L807.0 648.7L808.0 648.6L809.0 649.2L810.0 650.0L811.0 650.2L812.0 651.5L813.0 651.7L814.0 651.2L815.0 652.1L816.0 652.5L817.0 652.7L818.0 653.3L819.0 654.6L820.0 655.0L821.0 654.6L822.0 655.7L823.0 655.4L824.0 656.4L825.0 656.2L826.0 657.3L827.0 657.7L828.0 658.6L829.0 658.6L830.0 659.4L831.0 659.1L832.0 660.0L833.0 659.9L834.0 660.2L835.0 661.7L836.0 661.0L837.0 661.9L838.0 662.3L839.0 662.6L840.0 663.4L841.0 664.3L842.0 664.7L843.0 664.7L844.0 665.4L845.0 666.2L846.0 665.8L847.0 666.9L848.0 667.7L849.0 667.8L850.0 668.2L851.0 668.4L852.0 668.8L853.0 669.3L854.0 669.9L855.0 670.3L856.0 671.4L857.0 671.2L858.0 671.6L859.0 672.9L860.0 673.0L861.0 673.4L862.0 673.5L863.0 674.9L864.0 674.4L865.0 675.3L866.0 675.9L867.0 676.5L868.0 676.7L869.0 678.0L870.0 678.1L871.0 678.3L872.0 679.2L873.0 679.4L874.0 680.1L875.0 680.6L876.0 680.7L877.0 681.9L878.0 681.5L879.0 683.0L880.0 681.0L881.0 683.6L882.0 682.2L883.0 684.7L884.0 683.9L885.0 681.8L886.0 686.9L887.0 684.8L888.0 687.7L889.0 686.1L890.0 688.0L891.0 688.2L892.0 687.4L893.0 688.6L894.0 689.4L895.0 689.3L896.0 692.3L897.0 691.0L898.0 691.1L899.0 690.3L900.0 694.5L901.0 692.6L902.0 692.2L903.0 689.7L904.0 695.9L905.0 691.8L906.0 695.8L907.0 694.7L908.0 698.3L909.0 699.5L910.0 696.7L911.0 700.0L912.0 700.1L913.0 700.2L914.0 699.2L915.0 698.9L916.0 699.2L917.0 700.4L918.0 701.4L919.0 700.6L920.0 703.2L921.0 703.3L922.0 703.7L923.0 700.6L924.0 704.6L925.0 704.2L926.0 703.1L927.0 701.7L928.0 704.0L929.0 708.1L930.0 706.3L931.0 708.3L932.0 708.2L933.0 709.2L934.0 706.8L935.0 707.8L936.0 710.0L937.0 709.1L938.0 709.6L939.0 710.6L940.0 708.8L941.0 709.2L942.0 708.4L943.0 711.5L944.0 712.8L945.0 714.3L946.0 714.4L947.0 712.7L948.0 715.1L949.0 716.1L950.0 715.0L951.0 717.2L952.0 716.0L953.0 714.0L954.0 715.4L955.0 716.3L956.0 717.6L957.0 714.7L958.0 719.6L959.0 720.0L960.0 721.8L961.0 720.0L962.0 722.4L963.0 721.3L964.0 722.8L965.0 722.0L966.0 721.3L967.0 722.6L968.0 724.7L969.0 724.1L970.0 725.2L971.0 725.0L972.0 725.7L973.0 727.7L974.0 726.5L975.0 727.1L976.0 727.6L977.0 726.8L978.0 727.6L979.0 730.1L980.0 730.0L981.0 730.7L982.0 732.4L983.0 729.8L984.0 732.2L985.0 730.0L986.0 732.4L987.0 733.3L988.0 735.5L989.0 732.2L990.0 734.2L991.0 734.6L992.0 735.9L993.0 737.0L994.0 738.7L995.0 736.8L996.0 739.7L997.0 736.1L998.0 739.1L999.0 740.2L1000.0 738.9L1001.0 742.0L1002.0 741.9L1003.0 740.4L1004.0 741.9L1005.0 742.6L1006.0 742.1L1007.0 742.8L1008.0 742.8L1009.0 743.1L1010.0 742.9L1011.0 745.7L1012.0 743.4L1013.0 745.4L1014.0 746.3L1015.0 749.5L1016.0 749.8L1017.0 747.7L1018.0 750.3L1019.0 747.8L1020.0 748.5L1021.0 749.1L1022.0 749.9L1023.0 751.5L1024.0 751.9L1025.0 753.2L1026.0 754.8L1027.0 754.0L1028.0 754.2L1029.0 755.4L1030.0 756.4L1031.0 751.4L1032.0 754.3L1033.0 757.4L1034.0 756.2L1035.0 758.8L1036.0 757.1L1037.0 755.8L1038.0 758.2L1039.0 758.5L1040.0 760.2L1041.0 760.0L1042.0 758.2L1043.0 759.6L1044.0 761.4L1045.0 760.6L1046.0 761.6L1047.0 761.7L1048.0 764.1L1049.0 760.6L1050.0 763.7L1051.0 763.6L1052.0 763.7L1053.0 764.6L1054.0 764.4L1055.0 765.5L1056.0 765.4L1057.0 765.6L1058.0 765.9L1059.0 766.6L1060.0 766.5L1061.0 766.8L1062.0 767.8L1063.0 767.8L1064.0 767.6L1065.0 768.7L1066.0 768.6L1067.0 768.7L1068.0 769.0L1069.0 770.0L1070.0 770.0L1071.0 770.1L1072.0 771.1L1073.0 771.0L1074.0 771.7L1075.0 772.4L1076.0 772.5L1077.0 772.7L1078.0 773.6L1079.0 774.4L1080.0 774.1L1081.0 775.1L1082.0 775.4L1083.0 776.3L1084.0 776.0L1085.0 776.5L1086.0 776.9L1087.0 778.3L1088.0 778.6L1089.0 779.2L1090.0 779.5L1091.0 780.4L1092.0 780.0L1093.0 780.1L1094.0 781.4L1095.0 781.3L1096.0 781.7L1097.0 782.1L1098.0 783.3L1099.0 784.0L1100.0 784.0L1101.0 784.0L1102.0 784.6L1103.0 785.7L1104.0 785.9L1105.0 786.6L1106.0 786.1L1107.0 787.0L1108.0 786.6L1109.0 787.5L1110.0 787.9L1111.0 788.1L1112.0 788.6L1113.0 788.6L1114.0 790.0L1115.0 789.5L1116.0 790.3L1117.0 790.4L1118.0 791.2L1119.0 791.4L1120.0 792.4L1121.0 792.6L1122.0 793.3L1123.0 793.3L1124.0 793.0L1125.0 794.4L1126.0 794.1L1127.0 795.2L1128.0 795.4L1129.0 795.3L1130.0 796.5L1131.0 796.6L1132.0 796.8L1133.0 796.9L1134.0 797.2L1135.0 797.5L1136.0 797.8L1137.0 798.5L1138.0 798.9L1139.0 800.1L1140.0 799.8L1141.0 801.0L1142.0 800.8L1143.0 800.8L1144.0 801.1L1145.0 802.6L1146.0 802.0L1147.0 802.9L1148.0 803.4L1149.0 803.4L1150.0 803.6L1151.0 804.4L1152.0 804.8L1153.0 805.1L1154.0 805.2L1155.0 805.6L1156.0 806.3L1157.0 806.5L1158.0 807.5L1159.0 807.7L1160.0 808.0L1161.0 808.2L1162.0 808.7L1163.0 809.3L1164.0 809.8L1165.0 810.3L1166.0 810.1L1167.0 810.3L1168.0 810.5L1169.0 811.1L1170.0 811.2L1171.0 812.4L1172.0 812.3L1173.0 812.5L1174.0 813.1L1175.0 813.5L1176.0 813.2L1177.0 814.1L1178.0 814.5L1179.0 814.3L1180.0 814.9L1181.0 815.4L1182.0 815.0L1183.0 816.2L1184.0 816.1L1185.0 816.4L1186.0 817.3L1187.0 816.9L1188.0 817.0L1189.0 818.0L1190.0 818.3L1191.0 818.5L1192.0 819.8L1193.0 819.5L1194.0 820.7L1195.0 820.7L1196.0 821.7L1197.0 822.1L1198.0 822.7L1199.0 823.1L1200.0 823.8L1201.0 824.3L1202.0 824.5L1203.0 825.3L1204.0 825.0L1205.0 825.3L1206.0 826.7L1207.0 826.8L1208.0 827.5L1209.0 827.2L1210.0 827.9L1211.0 829.1L1212.0 828.9L1213.0 830.2L1214.0 830.8L1215.0 831.1L1216.0 830.8L1217.0 832.0L1218.0 832.8L1219.0 832.3L1220.0 833.3L1221.0 833.7L1222.0 833.8L1223.0 835.2L1224.0 834.8L1225.0 836.1L1226.0 836.5L1227.0 837.1L1228.0 837.7L1229.0 838.1L1230.0 837.7L1231.0 839.0L1232.0 838.9L1233.0 840.2L1234.0 839.9L1235.0 840.3L1236.0 841.1L1237.0 841.4L1238.0 842.2L1239.0 842.4L1240.0 842.9L1241.0 843.6L1242.0 844.6L1243.0 844.4L1244.0 845.3L1245.0 845.7L1246.0 845.7L1247.0 846.0L1248.0 846.9L1249.0 847.3L1250.0 847.6L1251.0 848.3L1252.0 848.7L1253.0 849.2L1254.0 849.8L1255.0 850.8L1256.0 851.0L1257.0 851.7L1258.0 852.0L1259.0 852.2L1260.0 852.4L1261.0 853.4L1262.0 853.9L1263.0 853.6L1264.0 854.2L1265.0 855.7L1266.0 855.3L1267.0 855.5L1268.0 857.0L1269.0 857.6L1270.0 857.8L1271.0 858.4L1272.0 858.3L1273.0 858.8L1274.0 859.6L1275.0 859.5L1276.0 860.2L1277.0 861.1L1278.0 861.3L1279.0 862.1L1280.0 862.4L1281.0 863.4L1282.0 863.8L1283.0 864.2L1284.0 863.9L1285.0 864.6L1286.0 864.8L1287.0 865.0L1288.0 865.2L1289.0 866.1L1290.0 867.0L1291.0 866.9L1292.0 867.5L1293.0 867.5L1294.0 868.1L1295.0 869.3L1296.0 869.6L1297.0 870.2L1298.0 870.1L1299.0 870.2L1300.0 871.0L1301.0 871.0L1302.0 871.5L1303.0 872.0L1304.0 872.9L1305.0 873.3L1306.0 873.2L1307.0 874.3L1308.0 874.8L1309.0 874.4L1310.0 875.2L1311.0 875.2L1312.0 876.2L1313.0 876.3L1314.0 877.7L1315.0 877.2L1316.0 878.3L1317.0 878.1L1318.0 879.2L1319.0 879.3L1320.0 879.7L1321.0 880.4L1322.0 880.7L1323.0 881.7L1324.0 882.4L1325.0 882.1L1326.0 882.7L1327.0 883.3L1328.0 884.3L1329.0 883.8L1330.0 884.5L1331.0 884.9L1332.0 886.2L1333.0 886.0L1334.0 887.1L1335.0 887.6L1336.0 888.1L1337.0 888.1L1338.0 888.5L1339.0 888.9L1340.0 889.6L1341.0 890.1L1342.0 891.1L1343.0 890.9L1344.0 892.2L1345.0 892.6L1346.0 892.3L1347.0 893.0L1348.0 894.0L1349.0 893.9L1350.0 894.3L1351.0 895.2L1352.0 895.8L1353.0 896.2L1354.0 897.0L1355.0 897.7L1356.0 898.5L1357.0 898.7L1358.0 899.4L1359.0 899.0L1360.0 900.3L1361.0 900.6L1362.0 900.8L1363.0 901.1L1364.0 902.7L1365.0 902.3L1366.0 902.8L1367.0 903.4L1368.0 903.9L1369.0 904.9L1370.0 905.3L1371.0 905.5L1372.0 906.3L1373.0 907.3L1374.0 907.4L1375.0 908.5L1376.0 908.7L1377.0 908.7L1378.0 909.5L1379.0 909.7L1380.0 910.1L1381.0 910.6L1382.0 911.9L1383.0 911.8L1384.0 913.1L1385.0 912.6L1386.0 913.9L1387.0 914.0L1388.0 914.3L1389.0 915.4L1390.0 916.0L1391.0 916.1L1392.0 916.6L1393.0 916.9L1394.0 918.0L1395.0 918.3L1396.0 919.4L1397.0 919.7L1398.0 920.1L1399.0 920.9L1400.0 921.0L1401.0 922.1L1402.0 922.1L1403.0 922.7L1404.0 922.8L1405.0 923.8L1406.0 924.2L1407.0 924.4L1408.0 926.1L1409.0 925.5L1410.0 926.3L1411.0 926.9L1412.0 928.2L1413.0 928.1L1414.0 929.5L1415.0 929.7L1416.0 930.0L1417.0 930.5L1418.0 931.2L1419.0 932.1L1420.0 932.6L1421.0 932.5L1422.0 933.4L1423.0 933.5L1424.0 934.1L1425.0 935.3L1426.0 935.4L1427.0 936.0L1428.0 937.4L1429.0 936.9L1430.0 938.0L1431.0 938.4L1432.0 939.0L1433.0 939.9L1434.0 940.7L1435.0 940.8L1436.0 941.4L1437.0 942.6L1438.0 942.9L1439.0 943.5L1440.0 944.6L1441.0 944.3L1442.0 945.2L1443.0 945.9L1444.0 946.2L1445.0 946.5L1446.0 947.4L1447.0 948.1L1448.0 949.1L1449.0 950.0L1450.0 949.9L1451.0 950.5L1452.0 951.3L1453.0 952.3L1454.0 952.8L1455.0 952.6L1456.0 954.0L1457.0 954.3L1458.0 954.4L1459.0 955.2L1460.0 956.1L1461.0 956.3L1462.0 957.4L1463.0 958.3L1464.0 959.5L1465.0 959.7L1466.0 961.0L1467.0 961.7L1468.0 962.9L1469.0 963.3L1470.0 963.8L1471.0 964.9L1472.0 965.7L1473.0 965.8L1474.0 967.1L1475.0 968.2L1476.0 968.2L1477.0 969.1L1478.0 969.9L1479.0 971.5L1480.0 971.4L1481.0 972.5L1482.0 974.0L1483.0 974.8L1484.0 975.2L1485.0 975.9L1486.0 976.3L1487.0 977.6L1488.0 977.7L1489.0 979.5L1490.0 980.0L1491.0 980.8L1492.0 982.0L1493.0 982.3L1494.0 983.3L1495.0 983.8L1496.0 984.2L1497.0 985.3L1498.0 986.0L1499.0 986.9L1500.0 987.7L1501.0 987.5L1502.0 988.0L1503.0 989.3L1504.0 990.1L1505.0 989.9L1506.0 990.9L1507.0 992.0L1508.0 993.0L1509.0 992.8L1510.0 993.5L1511.0 994.2L1512.0 994.9L1513.0 995.9L1514.0 996.9L1515.0 997.0L1516.0 997.6L1517.0 998.3L1518.0 999.0L1519.0 999.3L1520.0 1000.1L1521.0 1000.9L1522.0 1002.1L1523.0 1002.2L1524.0 1003.7L1525.0 1003.8" stroke="#CC9900"/>
<path d="M152.0 296.0L152.5 280.0L153.2 274.8L154.0 270.0L155.0 268.1L156.0 267.0L157.0 266.4L158.0 264.9L159.0 264.6L160.0 263.6L161.0 262.5L162.0 262.2L163.0 261.5L164.0 260.2L165.0 260.0L166.0 258.9L167.0 258.2L168.0 258.0L169.0 257.9L170.0 258.4L171.0 257.5L172.0 257.7L173.0 258.2L174.0 258.5L175.0 258.1L176.0 257.9L177.0 258.6L178.0 257.5L179.0 258.4L180.0 258.0L181.0 258.1L182.0 258.3L183.0 258.6L184.0 259.2L185.0 260.1L186.0 259.7L187.0 260.5L188.0 261.0L189.0 261.0L190.0 261.6L191.0 261.3L192.0 262.2L193.0 262.1L194.0 262.6L195.0 263.6L196.0 263.7L197.0 264.0L198.0 264.7L199.0 264.9L200.0 265.2L201.0 266.2L202.0 266.4L203.0 266.3L204.0 267.0L205.0 268.0L206.0 269.0L207.0 270.3L208.0 271.1L209.0 271.8L210.0 265.9L211.0 261.2L212.0 255.0L213.0 256.0L214.0 257.9L215.0 259.8L216.0 261.0L217.0 261.4L218.0 262.6L219.0 262.8L220.0 264.4L221.0 265.3L222.0 265.8L223.0 266.8L224.0 268.0L225.0 268.2L226.0 269.5L227.0 270.2L228.0 271.0L229.0 271.4L230.1 271.6L231.1 272.5L232.2 272.9L233.2 272.7L234.2 273.3L235.3 272.9L236.3 273.8L237.3 274.5L238.3 274.9L239.4 275.8L240.4 276.1L241.4 275.9L242.4 276.5L243.4 277.3L244.4 277.0L245.5 278.0L246.5 278.1L247.5 279.0L248.5 278.9L249.5 279.3L250.5 280.5L251.5 280.2L252.5 280.7L253.5 281.3L254.5 282.2L255.5 281.7L256.5 282.5L257.5 283.1L258.5 283.9L259.5 284.2L260.5 284.6L261.5 284.3L262.5 285.0L263.5 285.2L264.5 285.5L265.5 286.5L266.5 286.9L267.5 286.2L268.5 286.6L269.5 287.0L270.5 287.3L271.5 288.0L272.6 289.5L273.8 291.1L274.9 292.2L276.0 294.0L277.0 293.6L278.0 294.3L279.0 294.4L280.0 294.8L281.0 295.4L282.0 295.3L283.0 295.3L284.0 295.6L285.0 295.6L286.0 296.4L287.0 296.2L288.0 297.7L289.0 298.1L290.0 298.8L291.0 299.2L292.0 299.3L293.0 299.9L294.0 300.0L295.0 301.2L296.0 301.1L297.0 301.6L298.0 302.4L299.0 302.8L300.0 303.8L301.0 304.1L302.0 304.2L303.0 304.6L304.0 305.3L305.0 305.7L306.0 306.5L307.0 306.6L308.0 308.1L309.0 308.3L310.0 308.2L311.0 308.8L312.0 309.4L313.0 309.9L314.0 310.1L315.0 311.0L316.0 311.9L317.0 312.5L318.0 312.4L319.0 312.8L320.0 312.8L321.0 313.3L322.0 314.1L323.0 314.5L324.0 315.6L325.0 315.3L326.0 315.6L327.0 317.1L328.0 317.1L329.0 317.1L330.0 318.0L330.9 318.6L331.9 318.6L332.8 319.8L333.8 320.9L334.7 321.3L335.6 321.7L336.6 321.7L337.5 322.6L338.6 321.8L339.6 321.0L340.6 321.1L341.7 320.2L342.8 319.9L343.8 318.7L344.9 318.0L345.9 318.1L346.9 317.7L348.0 316.5L349.1 320.7L350.3 324.0L351.3 325.8L352.2 327.2L353.2 328.5L354.1 329.3L355.1 331.0L356.0 332.2L357.0 333.8L358.0 328.5L359.0 323.7L360.0 319.5L361.0 320.6L362.0 321.9L363.0 323.8L364.0 325.4L365.0 326.2L366.0 328.1L367.0 329.5L368.0 330.8L369.0 331.5L370.0 333.0L371.0 333.5L372.0 334.3L373.0 335.0L374.0 335.8L375.0 337.1L376.0 338.3L377.0 339.0L378.0 339.4L379.0 340.4L380.0 341.4L381.0 341.3L382.0 342.8L383.0 343.9L384.0 344.5L385.0 345.0L386.0 346.2L387.0 346.8L388.0 347.4L389.0 349.0L390.0 349.4L391.0 350.9L392.0 352.0L393.0 352.2L394.0 353.2L395.0 354.2L396.0 355.7L397.0 356.3L398.0 356.6L399.0 357.4L400.0 358.4L401.0 360.2L402.0 361.0L403.0 361.1L404.0 362.9L405.0 364.0L406.0 364.5L407.0 365.1L408.0 366.2L409.0 366.6L410.0 368.0L411.0 368.1L412.0 370.0L413.0 370.4L414.0 370.9L415.0 372.2L416.0 372.3L417.0 373.5L418.0 374.2L419.0 374.2L420.0 375.0L421.0 375.7L422.0 376.4L423.0 377.6L424.0 377.9L425.0 378.9L425.5 378.9L426.0 378.6L426.5 379.6L427.0 379.0L427.5 379.2L428.0 387.5L428.5 387.6L429.0 380.1L429.5 369.9L430.0 373.2L430.5 385.1L431.0 378.8L431.5 381.2L432.0 380.0L432.5 385.7L433.0 380.8L433.5 375.3L434.0 380.6L434.5 385.5L435.0 379.7L435.5 380.6L436.0 384.3L436.5 381.1L437.0 389.4L437.5 388.4L438.0 376.4L438.5 389.7L439.0 374.0L439.5 379.3L440.0 381.0L440.5 375.8L441.0 384.9L441.5 390.8L442.0 386.9L442.5 376.6L443.0 393.8L443.5 393.2L444.0 384.6L444.5 392.7L445.0 384.2L445.5 383.3L446.0 383.0L446.5 378.2L447.0 386.9L447.5 384.6L448.0 389.4L448.5 398.7L449.0 399.8L449.5 385.3L450.0 396.0L450.5 383.8L451.0 400.1L451.5 388.1L452.0 401.0L452.5 397.6L453.0 384.7L453.5 393.2L454.0 403.3L454.5 401.7L455.0 402.6L455.5 403.2L456.0 393.7L456.5 406.1L457.0 390.3L457.5 393.3L458.0 391.8L458.5 393.0L459.0 395.9L459.5 396.6L460.0 401.0L460.5 394.9L461.0 391.9L461.5 392.1L462.0 403.7L462.5 401.9L463.0 395.7L463.5 402.5L464.0 410.5L464.5 404.2L465.0 414.4L465.5 411.3L466.0 408.2L466.5 402.4L467.0 398.0L467.5 410.6L468.0 399.6L468.5 406.5L469.0 407.7L469.5 408.1L470.0 408.0L471.0 409.8L472.0 410.9L473.0 412.5L474.0 414.2L475.0 416.0L476.0 417.2L477.0 419.1L478.0 420.5L479.0 423.0L480.0 424.0L481.0 425.3L482.0 425.5L483.0 425.8L484.0 427.4L485.0 427.3L486.0 428.1L487.0 428.4L488.0 429.6L489.0 430.4L490.0 431.1L491.0 431.5L492.0 432.6L493.0 432.7L494.0 433.7L495.0 434.2L496.0 435.3L497.0 435.6L498.0 436.3L499.0 437.3L500.0 437.9L501.0 439.1L502.0 439.7L503.0 440.7L504.0 441.3L505.0 442.1L506.0 443.0L507.0 443.1L508.0 443.8L509.0 445.3L510.0 445.4L511.0 445.7L512.0 447.2L513.0 447.8L514.0 447.9L515.0 449.6L516.0 450.4L517.0 450.8L518.0 451.7L519.0 452.6L520.0 452.5L521.0 453.7L522.0 454.4L523.0 455.6L524.0 456.3L525.0 457.1L526.0 457.6L527.0 458.7L528.0 459.2L529.0 459.9L530.0 460.1L531.0 460.7L532.0 461.5L533.0 462.6L534.0 463.0L535.0 464.6L536.0 465.1L537.0 465.9L538.0 466.6L539.0 467.5L540.0 468.0L541.0 468.7L542.0 468.7L543.0 470.4L544.0 471.0L545.0 471.4L546.0 472.1L547.0 472.9L548.0 472.8L549.0 474.3L550.0 474.4L551.0 474.9L552.0 475.8L553.0 477.0L554.0 477.0L555.0 478.3L556.0 479.3L557.0 479.4L558.0 479.9L559.0 480.7L560.0 481.4L561.0 482.2L562.0 483.0L563.0 483.4L564.0 484.0L565.0 484.0L566.0 484.7L567.0 485.4L568.0 486.6L569.0 486.7L570.0 487.6L571.0 487.6L572.0 488.3L573.0 489.1L574.0 490.2L575.0 490.9L576.0 491.5L577.0 491.6L578.0 492.5L579.0 493.1L580.0 493.7L581.0 493.9L582.0 495.4L583.0 495.2L584.0 496.8L585.0 497.3L586.0 496.9L587.0 498.0L588.0 499.1L589.0 499.8L590.0 499.9L591.0 500.5L592.0 501.0L593.0 501.6L594.0 503.2L595.0 503.0L596.0 504.1L597.0 504.3L598.0 505.4L599.0 506.6L600.0 506.3L601.0 507.8L602.0 508.2L603.0 509.3L604.0 509.8L605.0 509.9L606.0 511.4L607.0 511.6L608.0 511.7L609.0 512.4L610.0 513.6L611.0 514.3L612.0 514.8L613.0 515.3L614.0 516.2L615.0 516.8L616.0 518.2L617.0 517.8L618.0 519.4L619.0 520.2L620.0 520.5L621.0 520.7L622.0 522.4L623.0 522.8L624.0 523.8L625.0 523.7L626.0 524.5L627.0 525.2L628.0 526.7L629.0 526.9L630.0 527.3L631.0 528.1L632.0 528.6L633.0 529.0L634.0 529.8L635.0 531.3L636.0 531.4L637.0 532.8L638.0 532.7L639.0 533.4L640.0 534.4L641.0 535.0L642.0 535.2L643.0 536.0L644.0 537.3L645.0 537.8L646.0 538.3L647.0 538.6L648.0 539.5L649.0 540.1L650.0 540.3L651.0 541.0L652.0 540.8L653.0 542.2L654.0 542.5L655.0 543.4L656.0 543.9L657.0 544.0L658.0 544.3L659.0 545.9L660.0 545.6L661.0 546.5L662.0 547.0L663.0 547.5L664.0 548.6L665.0 549.5L666.0 549.2L667.0 550.2L668.0 550.4L669.0 551.3L670.0 551.8L671.0 552.3L672.0 552.6L673.0 553.2L674.0 553.9L675.0 555.4L676.0 555.5L677.0 555.8L678.0 557.2L679.0 557.9L680.0 557.9L681.0 558.2L682.0 558.8L683.0 559.3L684.0 560.2L685.0 560.6L686.0 561.4L687.0 562.0L688.0 563.0L689.0 564.0L690.0 564.4L691.0 564.6L692.0 565.3L693.0 566.0L694.0 566.5L695.0 567.0L696.0 567.3L697.0 568.2L698.0 569.6L699.0 569.2L700.0 570.3L701.0 570.9L702.0 571.6L703.0 572.4L704.0 572.2L705.0 572.9L706.0 573.4L707.0 574.1L708.0 574.8L709.0 575.9L710.0 576.4L711.0 577.0L712.0 576.5L713.0 577.1L714.0 578.5L715.0 579.2L716.0 579.3L717.0 580.0L718.0 579.9L719.0 580.9L720.0 581.6L721.0 582.7L722.0 583.2L723.0 583.8L724.0 584.5L725.0 584.2L726.0 584.7L727.0 585.3L728.0 586.3L729.0 587.1L730.0 588.0L731.0 588.4L732.0 588.9L733.0 589.6L734.0 589.8L735.0 590.5L736.0 590.5L737.0 592.0L738.0 591.9L739.0 593.3L740.0 593.6L741.0 593.8L742.0 594.1L743.0 594.9L744.0 595.9L745.0 596.6L746.0 596.5L747.0 597.0L748.0 598.1L749.0 598.8L750.0 599.3L751.0 599.7L752.0 600.1L753.0 601.2L754.0 601.0L755.0 602.0L756.0 602.8L757.0 603.9L758.0 604.1L759.0 605.0L760.0 605.1L761.0 605.4L762.0 606.0L763.0 607.4L764.0 607.7L765.0 607.8L766.0 608.1L767.0 609.2L768.0 610.0L769.0 610.3L770.0 610.7L771.0 611.8L772.0 612.6L773.0 612.4L774.0 612.7L775.0 613.7L776.0 614.4L777.0 615.3L778.0 615.3L779.0 616.6L780.0 616.8L781.0 617.6L782.0 617.8L783.0 618.0L784.0 619.4L785.0 619.2L786.0 620.3L787.0 620.1L788.0 620.6L789.0 621.8L790.0 621.8L791.0 623.1L792.0 623.0L793.0 623.2L794.0 623.7L795.0 624.5L796.0 625.3L797.0 626.2L798.0 625.7L799.0 626.6L800.0 626.9L801.0 628.3L802.0 627.8L803.0 628.2L804.0 628.8L805.0 629.7L806.0 630.8L807.0 631.3L808.0 631.6L809.0 632.5L810.0 632.4L811.0 633.4L812.0 633.2L813.0 633.5L814.0 634.9L815.0 635.1L816.0 634.8L817.0 636.0L818.0 636.1L819.0 636.6L820.0 637.1L821.0 637.4L822.0 637.6L823.0 638.5L824.0 639.0L825.0 640.2L826.0 639.7L827.0 641.2L828.0 640.8L829.0 641.5L830.0 642.5L831.0 643.0L832.0 643.0L833.0 643.1L834.0 644.0L835.0 644.4L836.0 645.6L837.0 645.2L838.0 645.9L839.0 647.0L840.0 647.0L841.0 646.9L842.0 647.9L843.0 648.9L844.0 649.3L845.0 648.9L846.0 649.4L847.0 650.0L848.0 651.5L849.0 651.2L850.0 653.3L851.0 653.4L852.0 653.3L853.0 651.9L854.0 654.8L855.0 653.2L856.0 656.7L857.0 655.0L858.0 655.7L859.0 657.6L860.0 657.0L861.0 657.2L862.0 656.7L863.0 656.8L864.0 658.8L865.0 659.9L866.0 659.8L867.0 660.1L868.0 662.0L869.0 658.8L870.0 662.5L871.0 660.5L872.0 664.2L873.0 663.7L874.0 664.1L875.0 663.9L876.0 667.1L877.0 663.4L878.0 667.7L879.0 668.3L880.0 668.5L881.0 668.4L882.0 666.5L883.0 669.7L884.0 668.7L885.0 670.2L886.0 671.8L887.0 670.4L888.0 671.0L889.0 670.7L890.0 673.6L891.0 674.2L892.0 674.2L893.0 671.7L894.0 674.0L895.0 676.9L896.0 675.6L897.0 677.6L898.0 677.5L899.0 674.3L900.0 678.2L901.0 679.1L902.0 681.5L903.0 680.8L904.0 681.6L905.0 679.0L906.0 681.0L907.0 682.3L908.0 681.7L909.0 682.6L910.0 683.0L911.0 684.2L912.0 684.5L913.0 685.3L914.0 682.4L915.0 685.7L916.0 684.3L917.0 686.0L918.0 687.3L919.0 684.6L920.0 689.0L921.0 686.9L922.0 686.9L923.0 691.6L924.0 691.8L925.0 689.2L926.0 691.3L927.0 691.8L928.0 690.5L929.0 690.2L930.0 690.6L931.0 695.3L932.0 692.1L933.0 695.1L934.0 696.0L935.0 697.1L936.0 692.9L937.0 696.9L938.0 696.8L939.0 695.1L940.0 699.5L941.0 695.8L942.0 699.6L943.0 696.2L944.0 698.7L945.0 697.1L946.0 700.9L947.0 701.1L948.0 698.0L949.0 704.2L950.0 703.5L951.0 702.5L952.0 704.3L953.0 706.3L954.0 703.5L955.0 701.7L956.0 706.4L957.0 706.2L958.0 708.4L959.0 707.7L960.0 709.6L961.0 708.7L962.0 710.5L963.0 708.0L964.0 710.4L965.0 713.1L966.0 712.4L967.0 710.1L968.0 713.5L969.0 709.3L970.0 715.9L971.0 711.1L972.0 716.6L973.0 717.0L974.0 718.2L975.0 718.0L976.0 713.9L977.0 712.8L978.0 716.7L979.0 720.4L980.0 720.4L981.0 720.1L982.0 722.2L983.0 721.5L984.0 722.3L985.0 721.6L986.0 724.5L987.0 722.3L988.0 724.5L989.0 722.0L990.0 726.0L991.0 727.2L992.0 726.2L993.0 728.4L994.0 724.7L995.0 727.9L996.0 729.8L997.0 729.5L998.0 730.2L999.0 727.6L1000.0 730.8L1001.0 731.4L1002.0 733.2L1003.0 734.2L1004.0 733.7L1005.0 733.2L1006.0 736.0L1007.0 733.8L1008.0 737.1L1009.0 736.7L1010.0 738.0L1011.0 737.5L1012.0 736.4L1013.0 736.7L1014.0 739.1L1015.0 739.6L1016.0 735.6L1017.0 740.7L1018.0 741.3L1019.0 743.6L1020.0 741.2L1021.0 742.4L1022.0 745.2L1023.0 741.7L1024.0 746.0L1025.0 746.2L1026.0 745.8L1027.0 748.4L1028.0 748.6L1029.0 747.8L1030.0 748.2L1031.0 747.4L1032.0 750.3L1033.0 748.5L1034.0 751.2L1035.0 751.1L1036.0 752.6L1037.0 751.9L1038.0 754.1L1039.0 755.1L1040.0 754.6L1041.0 752.6L1042.0 751.5L1043.0 751.9L1044.0 755.5L1045.0 754.5L1046.0 758.5L1047.0 757.9L1048.0 756.6L1049.0 759.0L1050.0 758.1L1051.0 759.3L1052.0 756.8L1053.0 760.4L1054.0 760.2L1055.0 759.0L1056.0 758.6L1057.0 761.4L1058.0 761.9L1059.0 761.7L1060.0 760.1L1061.0 757.8L1062.0 761.4L1063.0 764.5L1064.0 765.2L1065.0 765.6L1066.0 766.1L1067.0 763.5L1068.0 766.8L1069.0 765.1L1070.0 767.0L1071.0 764.3L1072.0 767.6L1073.0 765.6L1074.0 769.2L1075.0 769.7L1076.0 769.6L1077.0 769.6L1078.0 772.5L1079.0 772.3L1080.0 771.5L1081.0 772.5L1082.0 773.1L1083.0 773.4L1084.0 774.4L1085.0 775.5L1086.0 774.8L1087.0 776.9L1088.0 772.5L1089.0 774.2L1090.0 775.8L1091.0 776.6L1092.0 779.1L1093.0 779.8L1094.0 780.2L1095.0 779.6L1096.0 779.3L1097.0 781.3L1098.0 781.5L1099.0 780.4L1100.0 782.7L1101.0 783.1L1102.0 783.5L1103.0 784.2L1104.0 784.9L1105.0 785.8L1106.0 785.2L1107.0 786.4L1108.0 786.2L1109.0 786.8L1110.0 788.2L1111.0 788.4L1112.0 789.3L1113.0 789.3L1114.0 789.3L1115.0 790.2L1116.0 791.0L1117.0 791.9L1118.0 792.5L1119.0 792.4L1120.0 792.8L1121.0 793.0L1122.0 794.1L1123.0 794.1L1124.0 794.6L1125.0 794.9L1126.0 795.4L1127.0 796.7L1128.0 796.6L1129.0 798.1L1130.0 797.6L1131.0 799.0L1132.0 798.6L1133.0 799.0L1134.0 800.4L1135.0 800.3L1136.0 801.4L1137.0 801.3L1138.0 801.6L1139.0 803.0L1140.0 803.4L1141.0 804.1L1142.0 804.5L1143.0 804.2L1144.0 805.4L1145.0 806.0L1146.0 806.2L1147.0 807.3L1148.0 807.0L1149.0 808.3L1150.0 808.5L1151.0 808.2L1152.0 808.7L1153.0 810.0L1154.0 810.7L1155.0 810.3L1156.0 811.1L1157.0 812.1L1158.0 812.0L1159.0 813.3L1160.0 813.4L1161.0 813.8L1162.0 813.7L1163.0 814.5L1164.0 815.1L1165.0 815.3L1166.0 816.0L1167.0 815.8L1168.0 817.0L1169.0 816.9L1170.0 817.6L1171.0 818.0L1172.0 818.1L1173.0 818.5L1174.0 819.4L1175.0 820.0L1176.0 820.2L1177.0 820.3L1178.0 820.4L1179.0 820.5L1180.0 822.0L1181.0 822.1L1182.0 822.7L1183.0 822.5L1184.0 823.2L1185.0 824.1L1186.0 824.3L1187.0 824.4L1188.0 824.5L1189.0 825.0L1190.0 825.5L1191.0 826.5L1192.0 826.4L1193.0 827.3L1194.0 827.7L1195.0 828.6L1196.0 829.0L1197.0 828.9L1198.0 829.1L1199.0 829.9L1200.0 830.6L1201.0 831.4L1202.0 832.2L1203.0 832.8L1204.0 832.3L1205.0 833.7L1206.0 834.2L1207.0 834.8L1208.0 835.0L1209.0 835.2L1210.0 836.4L1211.0 836.9L1212.0 837.2L1213.0 838.0L1214.0 837.9L1215.0 838.1L1216.0 839.2L1217.0 840.0L1218.0 839.8L1219.0 841.0L1220.0 841.2L1221.0 842.2L1222.0 841.9L1223.0 842.9L1224.0 843.5L1225.0 843.8L1226.0 844.0L1227.0 844.5L1228.0 845.6L1229.0 846.2L1230.0 846.3L1231.0 846.4L1232.0 847.8L1233.0 848.3L1234.0 848.1L1235.0 849.1L1236.0 850.0L1237.0 850.5L1238.0 850.6L1239.0 851.0L1240.0 851.7L1241.0 851.7L1242.0 852.2L1243.0 852.7L1244.0 853.9L1245.0 854.0L1246.0 854.8L1247.0 855.1L1248.0 855.7L1249.0 855.8L1250.0 856.2L1251.0 857.9L1252.0 857.6L1253.0 857.8L1254.0 859.0L1255.0 859.7L1256.0 859.4L1257.0 860.5L1258.0 860.7L1259.0 861.4L1260.0 861.4L1261.0 861.9L1262.0 863.6L1263.0 863.9L1264.0 864.0L1265.0 864.6L1266.0 864.8L1267.0 865.9L1268.0 866.0L1269.0 867.1L1270.0 867.4L1271.0 868.0L1272.0 868.7L1273.0 868.4L1274.0 868.6L1275.0 869.3L1276.0 869.8L1277.0 870.2L1278.0 870.7L1279.0 871.9L1280.0 872.3L1281.0 873.2L1282.0 873.2L1283.0 874.2L1284.0 874.7L1285.0 874.1L1286.0 875.2L1287.0 875.4L1288.0 875.6L1289.0 877.1L1290.0 876.7L1291.0 877.5L1292.0 878.1L1293.0 878.9L1294.0 879.0L1295.0 879.2L1296.0 879.7L1297.0 879.8L1298.0 881.3L1299.0 881.8L1300.0 881.3L1301.0 881.5L1302.0 882.3L1303.0 882.9L1304.0 884.0L1305.0 884.5L1306.0 884.8L1307.0 884.4L1308.0 885.7L1309.0 886.1L1310.0 886.3L1311.0 887.0L1312.0 887.9L1313.0 887.3L1314.0 887.9L1315.0 889.2L1316.0 889.9L1317.0 890.1L1318.0 890.1L1319.0 891.0L1320.0 891.7L1321.0 891.4L1322.0 892.2L1323.0 892.6L1324.0 893.0L1325.0 893.9L1326.0 894.1L1327.0 894.7L1328.0 895.1L1329.0 896.2L1330.0 895.9L1331.0 897.3L1332.0 897.2L1333.0 897.5L1334.0 899.1L1335.0 898.7L1336.0 900.1L1337.0 900.5L1338.0 901.0L1339.0 900.7L1340.0 901.6L1341.0 902.1L1342.0 902.2L1343.0 903.8L1344.0 904.2L1345.0 904.5L1346.0 904.9L1347.0 905.3L1348.0 906.5L1349.0 906.6L1350.0 907.3L1351.0 907.3L1352.0 908.0L1353.0 908.3L1354.0 909.7L1355.0 910.0L1356.0 910.1L1357.0 911.5L1358.0 911.4L1359.0 912.1L1360.0 912.4L1361.0 913.1L1362.0 914.3L1363.0 914.2L1364.0 914.6L1365.0 915.5L1366.0 915.9L1367.0 917.2L1368.0 916.8L1369.0 918.4L1370.0 917.8L1371.0 919.4L1372.0 919.7L1373.0 919.7L1374.0 920.6L1375.0 920.9L1376.0 921.4L1377.0 921.9L1378.0 922.7L1379.0 924.0L1380.0 924.5L1381.0 925.0L1382.0 924.6L1383.0 925.4L1384.0 926.6L1385.0 926.2L1386.0 927.6L1387.0 927.6L1388.0 929.0L1389.0 928.4L1390.0 929.9L1391.0 929.9L1392.0 930.2L1393.0 930.6L1394.0 932.1L1395.0 932.3L1396.0 932.5L1397.0 933.3L1398.0 934.5L1399.0 934.2L1400.0 935.1L1401.0 935.8L1402.0 935.9L1403.0 936.6L1404.0 937.9L1405.0 938.5L1406.0 938.5L1407.0 938.9L1408.0 939.6L1409.0 940.8L1410.0 941.3L1411.0 941.6L1412.0 942.2L1413.0 943.3L1414.0 944.0L1415.0 944.8L1416.0 945.1L1417.0 945.3L1418.0 945.7L1419.0 947.2L1420.0 947.4L1421.0 948.4L1422.0 948.2L1423.0 949.7L1424.0 949.8L1425.0 951.0L1426.0 951.7L1427.0 951.8L1428.0 951.9L1429.0 953.6L1430.0 953.7L1431.0 954.3L1432.0 955.3L1433.0 955.2L1434.0 955.7L1435.0 957.1L1436.0 957.1L1437.0 957.5L1438.0 958.3L1439.0 959.2L1440.0 959.1L1441.0 960.3L1442.0 960.8L1443.0 961.5L1444.0 961.6L1445.0 963.0L1446.0 963.7L1447.0 964.3L1448.0 964.3L1449.0 965.4L1450.0 965.6L1451.0 966.6L1452.0 966.4L1453.0 967.9L1454.0 968.6L1455.0 968.7L1456.0 969.3L1457.0 969.9L1458.0 970.5L1459.0 970.5L1460.0 971.7L1461.0 973.1L1462.0 973.0L1463.0 973.7L1464.0 974.4L1465.0 975.4L1466.0 976.8L1467.0 976.7L1468.0 977.5L1469.0 979.1L1470.0 979.2L1471.0 979.8L1472.0 981.3L1473.0 982.1L1474.0 982.8L1475.0 983.8L1476.0 983.9L1477.0 985.6L1478.0 986.2L1479.0 986.2L1480.0 987.1L1481.0 988.3L1482.0 989.1L1483.0 989.6L1484.0 990.2L1485.0 991.4L1486.0 991.8L1487.0 993.2L1488.0 994.3L1489.0 994.2L1490.0 995.5L1491.0 996.5L1492.0 996.6L1493.0 998.2L1494.0 999.1L1495.0 999.4L1496.0 999.9L1497.0 1000.6L1498.0 1001.8L1499.0 1002.1L1500.0 1002.6L1501.0 1003.9L1502.0 1004.4L1503.0 1004.5L1504.0 1005.0L1505.0 1005.8L1506.0 1006.6L1507.0 1007.9L1508.0 1008.3L1509.0 1009.1L1510.0 1009.7L1511.0 1010.4L1512.0 1010.1L1513.0 1011.3L1514.0 1012.5L1515.0 1013.1L1516.0 1013.0L1517.0 1013.8L1518.0 1014.7L1519.0 1015.1L1520.0 1015.9L1521.0 1016.0L1522.0 1017.1L1523.0 1017.9L1524.0 1018.0L1525.0 1019.2" stroke="#00CBCC"/>
<path d="M152.0 185.0L152.6 183.5L153.7 182.8L154.8 183.8L155.9 182.1L157.0 182.5L158.0 182.5L159.0 181.1L160.0 181.0L161.0 182.0L162.0 180.2L163.0 180.4L164.0 180.3L165.0 179.7L166.0 179.4L167.0 179.1L168.0 178.3L169.0 179.1L170.0 178.2L171.0 177.4L172.0 177.7L173.0 177.2L174.0 177.7L175.0 177.9L176.0 178.7L177.0 177.8L178.0 177.3L179.0 177.5L180.0 177.9L181.0 178.7L182.0 176.9L183.0 177.8L184.0 177.2L185.0 177.6L186.0 176.9L187.0 177.5L188.0 177.0L189.0 177.2L190.0 176.8L191.0 177.4L192.0 176.7L193.0 175.7L194.0 175.5L195.0 176.9L196.0 175.9L197.0 175.3L198.0 176.5L199.0 175.7L200.0 175.4L201.0 176.1L202.0 176.7L203.0 176.0L204.0 176.4L205.0 177.7L206.0 177.3L207.2 177.0L208.5 178.0L209.5 165.0L210.8 164.7L212.0 163.5L213.0 168.0L214.0 172.0L215.0 168.3L216.0 166.0L216.8 166.8L217.5 167.0L218.2 168.9L219.0 170.0L220.0 170.9L221.0 170.8L222.0 170.3L223.0 169.9L224.0 169.9L225.0 170.6L226.0 171.1L227.0 171.4L228.0 171.0L229.0 172.9L230.0 172.6L231.0 172.5L232.0 172.7L233.0 171.7L234.0 171.7L235.0 171.1L236.0 171.6L237.0 171.3L238.0 171.5L239.0 171.3L240.0 171.4L241.0 172.0L242.0 172.0L243.0 170.7L244.0 171.0L245.0 170.5L246.0 171.4L247.0 171.9L248.0 170.5L249.0 171.4L250.0 170.9L251.0 170.5L252.0 170.0L253.0 171.4L254.0 170.6L255.0 170.3L256.0 170.8L257.0 170.5L258.0 170.8L259.0 170.9L260.0 170.8L261.0 171.2L262.0 171.0L263.0 170.6L264.0 170.2L265.0 170.2L266.0 170.2L267.0 170.9L268.0 170.6L269.0 171.4L270.0 170.8L271.0 171.2L272.0 172.0L273.0 172.0L274.0 172.5L275.0 170.4L276.0 170.8L277.0 169.9L278.0 170.1L279.0 170.6L280.0 170.9L281.0 171.2L282.0 170.5L283.0 171.6L284.0 169.8L285.0 171.3L286.0 170.2L287.0 171.4L288.0 169.9L289.0 171.5L290.0 171.2L291.0 171.6L292.0 170.8L293.0 170.1L294.0 171.5L295.0 170.5L296.0 169.9L297.0 170.8L298.0 170.6L299.0 170.6L300.0 170.6L301.0 170.0L302.0 169.9L303.0 170.7L304.0 170.5L305.0 169.9L306.0 170.4L307.0 170.9L308.0 170.9L309.0 170.4L310.0 170.3L311.0 170.2L312.0 169.9L313.0 169.9L314.0 170.3L315.0 169.7L316.0 170.8L317.0 170.7L318.0 170.6L319.0 169.5L320.0 170.1L321.0 170.2L322.0 169.6L323.0 171.1L324.0 170.7L325.0 170.3L326.0 170.6L327.0 169.7L328.0 169.7L329.0 170.3L330.0 170.2L331.0 170.6L332.0 170.3L333.0 169.1L334.0 170.1L335.0 170.6L336.0 170.2L337.0 170.5L338.0 170.5L339.0 169.1L340.0 169.5L341.0 168.5L342.0 168.4L343.0 168.6L344.0 166.9L345.0 166.5L346.0 167.8L347.0 168.1L348.0 168.0L349.0 168.5L350.0 169.2L351.0 170.3L352.0 170.0L353.0 170.8L354.0 170.1L355.0 171.4L356.0 171.0L356.8 169.0L357.5 168.0L358.5 165.0L359.4 165.0L360.2 166.3L361.1 166.4L362.0 166.0L363.0 166.0L364.0 166.3L365.0 167.2L366.0 168.0L367.0 168.0L368.0 168.0L369.0 169.1L370.0 169.1L371.0 169.6L372.0 169.6L373.0 169.5L374.0 170.0L375.0 170.5L376.0 170.7L377.0 171.1L378.0 171.9L379.0 171.1L380.0 171.0L381.0 172.5L382.0 171.9L383.0 172.4L384.0 172.2L385.0 173.7L386.0 173.0L387.0 173.2L388.0 174.4L389.0 174.1L390.0 174.4L391.0 174.3L392.0 175.7L393.0 175.1L394.0 175.3L395.0 176.6L396.0 176.6L397.0 176.8L398.0 176.2L399.0 177.5L400.0 177.4L401.0 178.1L402.0 177.5L403.0 178.5L404.0 178.8L405.0 178.6L406.0 178.6L407.0 179.2L408.0 179.6L409.0 180.1L410.0 180.2L411.0 180.1L412.0 179.1L413.0 180.1L414.0 180.4L415.0 179.5L416.0 180.3L417.0 181.2L418.0 181.4L419.0 181.6L420.0 181.0L421.0 180.6L422.0 181.8L423.0 182.6L424.0 182.5L425.0 182.2L426.0 182.0L427.0 183.9L428.0 184.0L429.0 184.0L430.0 184.0L431.0 183.9L432.0 184.9L433.0 185.0L434.0 185.0L435.0 184.9L436.0 184.6L437.0 184.7L438.0 184.9L439.0 185.0L440.0 185.5L441.0 185.7L442.0 185.1L443.0 186.3L444.0 185.8L445.0 185.6L446.0 186.0L447.0 186.4L448.0 186.6L449.0 187.4L450.0 187.0L451.0 186.4L452.0 186.7L453.0 186.9L454.0 186.8L455.0 187.9L456.0 186.9L457.0 186.9L458.0 187.9L459.0 188.3L460.0 188.0L461.0 188.7L462.0 188.4L463.0 188.1L464.0 189.3L465.0 189.2L466.0 188.9L467.0 189.2L468.0 190.0L469.0 190.2L470.0 189.5L471.0 190.3L472.0 188.8L473.0 189.2L474.0 189.3L475.0 188.9L476.0 190.0L477.0 188.7L478.0 190.2L479.0 189.7L480.0 189.5L481.0 189.9L482.0 189.7L483.0 190.9L484.0 190.4L485.0 191.2L486.0 191.5L487.0 191.2L488.0 192.0L489.0 191.3L490.0 191.5L491.0 191.3L492.0 192.3L493.0 191.8L494.0 191.5L495.0 192.3L496.0 192.0L497.0 191.5L498.0 192.8L499.0 192.3L500.0 192.4L501.0 193.3L502.0 192.6L503.0 193.4L504.0 192.3L505.0 192.2L506.0 192.8L507.0 193.3L508.0 193.5L509.0 193.2L510.0 192.3L511.0 192.9L512.0 192.3L513.0 192.9L514.0 194.0L515.0 193.0L516.0 193.7L517.0 193.6L518.0 192.8L519.0 193.9L520.0 193.6L521.0 193.0L522.0 193.2L523.0 194.1L524.0 193.4L525.0 195.0L526.0 194.1L527.0 194.6L528.0 195.3L529.0 193.9L530.0 195.6L531.0 193.9L532.0 195.1L533.0 195.3L534.0 196.0L535.0 195.2L536.0 195.2L537.0 196.6L538.0 196.4L539.0 196.4L540.0 196.1L541.0 196.5L542.0 197.3L543.0 197.0L544.0 196.9L545.0 196.9L546.0 197.6L547.0 196.8L548.0 197.2L549.0 196.0L550.0 196.8L551.0 196.2L552.0 197.2L553.0 197.6L554.0 196.6L555.0 196.1L556.0 196.5L557.0 196.8L558.0 196.8L559.0 197.2L560.0 196.8L561.0 197.4L562.0 197.7L563.0 197.7L564.0 197.7L565.0 197.4L566.0 196.9L567.0 198.0L568.0 197.0L569.0 198.1L570.0 197.3L571.0 197.7L572.0 197.5L573.0 197.8L574.0 197.3L575.0 197.6L576.0 197.8L577.0 198.1L578.0 197.5L579.0 198.0L580.0 197.8L581.0 197.9L582.0 197.8L583.0 198.1L584.0 198.4L585.0 197.5L586.0 197.5L587.0 198.8L588.0 197.5L589.0 198.9L590.0 198.8L591.0 197.9L592.0 198.7L593.0 198.1L594.0 199.3L595.0 198.1L596.0 198.0L597.0 197.9L598.0 199.2L599.0 198.3L600.0 198.9L601.0 198.6L602.0 199.8L603.0 199.5L604.0 199.5L605.0 199.3L606.0 199.4L607.0 198.3L608.0 199.8L609.0 199.0L610.0 200.0L611.0 199.2L612.0 200.2L613.0 198.6L614.0 200.4L615.0 198.8L616.0 199.6L617.0 199.6L618.0 200.6L619.0 200.1L620.0 200.6L621.0 200.6L622.0 199.7L623.0 199.3L624.0 199.3L625.0 200.0L626.0 200.4L627.0 200.8L628.0 200.3L629.0 199.7L630.0 200.1L631.0 200.2L632.0 199.5L633.0 200.3L634.0 199.4L635.0 199.1L636.0 199.1L637.0 199.9L638.0 200.2L639.0 199.4L640.0 199.7L641.0 200.2L642.0 199.4L643.0 199.9L644.0 200.0L645.0 199.7L646.0 199.3L647.0 200.2L648.0 200.2L649.0 199.2L650.0 199.8L651.0 200.4L652.0 200.1L653.0 200.5L654.0 200.4L655.0 199.9L656.0 200.3L657.0 199.6L658.0 200.2L659.0 199.2L660.0 199.7L661.0 200.0L662.0 200.7L663.0 200.3L664.0 200.7L665.0 200.7L666.0 200.9L667.0 200.2L668.0 200.3L669.0 200.0L670.0 199.6L671.0 200.6L672.0 200.3L673.0 199.5L674.0 199.7L675.0 199.6L676.0 200.6L677.0 200.4L678.0 199.7L679.0 200.5L680.0 200.3L681.0 199.8L682.0 200.1L683.0 201.1L684.0 199.6L685.0 199.8L686.0 200.5L687.0 200.9L688.0 201.1L689.0 200.2L690.0 200.8L691.0 199.7L692.0 200.2L693.0 201.0L694.0 200.7L695.0 200.3L696.0 200.6L697.0 200.4L698.0 200.6L699.0 201.2L700.0 200.5L701.0 201.4L702.0 200.0L703.0 201.1L704.0 201.5L705.0 200.9L706.0 200.7L707.0 200.5L708.0 200.8L709.0 201.0L710.0 201.1L711.0 200.2L712.0 201.8L713.0 200.6L714.0 201.1L715.0 200.5L716.0 201.3L717.0 200.4L718.0 200.9L719.0 201.0L720.0 200.9L721.0 201.3L722.0 200.7L723.0 201.3L724.0 201.9L725.0 201.7L726.0 202.3L727.0 202.3L728.0 201.5L729.0 201.5L730.0 202.1L731.0 202.3L732.0 201.8L733.0 202.0L734.0 202.1L735.0 201.8L736.0 201.9L737.0 201.7L738.0 201.8L739.0 201.9L740.0 202.0L741.0 202.7L742.0 201.2L743.0 201.1L744.0 203.0L745.0 202.0L746.0 202.5L747.0 203.0L748.0 202.6L749.0 202.2L750.0 203.1L751.0 202.4L752.0 201.9L753.0 201.3L754.0 201.3L755.0 202.8L756.0 203.0L757.0 201.7L758.0 202.2L759.0 202.5L760.0 202.4L761.0 201.6L762.0 203.1L763.0 202.2L764.0 202.6L765.0 202.6L766.0 202.0L767.0 202.6L768.0 201.4L769.0 202.3L770.0 202.5L771.0 202.5L772.0 201.7L773.0 201.4L774.0 201.2L775.0 201.3L776.0 201.4L777.0 202.1L778.0 202.4L779.0 202.7L780.0 202.1L781.0 202.8L782.0 201.1L783.0 201.9L784.0 201.3L785.0 202.3L786.0 202.4L787.0 202.4L788.0 202.1L789.0 201.9L790.0 201.8L791.0 201.3L792.0 201.5L793.0 202.2L794.0 202.4L795.0 201.3L796.0 203.1L797.0 201.2L798.0 201.4L799.0 202.2L800.0 202.3L801.0 201.9L802.0 202.3L803.0 202.7L804.0 202.5L805.0 203.0L806.0 202.2L807.0 202.7L808.0 202.1L809.0 201.3L810.0 201.2L811.0 201.5L812.0 202.1L813.0 201.7L814.0 202.4L815.0 202.6L816.0 203.2L817.0 201.4L818.0 203.3L819.0 201.0L820.0 203.1L821.0 203.3L822.0 201.8L823.0 202.9L824.0 202.2L825.0 202.3L826.0 203.0L827.0 203.2L828.0 201.7L829.0 201.5L830.0 203.1L831.0 202.3L832.0 203.1L833.0 201.4L834.0 202.9L835.0 201.3L836.0 201.2L837.0 201.6L838.0 203.1L839.0 201.8L840.0 201.9L841.0 201.5L842.0 201.0L843.0 201.9L844.0 202.0L845.0 201.6L846.0 202.6L847.0 201.6L848.0 203.2L849.0 203.0L850.0 202.0L850.5 202.4L851.0 200.1L851.5 202.3L852.0 202.6L852.5 202.7L853.0 201.6L853.5 203.0L854.0 204.3L854.5 202.9L855.0 199.7L855.5 202.6L856.0 202.5L856.5 202.2L857.0 204.0L857.5 199.8L858.0 199.6L858.5 203.0L859.0 200.0L859.5 200.2L860.0 203.4L860.5 201.2L861.0 203.7L861.5 203.3L862.0 202.7L862.5 201.2L863.0 199.9L863.5 204.2L864.0 203.6L864.5 203.9L865.0 201.9L865.5 200.8L866.0 202.5L866.5 201.4L867.0 200.4L867.5 200.0L868.0 201.4L868.5 200.1L869.0 200.7L869.5 204.1L870.0 203.9L870.5 203.6L871.0 201.8L871.5 203.0L872.0 200.2L872.5 202.4L873.0 204.0L873.5 203.2L874.0 204.1L874.5 202.4L875.0 200.8L875.5 199.4L876.0 200.6L876.5 203.3L877.0 201.9L877.5 202.3L878.0 203.2L878.5 200.7L879.0 200.0L879.5 203.6L880.0 202.2L880.5 199.4L881.0 202.6L881.5 202.7L882.0 202.9L882.5 199.9L883.0 200.6L883.5 202.7L884.0 202.5L884.5 200.9L885.0 203.9L885.5 200.7L886.0 203.5L886.5 199.9L887.0 201.4L887.5 204.0L888.0 202.6L888.5 202.8L889.0 203.5L889.5 202.2L890.0 201.8L890.5 203.2L891.0 201.7L891.5 203.8L892.0 202.8L892.5 199.2L893.0 200.6L893.5 203.4L894.0 199.7L894.5 199.2L895.0 201.9L895.5 202.5L896.0 203.8L896.5 203.8L897.0 202.1L897.5 202.5L898.0 201.7L898.5 203.2L899.0 202.4L899.5 199.7L900.0 201.5L900.5 202.1L901.0 199.4L901.5 200.8L902.0 200.8L902.5 203.7L903.0 200.4L903.5 201.1L904.0 202.1L904.5 200.4L905.0 201.6L905.5 200.9L906.0 203.0L906.5 203.3L907.0 202.4L907.5 203.8L908.0 202.0L908.5 203.3L909.0 200.2L909.5 201.6L910.0 201.3L910.5 204.1L911.0 202.2L911.5 201.7L912.0 203.1L912.5 204.5L913.0 204.0L913.5 203.9L914.0 203.2L914.5 203.9L915.0 202.5L915.5 202.8L916.0 201.9L916.5 201.6L917.0 201.3L917.5 201.6L918.0 202.4L918.5 204.1L919.0 201.1L919.5 201.8L920.0 201.2L920.5 202.2L921.0 200.2L921.5 202.9L922.0 204.0L922.5 204.2L923.0 201.6L923.5 200.6L924.0 203.3L924.5 203.4L925.0 200.7L925.5 200.0L926.0 202.9L926.5 201.5L927.0 202.2L927.5 202.4L928.0 203.9L928.5 200.3L929.0 200.9L929.5 199.8L930.0 202.9L930.5 200.0L931.0 203.7L931.5 202.5L932.0 202.0L932.5 200.8L933.0 203.7L933.5 200.0L934.0 202.3L934.5 203.4L935.0 202.6L935.5 199.7L936.0 199.9L936.5 200.8L937.0 202.9L937.5 200.0L938.0 203.9L938.5 203.6L939.0 202.0L939.5 203.5L940.0 202.3L940.5 200.0L941.0 201.2L941.5 199.3L942.0 201.3L942.5 203.9L943.0 201.1L943.5 202.3L944.0 200.9L944.5 202.4L945.0 200.7L945.5 203.5L946.0 201.0L946.5 200.3L947.0 201.1L947.5 199.4L948.0 200.6L948.5 202.5L949.0 200.9L949.5 201.1L950.0 200.1L950.5 202.9L951.0 203.1L951.5 200.8L952.0 198.9L952.5 200.9L953.0 203.0L953.5 201.9L954.0 199.9L954.5 199.3L955.0 203.0L955.5 199.1L956.0 201.7L956.5 201.6L957.0 199.6L957.5 200.8L958.0 202.8L958.5 203.4L959.0 199.0L959.5 198.8L960.0 201.0L960.5 199.8L961.0 198.8L961.5 203.1L962.0 199.0L962.5 200.4L963.0 202.7L963.5 200.8L964.0 199.7L964.5 198.9L965.0 199.7L965.5 200.1L966.0 202.7L966.5 200.7L967.0 201.3L967.5 199.9L968.0 200.6L968.5 203.1L969.0 199.1L969.5 202.0L970.0 200.1L970.5 200.6L971.0 202.1L971.5 200.3L972.0 200.9L972.5 200.9L973.0 200.9L973.5 199.0L974.0 200.5L974.5 200.4L975.0 200.6L975.5 200.0L976.0 200.8L976.5 202.2L977.0 199.0L977.5 199.0L978.0 201.2L978.5 201.4L979.0 202.4L979.5 198.8L980.0 198.6L980.5 201.5L981.0 199.6L981.5 201.0L982.0 200.0L982.5 199.0L983.0 201.3L983.5 200.1L984.0 200.9L984.5 202.8L985.0 200.8L985.5 202.6L986.0 200.0L986.5 199.5L987.0 200.5L987.5 200.0L988.0 202.1L988.5 199.2L989.0 202.1L989.5 199.7L990.0 200.6L990.5 199.6L991.0 199.3L991.5 199.3L992.0 203.3L992.5 199.1L993.0 203.0L993.5 200.8L994.0 202.8L994.5 199.5L995.0 201.4L995.5 201.9L996.0 200.1L996.5 201.5L997.0 202.9L997.5 200.6L998.0 198.7L998.5 201.5L999.0 202.3L999.5 200.8L1000.0 202.6L1000.5 200.3L1001.0 200.8L1001.5 200.7L1002.0 199.1L1002.5 198.9L1003.0 201.7L1003.5 202.9L1004.0 199.5L1004.5 202.9L1005.0 200.2L1005.5 200.6L1006.0 198.8L1006.5 198.6L1007.0 201.4L1007.5 202.8L1008.0 201.7L1008.5 199.2L1009.0 201.8L1009.5 199.2L1010.0 201.0L1010.5 200.8L1011.0 202.2L1011.5 200.4L1012.0 200.1L1012.5 200.1L1013.0 199.9L1013.5 198.6L1014.0 202.0L1014.5 200.3L1015.0 199.3L1015.5 199.9L1016.0 198.6L1016.5 200.6L1017.0 201.2L1017.5 201.3L1018.0 200.5L1018.5 203.1L1019.0 199.0L1019.5 199.2L1020.0 201.0L1020.5 200.2L1021.0 199.7L1021.5 201.7L1022.0 200.7L1022.5 200.9L1023.0 201.5L1023.5 200.2L1024.0 200.6L1024.5 202.9L1025.0 198.9L1025.5 200.3L1026.0 201.0L1026.5 201.7L1027.0 198.5L1027.5 198.6L1028.0 199.3L1028.5 201.2L1029.0 199.0L1029.5 198.1L1030.0 199.9L1030.5 198.7L1031.0 201.2L1031.5 202.4L1032.0 201.5L1032.5 200.6L1033.0 199.8L1033.5 197.9L1034.0 199.9L1034.5 200.3L1035.0 199.2L1035.5 199.7L1036.0 202.3L1036.5 199.5L1037.0 199.0L1037.5 199.8L1038.0 202.2L1038.5 197.9L1039.0 199.9L1039.5 202.4L1040.0 200.0L1041.0 200.0L1042.0 199.5L1043.0 199.5L1044.0 200.2L1045.0 199.0L1046.0 200.6L1047.0 200.0L1048.0 200.4L1049.0 198.9L1050.0 199.5L1051.0 198.5L1052.0 199.1L1053.0 199.4L1054.0 199.6L1055.0 199.7L1056.0 198.6L1057.0 200.4L1058.0 198.8L1059.0 198.9L1060.0 198.8L1061.0 199.3L1062.0 198.8L1063.0 199.9L1064.0 199.2L1065.0 198.8L1066.0 199.2L1067.0 200.1L1068.0 199.6L1069.0 198.6L1070.0 199.7L1071.0 199.5L1072.0 199.5L1073.0 200.0L1074.0 198.8L1075.0 199.9L1076.0 200.0L1077.0 200.3L1078.0 199.3L1079.0 198.9L1080.0 199.9L1081.0 200.5L1082.0 200.4L1083.0 199.7L1084.0 199.1L1085.0 200.3L1086.0 198.8L1087.0 199.8L1088.0 200.2L1089.0 199.6L1090.0 200.0L1091.0 199.4L1092.0 199.9L1093.0 198.9L1094.0 199.9L1095.0 198.8L1096.0 198.8L1097.0 198.7L1098.0 199.1L1099.0 198.5L1100.0 199.5L1101.0 200.0L1102.0 200.5L1103.0 200.4L1104.0 198.9L1105.0 199.9L1106.0 199.2L1107.0 200.2L1108.0 199.1L1109.0 201.1L1110.0 200.1L1111.0 199.7L1112.0 200.2L1113.0 200.1L1114.0 200.5L1115.0 200.4L1116.0 201.6L1117.0 200.4L1118.0 200.0L1119.0 201.0L1120.0 200.9L1121.0 200.8L1122.0 202.1L1123.0 201.9L1124.0 201.1L1125.0 200.6L1126.0 202.2L1127.0 201.5L1128.0 202.0L1129.0 202.2L1130.0 201.0L1131.0 200.6L1132.0 201.1L1133.0 201.0L1134.0 201.4L1135.0 200.1L1136.0 201.6L1137.0 200.7L1138.0 200.1L1139.0 200.7L1140.0 199.5L1141.0 200.9L1142.0 200.3L1143.0 199.5L1144.0 199.1L1145.0 200.0L1146.0 200.4L1147.0 199.2L1148.0 200.6L1149.0 199.8L1150.0 199.5L1151.0 199.5L1152.0 200.4L1153.0 199.2L1154.0 199.9L1155.0 199.3L1156.0 199.2L1157.0 199.6L1158.0 200.4L1159.0 198.7L1160.0 199.3L1161.0 198.6L1162.0 199.3L1163.0 198.6L1164.0 200.1L1165.0 199.9L1166.0 200.4L1167.0 200.0L1168.0 199.2L1169.0 199.7L1170.0 198.8L1171.0 199.4L1172.0 198.7L1173.0 200.4L1174.0 199.8L1175.0 199.0L1176.0 199.6L1177.0 199.3L1178.0 200.3L1179.0 199.9L1180.0 199.9L1181.0 199.7L1182.0 198.8L1183.0 199.6L1184.0 200.2L1185.0 199.2L1186.0 198.5L1187.0 199.1L1188.0 198.5L1189.0 199.6L1190.0 199.5L1191.0 198.7L1192.0 200.2L1193.0 199.0L1194.0 199.4L1195.0 198.8L1196.0 199.5L1197.0 199.6L1198.0 199.9L1199.0 198.5L1200.0 199.5L1201.0 198.8L1202.0 198.8L1203.0 199.2L1204.0 200.2L1205.0 200.3L1206.0 200.1L1207.0 199.8L1208.0 198.7L1209.0 199.3L1210.0 199.8L1211.0 200.2L1212.0 199.6L1213.0 199.7L1214.0 199.5L1215.0 199.9L1216.0 199.8L1217.0 199.6L1218.0 200.8L1219.0 200.2L1220.0 200.3L1221.0 200.7L1222.0 200.5L1223.0 199.6L1224.0 200.6L1225.0 200.3L1226.0 200.2L1227.0 200.6L1228.0 200.8L1229.0 199.8L1230.0 199.8L1231.0 200.3L1232.0 199.5L1233.0 200.9L1234.0 199.7L1235.0 200.0L1236.0 200.9L1237.0 201.2L1238.0 199.9L1239.0 199.7L1240.0 200.8L1241.0 200.7L1242.0 200.3L1243.0 199.9L1244.0 201.5L1245.0 199.8L1246.0 201.3L1247.0 200.1L1248.0 200.1L1249.0 200.5L1250.0 200.7L1251.0 200.0L1252.0 201.3L1253.0 200.2L1254.0 200.5L1255.0 200.6L1256.0 201.6L1257.0 200.1L1258.0 201.6L1259.0 200.7L1260.0 201.5L1261.0 202.2L1262.0 200.7L1263.0 200.5L1264.0 201.0L1265.0 201.5L1266.0 202.1L1267.0 201.2L1268.0 201.5L1269.0 203.0L1270.0 202.9L1271.0 203.2L1272.0 201.9L1273.0 203.0L1274.0 202.3L1275.0 203.2L1276.0 203.6L1277.0 203.4L1278.0 203.2L1279.0 203.7L1280.0 203.5L1281.0 204.0L1282.0 203.1L1283.0 204.4L1284.0 203.4L1285.0 205.0L1286.0 204.1L1287.0 203.7L1288.0 203.7L1289.0 205.1L1290.0 204.1L1291.0 205.0L1292.0 204.4L1293.0 205.8L1294.0 206.3L1295.0 204.8L1296.0 206.1L1297.0 206.3L1298.0 206.3L1299.0 207.3L1300.0 206.5L1301.0 206.6L1302.0 206.6L1303.0 206.7L1304.0 206.8L1305.0 206.8L1306.0 206.9L1307.0 207.0L1308.0 207.1L1309.0 207.1L1310.0 207.2L1311.0 207.3L1312.0 207.5L1313.0 207.6L1314.0 207.8L1315.0 207.9L1316.0 208.1L1317.0 208.2L1318.0 208.4L1319.0 208.5L1320.0 208.7L1321.0 208.9L1322.0 209.0L1323.0 209.2L1324.0 209.4L1325.0 209.5L1326.0 209.7L1327.0 209.9L1328.0 210.0L1329.0 210.2L1330.0 210.3L1331.0 210.5L1332.0 210.7L1333.0 210.8L1334.0 211.0L1335.0 211.2L1336.0 211.3L1337.0 211.5L1338.0 211.7L1339.0 211.8L1340.0 212.0L1341.0 212.2L1342.0 212.4L1343.0 212.7L1344.0 212.9L1345.0 213.1L1346.0 213.3L1347.0 213.6L1348.0 213.8L1349.0 214.0L1350.0 214.2L1351.0 214.5L1352.0 214.7L1353.0 214.9L1354.0 215.2L1355.0 215.4L1356.0 215.6L1357.0 215.8L1358.0 216.1L1359.0 216.3L1360.0 216.5L1361.0 216.8L1362.0 217.1L1363.0 217.4L1364.0 217.7L1365.0 218.0L1366.0 218.3L1367.0 218.6L1368.0 218.9L1369.0 219.2L1370.0 219.5L1371.0 219.6L1372.0 219.6L1373.0 219.7L1374.0 219.8L1375.0 219.8L1376.0 219.9L1377.0 220.0L1378.0 220.1L1379.0 220.1L1380.0 220.2L1381.0 220.3L1382.0 220.4L1383.0 220.5L1384.0 220.6L1385.0 220.8L1386.0 220.9L1387.0 221.0L1388.0 221.1L1389.0 221.2L1390.0 221.3L1391.0 221.6L1392.0 221.8L1393.0 222.1L1394.0 222.4L1395.0 222.7L1396.0 222.9L1397.0 223.2L1398.0 223.5L1399.0 223.7L1400.0 224.0L1401.0 224.2L1402.0 224.5L1403.0 224.8L1404.0 225.0L1405.0 225.2L1406.0 225.5L1407.0 225.8L1408.0 226.0L1409.0 226.2L1410.0 226.5L1411.0 226.8L1412.0 227.0L1413.0 227.3L1414.0 227.6L1415.0 227.8L1416.0 228.1L1417.0 228.4L1418.0 228.7L1419.0 228.9L1420.0 229.2L1421.0 229.6L1422.0 230.0L1423.0 230.4L1424.0 230.8L1425.0 231.2L1426.0 231.7L1427.0 232.1L1428.0 232.5L1429.0 232.9L1430.0 233.3L1431.0 233.7L1432.0 234.0L1433.0 234.4L1434.0 234.8L1435.0 235.2L1436.0 235.5L1437.0 235.9L1438.0 236.3L1439.0 236.6L1440.0 237.0L1441.0 237.4L1442.0 237.7L1443.0 238.1L1444.0 238.5L1445.0 238.8L1446.0 239.2L1447.0 239.6L1448.0 240.0L1449.0 240.3L1450.0 240.7L1451.0 241.1L1452.0 241.6L1453.0 242.0L1454.0 242.5L1455.0 242.9L1456.0 243.4L1457.0 243.8L1458.0 244.3L1459.0 244.8L1460.0 245.2L1461.0 245.8L1462.0 246.4L1463.0 247.0L1464.0 247.6L1465.0 248.2L1466.0 248.9L1467.0 249.5L1468.0 250.1L1469.0 250.7L1470.0 251.3L1471.0 251.8L1472.0 252.2L1473.0 252.7L1474.0 253.2L1475.0 253.7L1476.0 254.1L1477.0 254.6L1478.0 255.1L1479.0 255.5L1480.0 256.0L1481.0 256.6L1482.0 257.1L1483.0 257.6L1484.0 258.2L1485.0 258.8L1486.0 259.3L1487.0 259.9L1488.0 260.4L1489.0 260.9L1490.0 261.5L1491.0 262.1L1492.0 262.7L1493.0 263.2L1494.0 263.8L1495.0 264.4L1496.0 265.0L1497.0 265.6L1498.0 266.1L1499.0 266.7L1500.0 267.3L1501.0 268.1L1502.0 268.8L1503.0 269.6L1504.0 270.3L1505.0 271.1L1506.0 271.8L1507.0 272.6L1508.0 273.3L1509.0 274.1L1510.0 274.8L1511.0 275.5L1512.0 276.2L1513.0 276.9L1514.0 277.6L1515.0 278.4L1516.0 279.1L1517.0 279.8L1518.0 280.5L1519.0 281.2L1520.0 281.9L1521.0 282.9L1522.0 283.9L1523.0 285.0L1524.0 286.0L1525.0 287.0" stroke="#7D4E4E"/>
<path d="M423.0 181.0L426.0 172.6L428.0 167.3L432.0 164.8L434.0 161.3L436.0 159.4L438.0 160.5L439.0 168.9L440.0 173.4L442.0 173.4L443.0 168.0L444.0 162.0L447.0 160.4L449.0 161.0L449.5 171.4L451.0 170.0L452.0 169.2L453.5 169.2L454.0 172.3L459.0 172.3L459.5 168.0L461.0 166.0L463.0 165.3L464.5 165.3L465.0 175.0L467.0 177.0L471.0 180.0L472.0 182.4L474.0 181.0L476.0 180.3L477.0 184.0L480.0 186.0L480.0 191.0L479.0 191.0L478.0 191.0L477.0 191.0L476.0 191.0L475.0 191.0L474.0 191.0L473.0 191.0L472.0 191.0L471.0 191.0L470.0 191.0L469.0 190.8L468.0 190.7L467.0 190.6L466.0 190.4L465.0 190.2L464.0 190.1L463.0 189.9L462.0 189.8L461.0 189.7L460.0 189.5L459.0 189.4L458.0 189.3L457.0 189.2L456.0 189.1L455.0 189.0L454.0 188.9L453.0 188.8L452.0 188.7L451.0 188.6L450.0 188.5L449.0 188.3L448.0 188.2L447.0 188.1L446.0 187.9L445.0 187.8L444.0 187.6L443.0 187.4L442.0 187.3L441.0 187.2L440.0 187.0L439.0 186.8L438.0 186.7L437.0 186.6L436.0 186.4L435.0 186.2L434.0 186.1L433.0 185.9L432.0 185.8L431.0 185.7L430.0 185.5L429.0 185.2L428.0 184.9L427.0 184.6L426.0 184.3L425.0 184.0L424.0 183.7L423.0 183.4Z" fill="#7D4E4E" stroke="none"/>
<path d="M735.0 201.8L735.0 198.8M742.0 202.0L742.0 197.0M750.0 202.1L750.0 195.8M758.0 202.1L758.0 198.1M767.0 202.1L767.0 195.8M775.0 202.2L775.0 195.8M783.0 202.2L783.0 197.8M793.0 202.3L793.0 195.8M802.0 202.3L802.0 194.1M809.0 202.2L809.0 195.8M820.0 202.2L820.0 194.8M828.0 202.1L828.0 195.2M839.0 202.1L839.0 191.8M846.0 202.0L846.0 191.1M855.0 201.9L855.0 193.1M861.0 201.9L861.0 182.9M867.0 201.8L867.0 188.2M874.0 201.8L874.0 192.8M883.0 201.7L883.0 181.1M892.0 201.6L892.0 189.1M900.0 201.5L900.0 194.1M921.0 202.3L921.0 194.1M931.0 202.0L931.0 187.2M938.0 201.7L938.0 191.6M942.0 201.6L942.0 188.1M951.0 201.3L951.0 186.3M960.0 201.0L960.0 182.2M966.0 201.0L966.0 193.3M970.0 201.0L970.0 192.9M977.0 201.0L977.0 194.1M983.0 201.0L983.0 194.8M989.0 201.0L989.0 187.0M995.0 201.0L995.0 197.0M1001.0 201.0L1001.0 185.2M1013.0 200.9L1013.0 191.1M1029.0 200.4L1029.0 192.2M1040.0 200.0L1040.0 195.9M1067.0 199.5L1067.0 192.3M971.5 201.0L971.5 199.7M902.3 201.7L902.3 199.3M989.9 201.0L989.9 196.4M1019.5 200.7L1019.5 199.0M930.2 202.0L930.2 200.6M891.5 201.6L891.5 197.9M855.0 201.9L855.0 199.8M973.5 201.0L973.5 197.1M891.9 201.6L891.9 197.4M1003.8 201.0L1003.8 199.8M1003.1 201.0L1003.1 196.3M914.6 202.5L914.6 200.5M1031.9 200.3L1031.9 197.4M867.6 201.8L867.6 200.1M1011.0 201.0L1011.0 196.7M1003.4 201.0L1003.4 196.2M951.9 201.3L951.9 195.2M921.9 202.3L921.9 198.3M1007.6 201.0L1007.6 196.7M1013.7 200.9L1013.7 196.8M983.9 201.0L983.9 199.6M893.3 201.6L893.3 198.9M865.2 201.8L865.2 199.5M869.2 201.8L869.2 199.2M970.8 201.0L970.8 198.0M920.3 202.3L920.3 200.1M900.7 201.5L900.7 195.7M973.1 201.0L973.1 196.8M882.5 201.7L882.5 196.8M881.0 201.7L881.0 198.6M1038.0 200.1L1038.0 195.7M955.8 201.1L955.8 196.5M1010.1 201.0L1010.1 195.9M893.5 201.6L893.5 200.2M909.9 202.2L909.9 199.6M890.1 201.6L890.1 195.7M1016.5 200.8L1016.5 198.0M974.5 201.0L974.5 197.8M1023.8 200.5L1023.8 197.0M900.3 201.5L900.3 199.1M956.7 201.1L956.7 198.6M961.1 201.0L961.1 195.3M925.9 202.1L925.9 199.8M1039.5 200.0L1039.5 196.3M867.3 201.8L867.3 200.4M870.8 201.8L870.8 197.5M1000.5 201.0L1000.5 197.7M862.1 201.9L862.1 198.8M1039.3 200.0L1039.3 196.2M1034.5 200.2L1034.5 194.7M852.2 202.0L852.2 197.2M979.5 201.0L979.5 197.1M900.7 201.5L900.7 197.1M871.2 201.8L871.2 198.4M936.2 201.8L936.2 195.8M1016.4 200.8L1016.4 198.3M945.1 201.5L945.1 199.4M1023.4 200.6L1023.4 195.0M906.7 201.9L906.7 197.6M965.7 201.0L965.7 199.0" stroke="#7D4E4E" stroke-width="3.6" stroke-linecap="round"/>
</g>
<g class="tk">
<text transform="translate(226.4 1216) scale(0.985 1)" text-anchor="middle">1000</text>
<text transform="translate(356.1 1216) scale(0.985 1)" text-anchor="middle">2000</text>
<text transform="translate(485.7 1216) scale(0.985 1)" text-anchor="middle">3000</text>
<text transform="translate(615.4 1216) scale(0.985 1)" text-anchor="middle">4000</text>
<text transform="translate(745.1 1216) scale(0.985 1)" text-anchor="middle">5000</text>
<text transform="translate(874.8 1216) scale(0.985 1)" text-anchor="middle">6000</text>
<text transform="translate(1004.4 1216) scale(0.985 1)" text-anchor="middle">7000</text>
<text transform="translate(1134.1 1216) scale(0.985 1)" text-anchor="middle">8000</text>
<text transform="translate(1263.8 1216) scale(0.985 1)" text-anchor="middle">9000</text>
<text transform="translate(1393.4 1216) scale(0.985 1)" text-anchor="middle">10,000</text>
<text transform="translate(1539.5 1216) scale(0.985 1)" text-anchor="middle">11,000</text>
<text transform="translate(128.2 62.2) scale(0.975 1)" text-anchor="end">100</text>
<text transform="translate(128.2 430.1) scale(0.975 1)" text-anchor="end">80</text>
<text transform="translate(128.2 798.2) scale(0.975 1)" text-anchor="end">60</text>
<text transform="translate(128.2 1166.3) scale(0.975 1)" text-anchor="end">40</text>
</g>
<text transform="translate(839.5 1298) scale(0.97 1)" text-anchor="middle" class="ti">Wavelength(nm)</text>
<text transform="translate(57 617) rotate(-90) scale(0.965 1)" text-anchor="middle" class="ti">Transmittance(%)</text>
<g>
<line x1="1251" y1="87.0" x2="1379" y2="87.0" stroke="#515151" stroke-width="4" stroke-linecap="round"/>
<text transform="translate(1393 106.5) scale(0.96 1)" class="lg">0min</text>
<line x1="1251" y1="157.7" x2="1379" y2="157.7" stroke="#F14040" stroke-width="4" stroke-linecap="round"/>
<text transform="translate(1393 177.2) scale(0.96 1)" class="lg">1min</text>
<line x1="1251" y1="228.4" x2="1379" y2="228.4" stroke="#1A6FDF" stroke-width="4" stroke-linecap="round"/>
<text transform="translate(1393 247.9) scale(0.96 1)" class="lg">2min</text>
<line x1="1251" y1="299.1" x2="1379" y2="299.1" stroke="#37AD6B" stroke-width="4" stroke-linecap="round"/>
<text transform="translate(1393 318.6) scale(0.96 1)" class="lg">3min</text>
<line x1="1251" y1="369.8" x2="1379" y2="369.8" stroke="#B177DE" stroke-width="4" stroke-linecap="round"/>
<text transform="translate(1393 389.3) scale(0.96 1)" class="lg">4min</text>
<line x1="1251" y1="440.5" x2="1379" y2="440.5" stroke="#CC9900" stroke-width="4" stroke-linecap="round"/>
<text transform="translate(1393 460.0) scale(0.96 1)" class="lg">5min</text>
<line x1="1251" y1="511.2" x2="1379" y2="511.2" stroke="#00CBCC" stroke-width="4" stroke-linecap="round"/>
<text transform="translate(1393 530.7) scale(0.96 1)" class="lg">6min</text>
<line x1="1251" y1="581.9" x2="1379" y2="581.9" stroke="#7D4E4E" stroke-width="4" stroke-linecap="round"/>
<text transform="translate(1393.3 600.9)" font-size="58" style="stroke:#fff;stroke-width:0.7px">BaF<tspan font-size="40" dy="16">2</tspan></text>
</g>
<g>
<rect x="283" y="704" width="3" height="337"/><rect x="283" y="704" width="419" height="3"/><rect x="700" y="704" width="2" height="337"/><rect x="283" y="1039" width="419" height="2"/>
<rect x="284.5" y="955.3" width="5.5" height="2.2"/>
<rect x="284.5" y="871.6" width="5.5" height="2.2"/>
<rect x="284.5" y="788.0" width="5.5" height="2.2"/>
<rect x="284.5" y="997.2" width="2.8" height="2"/>
<rect x="284.5" y="913.6" width="2.8" height="2"/>
<rect x="284.5" y="829.9" width="2.8" height="2"/>
<rect x="284.5" y="746.3" width="2.8" height="2"/>
<rect x="491.2" y="1033.0" width="3" height="7"/>
<rect x="387.4" y="1036.0" width="2.5" height="4"/>
<rect x="595.6" y="1036.0" width="2.5" height="4"/>
<text x="276" y="710.5" text-anchor="end" class="it">0. 12</text>
<text x="276" y="794.1" text-anchor="end" class="it">0. 10</text>
<text x="276" y="877.8" text-anchor="end" class="it">0. 08</text>
<text x="276" y="961.4" text-anchor="end" class="it">0. 06</text>
<text x="276" y="1045.0" text-anchor="end" class="it">0. 04</text>
<text x="283.7" y="1059" text-anchor="middle" class="it">300</text>
<text x="491.9" y="1059" text-anchor="middle" class="it">400</text>
<text x="700.2" y="1059" text-anchor="middle" class="it">500</text>
<text x="469.5" y="1077" text-anchor="middle" class="ia">Wavelength(nm)</text>
<text transform="translate(239 882) rotate(-90)" text-anchor="middle" class="ia">Absorption(%)</text>
<path d="M285.0 865.0L301.5 898.2L311.0 920.2L320.4 945.5L333.0 967.5L339.3 983.3L342.5 1002.0L344.7 1010.0L348.8 989.6L355.0 964.4L360.8 929.7L367.7 910.8L372.4 888.7L380.3 873.0L388.2 847.7L394.5 836.7L402.4 832.0L415.0 822.5L427.6 809.8L432.3 794.0L435.3 763.0L437.1 745.0L440.5 738.5L441.6 741.0L443.0 756.0L445.0 770.0L451.3 813.0L459.2 835.0L475.0 869.8L490.7 891.9L500.2 899.7L522.2 910.8L538.0 923.4L569.6 939.2L588.5 943.9L620.0 951.2L651.5 957.5L700.0 965.0" stroke="#FF0000" stroke-width="2.6" fill="none" stroke-linejoin="round"/>
</g>
</svg>
</body></html>
